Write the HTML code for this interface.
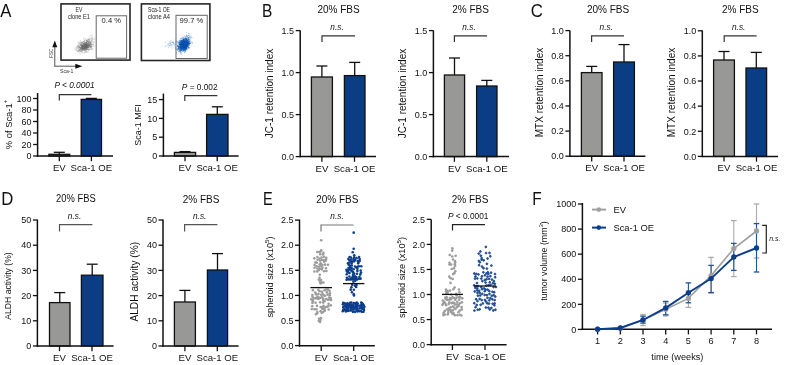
<!DOCTYPE html>
<html><head><meta charset="utf-8"><style>
html,body{margin:0;padding:0;background:#fff;}
svg{display:block;font-family:"Liberation Sans", sans-serif;}
</style></head><body>
<svg width="794" height="365" viewBox="0 0 794 365" fill="#111">
<defs><filter id="gs" filterUnits="userSpaceOnUse" x="0" y="0" width="794" height="365" color-interpolation-filters="sRGB"><feColorMatrix type="saturate" values="0"/></filter></defs>
<rect width="794" height="365" fill="#fff"/>
<g>
<circle cx="83.88" cy="47.94" r="0.45" fill="#6a6a6a" fill-opacity="0.4"/>
<circle cx="83.99" cy="45.82" r="0.45" fill="#6a6a6a" fill-opacity="0.4"/>
<circle cx="81.45" cy="46.74" r="0.45" fill="#6a6a6a" fill-opacity="0.4"/>
<circle cx="88.80" cy="46.42" r="0.45" fill="#6a6a6a" fill-opacity="0.4"/>
<circle cx="88.53" cy="46.05" r="0.45" fill="#6a6a6a" fill-opacity="0.4"/>
<circle cx="86.22" cy="46.50" r="0.45" fill="#6a6a6a" fill-opacity="0.4"/>
<circle cx="78.80" cy="50.14" r="0.45" fill="#6a6a6a" fill-opacity="0.4"/>
<circle cx="86.62" cy="47.18" r="0.45" fill="#6a6a6a" fill-opacity="0.4"/>
<circle cx="78.71" cy="43.59" r="0.45" fill="#6a6a6a" fill-opacity="0.4"/>
<circle cx="81.60" cy="46.06" r="0.45" fill="#6a6a6a" fill-opacity="0.4"/>
<circle cx="85.90" cy="46.00" r="0.45" fill="#6a6a6a" fill-opacity="0.4"/>
<circle cx="86.68" cy="44.28" r="0.45" fill="#6a6a6a" fill-opacity="0.4"/>
<circle cx="85.91" cy="47.11" r="0.45" fill="#6a6a6a" fill-opacity="0.4"/>
<circle cx="82.42" cy="51.37" r="0.45" fill="#6a6a6a" fill-opacity="0.4"/>
<circle cx="86.80" cy="48.90" r="0.45" fill="#6a6a6a" fill-opacity="0.4"/>
<circle cx="82.57" cy="45.12" r="0.45" fill="#6a6a6a" fill-opacity="0.4"/>
<circle cx="83.56" cy="46.46" r="0.45" fill="#6a6a6a" fill-opacity="0.4"/>
<circle cx="87.08" cy="46.43" r="0.45" fill="#6a6a6a" fill-opacity="0.4"/>
<circle cx="83.19" cy="44.40" r="0.45" fill="#6a6a6a" fill-opacity="0.4"/>
<circle cx="82.93" cy="49.98" r="0.45" fill="#6a6a6a" fill-opacity="0.4"/>
<circle cx="81.89" cy="47.78" r="0.45" fill="#6a6a6a" fill-opacity="0.4"/>
<circle cx="86.34" cy="42.23" r="0.45" fill="#6a6a6a" fill-opacity="0.4"/>
<circle cx="84.97" cy="49.66" r="0.45" fill="#6a6a6a" fill-opacity="0.4"/>
<circle cx="77.55" cy="47.49" r="0.45" fill="#6a6a6a" fill-opacity="0.4"/>
<circle cx="84.42" cy="44.43" r="0.45" fill="#6a6a6a" fill-opacity="0.4"/>
<circle cx="86.59" cy="45.77" r="0.45" fill="#6a6a6a" fill-opacity="0.4"/>
<circle cx="79.53" cy="49.88" r="0.45" fill="#6a6a6a" fill-opacity="0.4"/>
<circle cx="87.21" cy="48.16" r="0.45" fill="#6a6a6a" fill-opacity="0.4"/>
<circle cx="89.99" cy="45.95" r="0.45" fill="#6a6a6a" fill-opacity="0.4"/>
<circle cx="85.23" cy="43.00" r="0.45" fill="#6a6a6a" fill-opacity="0.4"/>
<circle cx="87.02" cy="44.27" r="0.45" fill="#6a6a6a" fill-opacity="0.4"/>
<circle cx="83.17" cy="43.63" r="0.45" fill="#6a6a6a" fill-opacity="0.4"/>
<circle cx="81.32" cy="45.97" r="0.45" fill="#6a6a6a" fill-opacity="0.4"/>
<circle cx="89.44" cy="40.04" r="0.45" fill="#6a6a6a" fill-opacity="0.4"/>
<circle cx="79.55" cy="48.38" r="0.45" fill="#6a6a6a" fill-opacity="0.4"/>
<circle cx="90.00" cy="46.50" r="0.45" fill="#6a6a6a" fill-opacity="0.4"/>
<circle cx="77.96" cy="41.83" r="0.45" fill="#6a6a6a" fill-opacity="0.4"/>
<circle cx="86.09" cy="44.20" r="0.45" fill="#6a6a6a" fill-opacity="0.4"/>
<circle cx="80.77" cy="49.93" r="0.45" fill="#6a6a6a" fill-opacity="0.4"/>
<circle cx="88.77" cy="45.76" r="0.45" fill="#6a6a6a" fill-opacity="0.4"/>
<circle cx="85.68" cy="47.27" r="0.45" fill="#6a6a6a" fill-opacity="0.4"/>
<circle cx="90.54" cy="46.46" r="0.45" fill="#6a6a6a" fill-opacity="0.4"/>
<circle cx="86.67" cy="47.30" r="0.45" fill="#6a6a6a" fill-opacity="0.4"/>
<circle cx="79.15" cy="51.12" r="0.45" fill="#6a6a6a" fill-opacity="0.4"/>
<circle cx="88.24" cy="46.84" r="0.45" fill="#6a6a6a" fill-opacity="0.4"/>
<circle cx="77.69" cy="46.66" r="0.45" fill="#6a6a6a" fill-opacity="0.4"/>
<circle cx="87.83" cy="41.02" r="0.45" fill="#6a6a6a" fill-opacity="0.4"/>
<circle cx="84.14" cy="49.15" r="0.45" fill="#6a6a6a" fill-opacity="0.4"/>
<circle cx="80.08" cy="51.71" r="0.45" fill="#6a6a6a" fill-opacity="0.4"/>
<circle cx="86.79" cy="45.50" r="0.45" fill="#6a6a6a" fill-opacity="0.4"/>
<circle cx="85.97" cy="47.74" r="0.45" fill="#6a6a6a" fill-opacity="0.4"/>
<circle cx="85.23" cy="49.18" r="0.45" fill="#6a6a6a" fill-opacity="0.4"/>
<circle cx="82.42" cy="45.98" r="0.45" fill="#6a6a6a" fill-opacity="0.4"/>
<circle cx="88.55" cy="45.48" r="0.45" fill="#6a6a6a" fill-opacity="0.4"/>
<circle cx="81.63" cy="49.63" r="0.45" fill="#6a6a6a" fill-opacity="0.4"/>
<circle cx="90.08" cy="43.89" r="0.45" fill="#6a6a6a" fill-opacity="0.4"/>
<circle cx="79.83" cy="47.36" r="0.45" fill="#6a6a6a" fill-opacity="0.4"/>
<circle cx="84.26" cy="45.79" r="0.45" fill="#6a6a6a" fill-opacity="0.4"/>
<circle cx="89.86" cy="42.48" r="0.45" fill="#6a6a6a" fill-opacity="0.4"/>
<circle cx="89.34" cy="42.00" r="0.45" fill="#6a6a6a" fill-opacity="0.4"/>
<circle cx="81.97" cy="48.74" r="0.45" fill="#6a6a6a" fill-opacity="0.4"/>
<circle cx="88.86" cy="47.51" r="0.45" fill="#6a6a6a" fill-opacity="0.4"/>
<circle cx="86.04" cy="46.43" r="0.45" fill="#6a6a6a" fill-opacity="0.4"/>
<circle cx="85.35" cy="47.71" r="0.45" fill="#6a6a6a" fill-opacity="0.4"/>
<circle cx="84.17" cy="47.27" r="0.45" fill="#6a6a6a" fill-opacity="0.4"/>
<circle cx="86.86" cy="45.86" r="0.45" fill="#6a6a6a" fill-opacity="0.4"/>
<circle cx="87.55" cy="47.11" r="0.45" fill="#6a6a6a" fill-opacity="0.4"/>
<circle cx="92.04" cy="45.32" r="0.45" fill="#6a6a6a" fill-opacity="0.4"/>
<circle cx="83.26" cy="45.86" r="0.45" fill="#6a6a6a" fill-opacity="0.4"/>
<circle cx="84.75" cy="48.75" r="0.45" fill="#6a6a6a" fill-opacity="0.4"/>
<circle cx="83.59" cy="47.69" r="0.45" fill="#6a6a6a" fill-opacity="0.4"/>
<circle cx="91.41" cy="38.18" r="0.45" fill="#6a6a6a" fill-opacity="0.4"/>
<circle cx="80.75" cy="48.08" r="0.45" fill="#6a6a6a" fill-opacity="0.4"/>
<circle cx="86.23" cy="46.63" r="0.45" fill="#6a6a6a" fill-opacity="0.4"/>
<circle cx="83.25" cy="48.46" r="0.45" fill="#6a6a6a" fill-opacity="0.4"/>
<circle cx="85.82" cy="44.81" r="0.45" fill="#6a6a6a" fill-opacity="0.4"/>
<circle cx="93.55" cy="45.00" r="0.45" fill="#6a6a6a" fill-opacity="0.4"/>
<circle cx="82.80" cy="46.67" r="0.45" fill="#6a6a6a" fill-opacity="0.4"/>
<circle cx="83.99" cy="46.45" r="0.45" fill="#6a6a6a" fill-opacity="0.4"/>
<circle cx="74.98" cy="47.75" r="0.45" fill="#6a6a6a" fill-opacity="0.4"/>
<circle cx="88.43" cy="42.49" r="0.45" fill="#6a6a6a" fill-opacity="0.4"/>
<circle cx="84.56" cy="48.87" r="0.45" fill="#6a6a6a" fill-opacity="0.4"/>
<circle cx="87.88" cy="49.36" r="0.45" fill="#6a6a6a" fill-opacity="0.4"/>
<circle cx="78.67" cy="47.11" r="0.45" fill="#6a6a6a" fill-opacity="0.4"/>
<circle cx="83.57" cy="48.30" r="0.45" fill="#6a6a6a" fill-opacity="0.4"/>
<circle cx="88.73" cy="38.58" r="0.45" fill="#6a6a6a" fill-opacity="0.4"/>
<circle cx="88.72" cy="41.71" r="0.45" fill="#6a6a6a" fill-opacity="0.4"/>
<circle cx="87.26" cy="41.98" r="0.45" fill="#6a6a6a" fill-opacity="0.4"/>
<circle cx="85.43" cy="49.26" r="0.45" fill="#6a6a6a" fill-opacity="0.4"/>
<circle cx="84.26" cy="47.02" r="0.45" fill="#6a6a6a" fill-opacity="0.4"/>
<circle cx="87.67" cy="46.00" r="0.45" fill="#6a6a6a" fill-opacity="0.4"/>
<circle cx="84.48" cy="50.36" r="0.45" fill="#6a6a6a" fill-opacity="0.4"/>
<circle cx="88.57" cy="44.67" r="0.45" fill="#6a6a6a" fill-opacity="0.4"/>
<circle cx="94.68" cy="40.91" r="0.45" fill="#6a6a6a" fill-opacity="0.4"/>
<circle cx="88.09" cy="44.86" r="0.45" fill="#6a6a6a" fill-opacity="0.4"/>
<circle cx="85.28" cy="48.06" r="0.45" fill="#6a6a6a" fill-opacity="0.4"/>
<circle cx="85.60" cy="47.81" r="0.45" fill="#6a6a6a" fill-opacity="0.4"/>
<circle cx="79.30" cy="44.03" r="0.45" fill="#6a6a6a" fill-opacity="0.4"/>
<circle cx="87.01" cy="43.38" r="0.45" fill="#6a6a6a" fill-opacity="0.4"/>
<circle cx="81.10" cy="43.65" r="0.45" fill="#6a6a6a" fill-opacity="0.4"/>
<circle cx="89.36" cy="47.09" r="0.45" fill="#6a6a6a" fill-opacity="0.4"/>
<circle cx="90.10" cy="42.64" r="0.45" fill="#6a6a6a" fill-opacity="0.4"/>
<circle cx="84.80" cy="43.51" r="0.45" fill="#6a6a6a" fill-opacity="0.4"/>
<circle cx="87.56" cy="49.70" r="0.45" fill="#6a6a6a" fill-opacity="0.4"/>
<circle cx="81.60" cy="51.19" r="0.45" fill="#6a6a6a" fill-opacity="0.4"/>
<circle cx="88.36" cy="45.02" r="0.45" fill="#6a6a6a" fill-opacity="0.4"/>
<circle cx="77.70" cy="51.82" r="0.45" fill="#6a6a6a" fill-opacity="0.4"/>
<circle cx="84.45" cy="44.97" r="0.45" fill="#6a6a6a" fill-opacity="0.4"/>
<circle cx="86.24" cy="47.06" r="0.45" fill="#6a6a6a" fill-opacity="0.4"/>
<circle cx="90.19" cy="42.40" r="0.45" fill="#6a6a6a" fill-opacity="0.4"/>
<circle cx="88.89" cy="49.09" r="0.45" fill="#6a6a6a" fill-opacity="0.4"/>
<circle cx="90.03" cy="44.57" r="0.45" fill="#6a6a6a" fill-opacity="0.4"/>
<circle cx="82.12" cy="49.68" r="0.45" fill="#6a6a6a" fill-opacity="0.4"/>
<circle cx="85.21" cy="46.61" r="0.45" fill="#6a6a6a" fill-opacity="0.4"/>
<circle cx="89.93" cy="44.39" r="0.45" fill="#6a6a6a" fill-opacity="0.4"/>
<circle cx="76.53" cy="47.59" r="0.45" fill="#6a6a6a" fill-opacity="0.4"/>
<circle cx="78.13" cy="50.22" r="0.45" fill="#6a6a6a" fill-opacity="0.4"/>
<circle cx="85.94" cy="44.55" r="0.45" fill="#6a6a6a" fill-opacity="0.4"/>
<circle cx="84.77" cy="48.51" r="0.45" fill="#6a6a6a" fill-opacity="0.4"/>
<circle cx="85.08" cy="49.68" r="0.45" fill="#6a6a6a" fill-opacity="0.4"/>
<circle cx="84.58" cy="49.09" r="0.45" fill="#6a6a6a" fill-opacity="0.4"/>
<circle cx="90.17" cy="49.06" r="0.45" fill="#6a6a6a" fill-opacity="0.4"/>
<circle cx="82.38" cy="49.26" r="0.45" fill="#6a6a6a" fill-opacity="0.4"/>
<circle cx="78.05" cy="45.43" r="0.45" fill="#6a6a6a" fill-opacity="0.4"/>
<circle cx="77.73" cy="50.96" r="0.45" fill="#6a6a6a" fill-opacity="0.4"/>
<circle cx="80.37" cy="47.53" r="0.45" fill="#6a6a6a" fill-opacity="0.4"/>
<circle cx="84.11" cy="46.51" r="0.45" fill="#6a6a6a" fill-opacity="0.4"/>
<circle cx="82.67" cy="47.55" r="0.45" fill="#6a6a6a" fill-opacity="0.4"/>
<circle cx="91.25" cy="44.82" r="0.45" fill="#6a6a6a" fill-opacity="0.4"/>
<circle cx="86.71" cy="48.43" r="0.45" fill="#6a6a6a" fill-opacity="0.4"/>
<circle cx="84.09" cy="43.40" r="0.45" fill="#6a6a6a" fill-opacity="0.4"/>
<circle cx="82.80" cy="49.64" r="0.45" fill="#6a6a6a" fill-opacity="0.4"/>
<circle cx="78.87" cy="46.44" r="0.45" fill="#6a6a6a" fill-opacity="0.4"/>
<circle cx="88.43" cy="47.45" r="0.45" fill="#6a6a6a" fill-opacity="0.4"/>
<circle cx="84.83" cy="48.43" r="0.45" fill="#6a6a6a" fill-opacity="0.4"/>
<circle cx="85.40" cy="43.26" r="0.45" fill="#6a6a6a" fill-opacity="0.4"/>
<circle cx="79.17" cy="46.26" r="0.45" fill="#6a6a6a" fill-opacity="0.4"/>
<circle cx="88.12" cy="44.10" r="0.45" fill="#6a6a6a" fill-opacity="0.4"/>
<circle cx="81.55" cy="45.30" r="0.45" fill="#6a6a6a" fill-opacity="0.4"/>
<circle cx="79.29" cy="47.55" r="0.45" fill="#6a6a6a" fill-opacity="0.4"/>
<circle cx="80.55" cy="48.44" r="0.45" fill="#6a6a6a" fill-opacity="0.4"/>
<circle cx="76.30" cy="49.46" r="0.45" fill="#6a6a6a" fill-opacity="0.4"/>
<circle cx="82.49" cy="42.09" r="0.45" fill="#6a6a6a" fill-opacity="0.4"/>
<circle cx="87.41" cy="45.02" r="0.45" fill="#6a6a6a" fill-opacity="0.4"/>
<circle cx="76.77" cy="46.29" r="0.45" fill="#6a6a6a" fill-opacity="0.4"/>
<circle cx="85.85" cy="44.97" r="0.45" fill="#6a6a6a" fill-opacity="0.4"/>
<circle cx="87.61" cy="47.55" r="0.45" fill="#6a6a6a" fill-opacity="0.4"/>
<circle cx="87.20" cy="46.60" r="0.45" fill="#6a6a6a" fill-opacity="0.4"/>
<circle cx="89.60" cy="46.81" r="0.45" fill="#6a6a6a" fill-opacity="0.4"/>
<circle cx="86.42" cy="40.70" r="0.45" fill="#6a6a6a" fill-opacity="0.4"/>
<circle cx="88.03" cy="48.86" r="0.45" fill="#6a6a6a" fill-opacity="0.4"/>
<circle cx="83.73" cy="45.49" r="0.45" fill="#6a6a6a" fill-opacity="0.4"/>
<circle cx="91.79" cy="40.12" r="0.45" fill="#6a6a6a" fill-opacity="0.4"/>
<circle cx="86.49" cy="52.09" r="0.45" fill="#6a6a6a" fill-opacity="0.4"/>
<circle cx="81.46" cy="49.02" r="0.45" fill="#6a6a6a" fill-opacity="0.4"/>
<circle cx="91.59" cy="44.31" r="0.45" fill="#6a6a6a" fill-opacity="0.4"/>
<circle cx="86.82" cy="48.15" r="0.45" fill="#6a6a6a" fill-opacity="0.4"/>
<circle cx="81.54" cy="47.03" r="0.45" fill="#6a6a6a" fill-opacity="0.4"/>
<circle cx="85.85" cy="48.21" r="0.45" fill="#6a6a6a" fill-opacity="0.4"/>
<circle cx="84.68" cy="45.94" r="0.45" fill="#6a6a6a" fill-opacity="0.4"/>
<circle cx="81.14" cy="46.45" r="0.45" fill="#6a6a6a" fill-opacity="0.4"/>
<circle cx="88.01" cy="45.81" r="0.45" fill="#6a6a6a" fill-opacity="0.4"/>
<circle cx="81.73" cy="45.08" r="0.45" fill="#6a6a6a" fill-opacity="0.4"/>
<circle cx="94.40" cy="46.76" r="0.45" fill="#6a6a6a" fill-opacity="0.4"/>
<circle cx="87.09" cy="39.24" r="0.45" fill="#6a6a6a" fill-opacity="0.4"/>
<circle cx="87.04" cy="47.03" r="0.45" fill="#6a6a6a" fill-opacity="0.4"/>
<circle cx="90.86" cy="45.89" r="0.45" fill="#6a6a6a" fill-opacity="0.4"/>
<circle cx="84.56" cy="47.79" r="0.45" fill="#6a6a6a" fill-opacity="0.4"/>
<circle cx="77.80" cy="50.85" r="0.45" fill="#6a6a6a" fill-opacity="0.4"/>
<circle cx="85.97" cy="44.32" r="0.45" fill="#6a6a6a" fill-opacity="0.4"/>
<circle cx="89.57" cy="49.72" r="0.45" fill="#6a6a6a" fill-opacity="0.4"/>
<circle cx="79.75" cy="46.04" r="0.45" fill="#6a6a6a" fill-opacity="0.4"/>
<circle cx="85.85" cy="46.59" r="0.45" fill="#6a6a6a" fill-opacity="0.4"/>
<circle cx="83.37" cy="44.31" r="0.45" fill="#6a6a6a" fill-opacity="0.4"/>
<circle cx="92.43" cy="47.02" r="0.45" fill="#6a6a6a" fill-opacity="0.4"/>
<circle cx="80.50" cy="44.13" r="0.45" fill="#6a6a6a" fill-opacity="0.4"/>
<circle cx="90.93" cy="47.29" r="0.45" fill="#6a6a6a" fill-opacity="0.4"/>
<circle cx="91.36" cy="46.73" r="0.45" fill="#6a6a6a" fill-opacity="0.4"/>
<circle cx="81.66" cy="47.88" r="0.45" fill="#6a6a6a" fill-opacity="0.4"/>
<circle cx="77.02" cy="46.55" r="0.45" fill="#6a6a6a" fill-opacity="0.4"/>
<circle cx="84.59" cy="47.78" r="0.45" fill="#6a6a6a" fill-opacity="0.4"/>
<circle cx="82.18" cy="46.77" r="0.45" fill="#6a6a6a" fill-opacity="0.4"/>
<circle cx="86.45" cy="46.92" r="0.45" fill="#6a6a6a" fill-opacity="0.4"/>
<circle cx="87.10" cy="46.33" r="0.45" fill="#6a6a6a" fill-opacity="0.4"/>
<circle cx="83.63" cy="48.70" r="0.45" fill="#6a6a6a" fill-opacity="0.4"/>
<circle cx="84.98" cy="44.26" r="0.45" fill="#6a6a6a" fill-opacity="0.4"/>
<circle cx="82.55" cy="46.99" r="0.45" fill="#6a6a6a" fill-opacity="0.4"/>
<circle cx="84.41" cy="46.90" r="0.45" fill="#6a6a6a" fill-opacity="0.4"/>
<circle cx="84.80" cy="46.85" r="0.45" fill="#6a6a6a" fill-opacity="0.4"/>
<circle cx="84.32" cy="43.34" r="0.45" fill="#6a6a6a" fill-opacity="0.4"/>
<circle cx="86.32" cy="48.67" r="0.45" fill="#6a6a6a" fill-opacity="0.4"/>
<circle cx="86.36" cy="45.51" r="0.45" fill="#6a6a6a" fill-opacity="0.4"/>
<circle cx="86.41" cy="43.54" r="0.45" fill="#6a6a6a" fill-opacity="0.4"/>
<circle cx="77.97" cy="48.34" r="0.45" fill="#6a6a6a" fill-opacity="0.4"/>
<circle cx="81.45" cy="49.15" r="0.45" fill="#6a6a6a" fill-opacity="0.4"/>
<circle cx="80.90" cy="40.78" r="0.45" fill="#6a6a6a" fill-opacity="0.4"/>
<circle cx="81.06" cy="51.37" r="0.45" fill="#6a6a6a" fill-opacity="0.4"/>
<circle cx="83.43" cy="43.30" r="0.45" fill="#6a6a6a" fill-opacity="0.4"/>
<circle cx="82.05" cy="48.44" r="0.45" fill="#6a6a6a" fill-opacity="0.4"/>
<circle cx="86.59" cy="46.38" r="0.45" fill="#6a6a6a" fill-opacity="0.4"/>
<circle cx="90.14" cy="46.78" r="0.45" fill="#6a6a6a" fill-opacity="0.4"/>
<circle cx="84.72" cy="47.93" r="0.45" fill="#6a6a6a" fill-opacity="0.4"/>
<circle cx="90.76" cy="47.29" r="0.45" fill="#6a6a6a" fill-opacity="0.4"/>
<circle cx="88.49" cy="42.69" r="0.45" fill="#6a6a6a" fill-opacity="0.4"/>
<circle cx="84.27" cy="48.39" r="0.45" fill="#6a6a6a" fill-opacity="0.4"/>
<circle cx="83.73" cy="49.38" r="0.45" fill="#6a6a6a" fill-opacity="0.4"/>
<circle cx="86.95" cy="48.13" r="0.45" fill="#6a6a6a" fill-opacity="0.4"/>
<circle cx="84.04" cy="53.04" r="0.45" fill="#6a6a6a" fill-opacity="0.4"/>
<circle cx="89.26" cy="44.68" r="0.45" fill="#6a6a6a" fill-opacity="0.4"/>
<circle cx="85.13" cy="52.88" r="0.45" fill="#6a6a6a" fill-opacity="0.4"/>
<circle cx="83.56" cy="48.94" r="0.45" fill="#6a6a6a" fill-opacity="0.4"/>
<circle cx="88.33" cy="45.49" r="0.45" fill="#6a6a6a" fill-opacity="0.4"/>
<circle cx="80.60" cy="47.98" r="0.45" fill="#6a6a6a" fill-opacity="0.4"/>
<circle cx="86.09" cy="48.92" r="0.45" fill="#6a6a6a" fill-opacity="0.4"/>
<circle cx="87.62" cy="45.72" r="0.45" fill="#6a6a6a" fill-opacity="0.4"/>
<circle cx="87.87" cy="46.96" r="0.45" fill="#6a6a6a" fill-opacity="0.4"/>
<circle cx="85.54" cy="46.34" r="0.45" fill="#6a6a6a" fill-opacity="0.4"/>
<circle cx="83.92" cy="48.37" r="0.45" fill="#6a6a6a" fill-opacity="0.4"/>
<circle cx="81.00" cy="45.81" r="0.45" fill="#6a6a6a" fill-opacity="0.4"/>
<circle cx="84.82" cy="42.69" r="0.45" fill="#6a6a6a" fill-opacity="0.4"/>
<circle cx="83.23" cy="41.73" r="0.45" fill="#6a6a6a" fill-opacity="0.4"/>
<circle cx="82.34" cy="48.48" r="0.45" fill="#6a6a6a" fill-opacity="0.4"/>
<circle cx="86.84" cy="45.73" r="0.45" fill="#6a6a6a" fill-opacity="0.4"/>
<circle cx="83.96" cy="43.04" r="0.45" fill="#6a6a6a" fill-opacity="0.4"/>
<circle cx="91.38" cy="45.98" r="0.45" fill="#6a6a6a" fill-opacity="0.4"/>
<circle cx="88.74" cy="43.14" r="0.45" fill="#6a6a6a" fill-opacity="0.4"/>
<circle cx="84.13" cy="41.97" r="0.45" fill="#6a6a6a" fill-opacity="0.4"/>
<circle cx="87.61" cy="48.03" r="0.45" fill="#6a6a6a" fill-opacity="0.4"/>
<circle cx="77.97" cy="48.06" r="0.45" fill="#6a6a6a" fill-opacity="0.4"/>
<circle cx="87.07" cy="41.35" r="0.45" fill="#6a6a6a" fill-opacity="0.4"/>
<circle cx="78.23" cy="45.43" r="0.45" fill="#6a6a6a" fill-opacity="0.4"/>
<circle cx="82.53" cy="43.45" r="0.45" fill="#6a6a6a" fill-opacity="0.4"/>
<circle cx="84.91" cy="47.00" r="0.45" fill="#6a6a6a" fill-opacity="0.4"/>
<circle cx="87.08" cy="47.58" r="0.45" fill="#6a6a6a" fill-opacity="0.4"/>
<circle cx="90.21" cy="47.92" r="0.45" fill="#6a6a6a" fill-opacity="0.4"/>
<circle cx="80.08" cy="46.36" r="0.45" fill="#6a6a6a" fill-opacity="0.4"/>
<circle cx="80.98" cy="44.68" r="0.45" fill="#6a6a6a" fill-opacity="0.4"/>
<circle cx="84.51" cy="46.49" r="0.45" fill="#6a6a6a" fill-opacity="0.4"/>
<circle cx="86.57" cy="41.92" r="0.45" fill="#6a6a6a" fill-opacity="0.4"/>
<circle cx="80.34" cy="47.51" r="0.45" fill="#6a6a6a" fill-opacity="0.4"/>
<circle cx="84.08" cy="45.80" r="0.45" fill="#6a6a6a" fill-opacity="0.4"/>
<circle cx="84.57" cy="44.54" r="0.45" fill="#6a6a6a" fill-opacity="0.4"/>
<circle cx="87.32" cy="46.63" r="0.45" fill="#6a6a6a" fill-opacity="0.4"/>
<circle cx="84.48" cy="44.78" r="0.45" fill="#6a6a6a" fill-opacity="0.4"/>
<circle cx="84.17" cy="39.68" r="0.45" fill="#6a6a6a" fill-opacity="0.4"/>
<circle cx="81.27" cy="47.42" r="0.45" fill="#6a6a6a" fill-opacity="0.4"/>
<circle cx="79.39" cy="48.33" r="0.45" fill="#6a6a6a" fill-opacity="0.4"/>
<circle cx="85.33" cy="42.78" r="0.45" fill="#6a6a6a" fill-opacity="0.4"/>
<circle cx="83.90" cy="45.84" r="0.45" fill="#6a6a6a" fill-opacity="0.4"/>
<circle cx="86.46" cy="47.51" r="0.45" fill="#6a6a6a" fill-opacity="0.4"/>
<circle cx="84.67" cy="44.28" r="0.45" fill="#6a6a6a" fill-opacity="0.4"/>
<circle cx="84.28" cy="46.37" r="0.45" fill="#6a6a6a" fill-opacity="0.4"/>
<circle cx="87.44" cy="46.45" r="0.45" fill="#6a6a6a" fill-opacity="0.4"/>
<circle cx="82.20" cy="43.66" r="0.45" fill="#6a6a6a" fill-opacity="0.4"/>
<circle cx="83.46" cy="44.88" r="0.45" fill="#6a6a6a" fill-opacity="0.4"/>
<circle cx="80.80" cy="47.16" r="0.45" fill="#6a6a6a" fill-opacity="0.4"/>
<circle cx="83.03" cy="47.13" r="0.45" fill="#6a6a6a" fill-opacity="0.4"/>
<circle cx="86.68" cy="44.86" r="0.45" fill="#6a6a6a" fill-opacity="0.4"/>
<circle cx="93.17" cy="43.39" r="0.45" fill="#6a6a6a" fill-opacity="0.4"/>
<circle cx="88.77" cy="45.67" r="0.45" fill="#6a6a6a" fill-opacity="0.4"/>
<circle cx="88.82" cy="39.34" r="0.45" fill="#6a6a6a" fill-opacity="0.4"/>
<circle cx="82.09" cy="47.73" r="0.45" fill="#6a6a6a" fill-opacity="0.4"/>
<circle cx="86.97" cy="51.74" r="0.45" fill="#6a6a6a" fill-opacity="0.4"/>
<circle cx="85.96" cy="49.33" r="0.45" fill="#6a6a6a" fill-opacity="0.4"/>
<circle cx="87.56" cy="48.07" r="0.45" fill="#6a6a6a" fill-opacity="0.4"/>
<circle cx="86.64" cy="45.52" r="0.45" fill="#6a6a6a" fill-opacity="0.4"/>
<circle cx="86.63" cy="43.19" r="0.45" fill="#6a6a6a" fill-opacity="0.4"/>
<circle cx="89.05" cy="42.71" r="0.45" fill="#6a6a6a" fill-opacity="0.4"/>
<circle cx="85.70" cy="51.53" r="0.45" fill="#6a6a6a" fill-opacity="0.4"/>
<circle cx="84.00" cy="46.66" r="0.45" fill="#6a6a6a" fill-opacity="0.4"/>
<circle cx="88.99" cy="45.37" r="0.45" fill="#6a6a6a" fill-opacity="0.4"/>
<circle cx="81.89" cy="47.82" r="0.45" fill="#6a6a6a" fill-opacity="0.4"/>
<circle cx="86.90" cy="47.65" r="0.45" fill="#6a6a6a" fill-opacity="0.4"/>
<circle cx="82.02" cy="51.56" r="0.45" fill="#6a6a6a" fill-opacity="0.4"/>
<circle cx="90.80" cy="44.87" r="0.45" fill="#6a6a6a" fill-opacity="0.4"/>
<circle cx="85.77" cy="45.06" r="0.45" fill="#6a6a6a" fill-opacity="0.4"/>
<circle cx="89.89" cy="43.28" r="0.45" fill="#6a6a6a" fill-opacity="0.4"/>
<circle cx="87.23" cy="44.55" r="0.45" fill="#6a6a6a" fill-opacity="0.4"/>
<circle cx="82.30" cy="48.87" r="0.45" fill="#6a6a6a" fill-opacity="0.4"/>
<circle cx="89.60" cy="45.11" r="0.45" fill="#6a6a6a" fill-opacity="0.4"/>
<circle cx="82.36" cy="49.09" r="0.45" fill="#6a6a6a" fill-opacity="0.4"/>
<circle cx="84.62" cy="47.23" r="0.45" fill="#6a6a6a" fill-opacity="0.4"/>
<circle cx="90.28" cy="47.82" r="0.45" fill="#6a6a6a" fill-opacity="0.4"/>
<circle cx="82.93" cy="52.67" r="0.45" fill="#6a6a6a" fill-opacity="0.4"/>
<circle cx="84.81" cy="48.38" r="0.45" fill="#6a6a6a" fill-opacity="0.4"/>
<circle cx="82.47" cy="46.90" r="0.45" fill="#6a6a6a" fill-opacity="0.4"/>
<circle cx="78.50" cy="52.57" r="0.45" fill="#6a6a6a" fill-opacity="0.4"/>
<circle cx="89.72" cy="42.04" r="0.45" fill="#6a6a6a" fill-opacity="0.4"/>
<circle cx="79.38" cy="43.72" r="0.45" fill="#6a6a6a" fill-opacity="0.4"/>
<circle cx="89.03" cy="44.13" r="0.45" fill="#6a6a6a" fill-opacity="0.4"/>
<circle cx="84.58" cy="45.67" r="0.45" fill="#6a6a6a" fill-opacity="0.4"/>
<circle cx="84.36" cy="43.76" r="0.45" fill="#6a6a6a" fill-opacity="0.4"/>
<circle cx="84.89" cy="42.74" r="0.45" fill="#6a6a6a" fill-opacity="0.4"/>
<circle cx="84.54" cy="47.25" r="0.45" fill="#6a6a6a" fill-opacity="0.4"/>
<circle cx="86.48" cy="45.37" r="0.45" fill="#6a6a6a" fill-opacity="0.4"/>
<circle cx="81.55" cy="47.66" r="0.45" fill="#6a6a6a" fill-opacity="0.4"/>
<circle cx="83.06" cy="50.82" r="0.45" fill="#6a6a6a" fill-opacity="0.4"/>
<circle cx="87.56" cy="45.38" r="0.45" fill="#6a6a6a" fill-opacity="0.4"/>
<circle cx="83.10" cy="45.07" r="0.45" fill="#6a6a6a" fill-opacity="0.4"/>
<circle cx="81.43" cy="46.39" r="0.45" fill="#6a6a6a" fill-opacity="0.4"/>
<circle cx="85.86" cy="47.43" r="0.45" fill="#6a6a6a" fill-opacity="0.4"/>
<circle cx="86.85" cy="51.17" r="0.45" fill="#6a6a6a" fill-opacity="0.4"/>
<circle cx="82.26" cy="47.10" r="0.45" fill="#6a6a6a" fill-opacity="0.4"/>
<circle cx="94.86" cy="39.04" r="0.45" fill="#6a6a6a" fill-opacity="0.4"/>
<circle cx="82.92" cy="47.32" r="0.45" fill="#6a6a6a" fill-opacity="0.4"/>
<circle cx="85.36" cy="47.29" r="0.45" fill="#6a6a6a" fill-opacity="0.4"/>
<circle cx="83.94" cy="47.55" r="0.45" fill="#6a6a6a" fill-opacity="0.4"/>
<circle cx="84.99" cy="48.30" r="0.45" fill="#6a6a6a" fill-opacity="0.4"/>
<circle cx="77.99" cy="45.95" r="0.45" fill="#6a6a6a" fill-opacity="0.4"/>
<circle cx="84.79" cy="43.79" r="0.45" fill="#6a6a6a" fill-opacity="0.4"/>
<circle cx="81.04" cy="48.97" r="0.45" fill="#6a6a6a" fill-opacity="0.4"/>
<circle cx="82.46" cy="48.62" r="0.45" fill="#6a6a6a" fill-opacity="0.4"/>
<circle cx="87.48" cy="46.47" r="0.45" fill="#6a6a6a" fill-opacity="0.4"/>
<circle cx="86.63" cy="45.66" r="0.45" fill="#6a6a6a" fill-opacity="0.4"/>
<circle cx="79.73" cy="47.66" r="0.45" fill="#6a6a6a" fill-opacity="0.4"/>
<circle cx="86.44" cy="44.63" r="0.45" fill="#6a6a6a" fill-opacity="0.4"/>
<circle cx="84.44" cy="48.39" r="0.45" fill="#6a6a6a" fill-opacity="0.4"/>
<circle cx="81.64" cy="48.85" r="0.45" fill="#6a6a6a" fill-opacity="0.4"/>
<circle cx="91.51" cy="43.24" r="0.45" fill="#6a6a6a" fill-opacity="0.4"/>
<circle cx="85.33" cy="45.88" r="0.45" fill="#6a6a6a" fill-opacity="0.4"/>
<circle cx="90.34" cy="45.74" r="0.45" fill="#6a6a6a" fill-opacity="0.4"/>
<circle cx="88.03" cy="43.81" r="0.45" fill="#6a6a6a" fill-opacity="0.4"/>
<circle cx="84.74" cy="46.39" r="0.45" fill="#6a6a6a" fill-opacity="0.4"/>
<circle cx="78.41" cy="51.72" r="0.45" fill="#6a6a6a" fill-opacity="0.4"/>
<circle cx="88.04" cy="41.13" r="0.45" fill="#6a6a6a" fill-opacity="0.4"/>
<circle cx="87.48" cy="45.36" r="0.45" fill="#6a6a6a" fill-opacity="0.4"/>
<circle cx="86.41" cy="46.90" r="0.45" fill="#6a6a6a" fill-opacity="0.4"/>
<circle cx="79.40" cy="47.28" r="0.45" fill="#6a6a6a" fill-opacity="0.4"/>
<circle cx="90.17" cy="43.54" r="0.45" fill="#6a6a6a" fill-opacity="0.4"/>
<circle cx="81.12" cy="43.93" r="0.45" fill="#6a6a6a" fill-opacity="0.4"/>
<circle cx="80.40" cy="48.40" r="0.45" fill="#6a6a6a" fill-opacity="0.4"/>
<circle cx="90.89" cy="45.89" r="0.45" fill="#6a6a6a" fill-opacity="0.4"/>
<circle cx="85.68" cy="51.82" r="0.45" fill="#6a6a6a" fill-opacity="0.4"/>
<circle cx="82.93" cy="45.19" r="0.45" fill="#6a6a6a" fill-opacity="0.4"/>
<circle cx="86.70" cy="47.29" r="0.45" fill="#6a6a6a" fill-opacity="0.4"/>
<circle cx="81.15" cy="44.40" r="0.45" fill="#6a6a6a" fill-opacity="0.4"/>
<circle cx="85.85" cy="46.75" r="0.45" fill="#6a6a6a" fill-opacity="0.4"/>
<circle cx="80.10" cy="47.12" r="0.45" fill="#6a6a6a" fill-opacity="0.4"/>
<circle cx="82.85" cy="48.08" r="0.45" fill="#6a6a6a" fill-opacity="0.4"/>
<circle cx="84.38" cy="46.29" r="0.45" fill="#6a6a6a" fill-opacity="0.4"/>
<circle cx="83.53" cy="49.40" r="0.45" fill="#6a6a6a" fill-opacity="0.4"/>
<circle cx="89.81" cy="44.16" r="0.45" fill="#6a6a6a" fill-opacity="0.4"/>
<circle cx="87.85" cy="43.68" r="0.45" fill="#6a6a6a" fill-opacity="0.4"/>
<circle cx="85.06" cy="48.23" r="0.45" fill="#6a6a6a" fill-opacity="0.4"/>
<circle cx="90.25" cy="44.00" r="0.45" fill="#6a6a6a" fill-opacity="0.4"/>
<circle cx="84.53" cy="46.97" r="0.45" fill="#6a6a6a" fill-opacity="0.4"/>
<circle cx="79.41" cy="47.86" r="0.45" fill="#6a6a6a" fill-opacity="0.4"/>
<circle cx="82.37" cy="47.98" r="0.45" fill="#6a6a6a" fill-opacity="0.4"/>
<circle cx="80.73" cy="42.47" r="0.45" fill="#6a6a6a" fill-opacity="0.4"/>
<circle cx="84.94" cy="47.02" r="0.45" fill="#6a6a6a" fill-opacity="0.4"/>
<circle cx="82.82" cy="49.17" r="0.45" fill="#6a6a6a" fill-opacity="0.4"/>
<circle cx="83.82" cy="45.13" r="0.45" fill="#6a6a6a" fill-opacity="0.4"/>
<circle cx="86.52" cy="41.98" r="0.45" fill="#6a6a6a" fill-opacity="0.4"/>
<circle cx="82.36" cy="46.99" r="0.45" fill="#6a6a6a" fill-opacity="0.4"/>
<circle cx="87.86" cy="45.19" r="0.45" fill="#6a6a6a" fill-opacity="0.4"/>
<circle cx="85.91" cy="44.45" r="0.45" fill="#6a6a6a" fill-opacity="0.4"/>
<circle cx="85.89" cy="50.32" r="0.45" fill="#6a6a6a" fill-opacity="0.4"/>
<circle cx="82.33" cy="53.03" r="0.45" fill="#6a6a6a" fill-opacity="0.4"/>
<circle cx="82.48" cy="47.05" r="0.45" fill="#6a6a6a" fill-opacity="0.4"/>
<circle cx="85.42" cy="48.83" r="0.45" fill="#6a6a6a" fill-opacity="0.4"/>
<circle cx="80.35" cy="42.26" r="0.45" fill="#6a6a6a" fill-opacity="0.4"/>
<circle cx="86.98" cy="47.84" r="0.45" fill="#6a6a6a" fill-opacity="0.4"/>
<circle cx="87.05" cy="52.46" r="0.45" fill="#6a6a6a" fill-opacity="0.4"/>
<circle cx="85.54" cy="46.85" r="0.45" fill="#6a6a6a" fill-opacity="0.4"/>
<circle cx="88.15" cy="46.45" r="0.45" fill="#6a6a6a" fill-opacity="0.4"/>
<circle cx="90.79" cy="41.70" r="0.45" fill="#6a6a6a" fill-opacity="0.4"/>
<circle cx="83.45" cy="38.04" r="0.45" fill="#6a6a6a" fill-opacity="0.4"/>
<circle cx="87.72" cy="44.69" r="0.45" fill="#6a6a6a" fill-opacity="0.4"/>
<circle cx="88.13" cy="50.98" r="0.45" fill="#6a6a6a" fill-opacity="0.4"/>
<circle cx="84.78" cy="45.76" r="0.45" fill="#6a6a6a" fill-opacity="0.4"/>
<circle cx="83.00" cy="44.75" r="0.45" fill="#6a6a6a" fill-opacity="0.4"/>
<circle cx="82.53" cy="48.61" r="0.45" fill="#6a6a6a" fill-opacity="0.4"/>
<circle cx="84.93" cy="46.53" r="0.45" fill="#6a6a6a" fill-opacity="0.4"/>
<circle cx="84.18" cy="48.88" r="0.45" fill="#6a6a6a" fill-opacity="0.4"/>
<circle cx="86.58" cy="45.57" r="0.45" fill="#6a6a6a" fill-opacity="0.4"/>
<circle cx="87.19" cy="45.39" r="0.45" fill="#6a6a6a" fill-opacity="0.4"/>
<circle cx="80.65" cy="51.17" r="0.45" fill="#6a6a6a" fill-opacity="0.4"/>
<circle cx="86.48" cy="43.54" r="0.45" fill="#6a6a6a" fill-opacity="0.4"/>
<circle cx="88.68" cy="46.25" r="0.45" fill="#6a6a6a" fill-opacity="0.4"/>
<circle cx="79.17" cy="51.95" r="0.45" fill="#6a6a6a" fill-opacity="0.4"/>
<circle cx="86.00" cy="48.34" r="0.45" fill="#6a6a6a" fill-opacity="0.4"/>
<circle cx="85.51" cy="45.83" r="0.45" fill="#6a6a6a" fill-opacity="0.4"/>
<circle cx="79.23" cy="50.32" r="0.45" fill="#6a6a6a" fill-opacity="0.4"/>
<circle cx="84.91" cy="45.65" r="0.45" fill="#6a6a6a" fill-opacity="0.4"/>
<circle cx="86.06" cy="46.27" r="0.45" fill="#6a6a6a" fill-opacity="0.4"/>
<circle cx="87.23" cy="44.82" r="0.45" fill="#6a6a6a" fill-opacity="0.4"/>
<circle cx="84.67" cy="41.02" r="0.45" fill="#6a6a6a" fill-opacity="0.4"/>
<circle cx="83.28" cy="48.51" r="0.45" fill="#6a6a6a" fill-opacity="0.4"/>
<circle cx="89.61" cy="44.22" r="0.45" fill="#6a6a6a" fill-opacity="0.4"/>
<circle cx="84.36" cy="50.52" r="0.45" fill="#6a6a6a" fill-opacity="0.4"/>
<circle cx="83.63" cy="48.56" r="0.45" fill="#6a6a6a" fill-opacity="0.4"/>
<circle cx="90.84" cy="44.91" r="0.45" fill="#6a6a6a" fill-opacity="0.4"/>
<circle cx="89.22" cy="43.44" r="0.45" fill="#6a6a6a" fill-opacity="0.4"/>
<circle cx="85.55" cy="46.01" r="0.45" fill="#6a6a6a" fill-opacity="0.4"/>
<circle cx="85.21" cy="49.15" r="0.45" fill="#6a6a6a" fill-opacity="0.4"/>
<circle cx="93.40" cy="42.46" r="0.45" fill="#6a6a6a" fill-opacity="0.4"/>
<circle cx="82.73" cy="48.20" r="0.45" fill="#6a6a6a" fill-opacity="0.4"/>
<circle cx="81.00" cy="48.65" r="0.45" fill="#6a6a6a" fill-opacity="0.4"/>
<circle cx="86.86" cy="45.16" r="0.45" fill="#6a6a6a" fill-opacity="0.4"/>
<circle cx="86.71" cy="41.98" r="0.45" fill="#6a6a6a" fill-opacity="0.4"/>
<circle cx="87.54" cy="41.77" r="0.45" fill="#6a6a6a" fill-opacity="0.4"/>
<circle cx="82.29" cy="45.65" r="0.45" fill="#6a6a6a" fill-opacity="0.4"/>
<circle cx="83.36" cy="48.95" r="0.45" fill="#6a6a6a" fill-opacity="0.4"/>
<circle cx="85.09" cy="45.32" r="0.45" fill="#6a6a6a" fill-opacity="0.4"/>
<circle cx="86.76" cy="49.89" r="0.45" fill="#6a6a6a" fill-opacity="0.4"/>
<circle cx="84.82" cy="47.32" r="0.45" fill="#6a6a6a" fill-opacity="0.4"/>
<circle cx="89.26" cy="45.91" r="0.45" fill="#6a6a6a" fill-opacity="0.4"/>
<circle cx="80.18" cy="53.91" r="0.45" fill="#6a6a6a" fill-opacity="0.4"/>
<circle cx="92.75" cy="39.29" r="0.45" fill="#6a6a6a" fill-opacity="0.4"/>
<circle cx="84.66" cy="47.49" r="0.45" fill="#6a6a6a" fill-opacity="0.4"/>
<circle cx="88.28" cy="47.18" r="0.45" fill="#6a6a6a" fill-opacity="0.4"/>
<circle cx="83.82" cy="43.99" r="0.45" fill="#6a6a6a" fill-opacity="0.4"/>
<circle cx="85.17" cy="48.92" r="0.45" fill="#6a6a6a" fill-opacity="0.4"/>
<circle cx="80.88" cy="44.83" r="0.45" fill="#6a6a6a" fill-opacity="0.4"/>
<circle cx="84.71" cy="41.52" r="0.45" fill="#6a6a6a" fill-opacity="0.4"/>
<circle cx="83.86" cy="45.54" r="0.45" fill="#6a6a6a" fill-opacity="0.4"/>
<circle cx="86.42" cy="44.20" r="0.45" fill="#6a6a6a" fill-opacity="0.4"/>
<circle cx="81.62" cy="46.24" r="0.45" fill="#6a6a6a" fill-opacity="0.4"/>
<circle cx="84.62" cy="44.77" r="0.45" fill="#6a6a6a" fill-opacity="0.4"/>
<circle cx="84.84" cy="48.29" r="0.45" fill="#6a6a6a" fill-opacity="0.4"/>
<circle cx="89.07" cy="49.59" r="0.45" fill="#6a6a6a" fill-opacity="0.4"/>
<circle cx="81.98" cy="46.08" r="0.45" fill="#6a6a6a" fill-opacity="0.4"/>
<circle cx="75.86" cy="53.55" r="0.45" fill="#6a6a6a" fill-opacity="0.4"/>
<circle cx="82.19" cy="47.00" r="0.45" fill="#6a6a6a" fill-opacity="0.4"/>
<circle cx="86.68" cy="42.47" r="0.45" fill="#6a6a6a" fill-opacity="0.4"/>
<circle cx="86.47" cy="45.89" r="0.45" fill="#6a6a6a" fill-opacity="0.4"/>
<circle cx="78.23" cy="48.86" r="0.45" fill="#6a6a6a" fill-opacity="0.4"/>
<circle cx="89.10" cy="40.55" r="0.45" fill="#6a6a6a" fill-opacity="0.4"/>
<circle cx="87.71" cy="46.17" r="0.45" fill="#6a6a6a" fill-opacity="0.4"/>
<circle cx="86.51" cy="47.07" r="0.45" fill="#6a6a6a" fill-opacity="0.4"/>
<circle cx="89.49" cy="44.60" r="0.45" fill="#6a6a6a" fill-opacity="0.4"/>
<circle cx="87.94" cy="44.54" r="0.45" fill="#6a6a6a" fill-opacity="0.4"/>
<circle cx="87.42" cy="43.65" r="0.45" fill="#6a6a6a" fill-opacity="0.4"/>
<circle cx="84.41" cy="50.88" r="0.45" fill="#6a6a6a" fill-opacity="0.4"/>
<circle cx="86.40" cy="45.58" r="0.45" fill="#6a6a6a" fill-opacity="0.4"/>
<circle cx="80.68" cy="45.48" r="0.45" fill="#6a6a6a" fill-opacity="0.4"/>
<circle cx="85.50" cy="48.59" r="0.45" fill="#6a6a6a" fill-opacity="0.4"/>
<circle cx="86.33" cy="47.32" r="0.45" fill="#6a6a6a" fill-opacity="0.4"/>
<circle cx="84.65" cy="49.86" r="0.45" fill="#6a6a6a" fill-opacity="0.4"/>
<circle cx="83.39" cy="45.38" r="0.45" fill="#6a6a6a" fill-opacity="0.4"/>
<circle cx="88.00" cy="45.72" r="0.45" fill="#6a6a6a" fill-opacity="0.4"/>
<circle cx="83.80" cy="45.21" r="0.45" fill="#6a6a6a" fill-opacity="0.4"/>
<circle cx="83.88" cy="48.22" r="0.45" fill="#6a6a6a" fill-opacity="0.4"/>
<circle cx="86.07" cy="43.01" r="0.45" fill="#6a6a6a" fill-opacity="0.4"/>
<circle cx="86.33" cy="46.45" r="0.45" fill="#6a6a6a" fill-opacity="0.4"/>
<circle cx="81.20" cy="49.30" r="0.45" fill="#6a6a6a" fill-opacity="0.4"/>
<circle cx="83.79" cy="45.82" r="0.45" fill="#6a6a6a" fill-opacity="0.4"/>
<circle cx="87.66" cy="48.99" r="0.45" fill="#6a6a6a" fill-opacity="0.4"/>
<circle cx="82.32" cy="48.16" r="0.45" fill="#6a6a6a" fill-opacity="0.4"/>
<circle cx="81.65" cy="53.08" r="0.45" fill="#6a6a6a" fill-opacity="0.4"/>
<circle cx="83.02" cy="49.89" r="0.45" fill="#6a6a6a" fill-opacity="0.4"/>
<circle cx="82.47" cy="49.06" r="0.45" fill="#6a6a6a" fill-opacity="0.4"/>
<circle cx="92.79" cy="37.88" r="0.45" fill="#6a6a6a" fill-opacity="0.4"/>
<circle cx="83.24" cy="48.08" r="0.45" fill="#6a6a6a" fill-opacity="0.4"/>
<circle cx="84.47" cy="44.80" r="0.45" fill="#6a6a6a" fill-opacity="0.4"/>
<circle cx="92.55" cy="44.57" r="0.45" fill="#6a6a6a" fill-opacity="0.4"/>
<circle cx="78.88" cy="50.11" r="0.45" fill="#6a6a6a" fill-opacity="0.4"/>
<circle cx="78.60" cy="50.94" r="0.45" fill="#6a6a6a" fill-opacity="0.4"/>
<circle cx="82.72" cy="47.31" r="0.45" fill="#6a6a6a" fill-opacity="0.4"/>
<circle cx="89.34" cy="45.51" r="0.45" fill="#6a6a6a" fill-opacity="0.4"/>
<circle cx="79.79" cy="43.43" r="0.45" fill="#6a6a6a" fill-opacity="0.4"/>
<circle cx="89.06" cy="47.16" r="0.45" fill="#6a6a6a" fill-opacity="0.4"/>
<circle cx="81.86" cy="49.34" r="0.45" fill="#6a6a6a" fill-opacity="0.4"/>
<circle cx="86.59" cy="47.57" r="0.45" fill="#6a6a6a" fill-opacity="0.4"/>
<circle cx="76.67" cy="47.77" r="0.45" fill="#6a6a6a" fill-opacity="0.4"/>
<circle cx="88.04" cy="47.40" r="0.45" fill="#6a6a6a" fill-opacity="0.4"/>
<circle cx="87.97" cy="39.35" r="0.45" fill="#6a6a6a" fill-opacity="0.4"/>
<circle cx="85.41" cy="47.49" r="0.45" fill="#6a6a6a" fill-opacity="0.4"/>
<circle cx="93.99" cy="41.58" r="0.45" fill="#6a6a6a" fill-opacity="0.4"/>
<circle cx="83.61" cy="46.80" r="0.45" fill="#6a6a6a" fill-opacity="0.4"/>
<circle cx="87.99" cy="44.44" r="0.45" fill="#6a6a6a" fill-opacity="0.4"/>
<circle cx="88.93" cy="43.32" r="0.45" fill="#6a6a6a" fill-opacity="0.4"/>
<circle cx="85.76" cy="44.81" r="0.45" fill="#6a6a6a" fill-opacity="0.4"/>
<circle cx="85.37" cy="44.50" r="0.45" fill="#6a6a6a" fill-opacity="0.4"/>
<circle cx="79.05" cy="50.67" r="0.45" fill="#6a6a6a" fill-opacity="0.4"/>
<circle cx="85.89" cy="44.70" r="0.45" fill="#6a6a6a" fill-opacity="0.4"/>
<circle cx="85.52" cy="48.71" r="0.45" fill="#6a6a6a" fill-opacity="0.4"/>
<circle cx="81.28" cy="47.04" r="0.45" fill="#6a6a6a" fill-opacity="0.4"/>
<circle cx="86.74" cy="47.22" r="0.45" fill="#6a6a6a" fill-opacity="0.4"/>
<circle cx="83.59" cy="41.39" r="0.45" fill="#6a6a6a" fill-opacity="0.4"/>
<circle cx="89.27" cy="46.06" r="0.45" fill="#6a6a6a" fill-opacity="0.4"/>
<circle cx="84.85" cy="45.68" r="0.45" fill="#6a6a6a" fill-opacity="0.4"/>
<circle cx="85.75" cy="45.07" r="0.45" fill="#6a6a6a" fill-opacity="0.4"/>
<circle cx="81.11" cy="45.50" r="0.45" fill="#6a6a6a" fill-opacity="0.4"/>
<circle cx="82.65" cy="45.42" r="0.45" fill="#6a6a6a" fill-opacity="0.4"/>
<circle cx="80.63" cy="49.10" r="0.45" fill="#6a6a6a" fill-opacity="0.4"/>
<circle cx="80.08" cy="49.31" r="0.45" fill="#6a6a6a" fill-opacity="0.4"/>
<circle cx="81.15" cy="48.25" r="0.45" fill="#6a6a6a" fill-opacity="0.4"/>
<circle cx="89.75" cy="45.62" r="0.45" fill="#6a6a6a" fill-opacity="0.4"/>
<circle cx="82.17" cy="47.21" r="0.45" fill="#6a6a6a" fill-opacity="0.4"/>
<circle cx="85.33" cy="41.87" r="0.45" fill="#6a6a6a" fill-opacity="0.4"/>
<circle cx="82.61" cy="47.39" r="0.45" fill="#6a6a6a" fill-opacity="0.4"/>
<circle cx="83.11" cy="47.04" r="0.45" fill="#6a6a6a" fill-opacity="0.4"/>
<circle cx="87.44" cy="47.65" r="0.45" fill="#6a6a6a" fill-opacity="0.4"/>
<circle cx="88.06" cy="47.03" r="0.45" fill="#6a6a6a" fill-opacity="0.4"/>
<circle cx="83.76" cy="46.63" r="0.45" fill="#6a6a6a" fill-opacity="0.4"/>
<circle cx="83.82" cy="45.86" r="0.45" fill="#6a6a6a" fill-opacity="0.4"/>
<circle cx="84.15" cy="42.21" r="0.45" fill="#6a6a6a" fill-opacity="0.4"/>
<circle cx="83.60" cy="46.65" r="0.45" fill="#6a6a6a" fill-opacity="0.4"/>
<circle cx="81.29" cy="47.26" r="0.45" fill="#6a6a6a" fill-opacity="0.4"/>
<circle cx="86.66" cy="45.50" r="0.45" fill="#6a6a6a" fill-opacity="0.4"/>
<circle cx="92.28" cy="37.85" r="0.45" fill="#6a6a6a" fill-opacity="0.4"/>
<circle cx="84.06" cy="41.98" r="0.45" fill="#6a6a6a" fill-opacity="0.4"/>
<circle cx="88.33" cy="52.19" r="0.45" fill="#6a6a6a" fill-opacity="0.4"/>
<circle cx="75.79" cy="49.09" r="0.45" fill="#6a6a6a" fill-opacity="0.4"/>
<circle cx="86.67" cy="45.14" r="0.45" fill="#6a6a6a" fill-opacity="0.4"/>
<circle cx="86.79" cy="40.21" r="0.45" fill="#6a6a6a" fill-opacity="0.4"/>
<circle cx="87.87" cy="46.54" r="0.45" fill="#6a6a6a" fill-opacity="0.4"/>
<circle cx="84.88" cy="44.89" r="0.45" fill="#6a6a6a" fill-opacity="0.4"/>
<circle cx="87.10" cy="44.57" r="0.45" fill="#6a6a6a" fill-opacity="0.4"/>
<circle cx="85.60" cy="44.90" r="0.45" fill="#6a6a6a" fill-opacity="0.4"/>
<circle cx="76.71" cy="48.44" r="0.45" fill="#6a6a6a" fill-opacity="0.4"/>
<circle cx="85.53" cy="48.12" r="0.45" fill="#6a6a6a" fill-opacity="0.4"/>
<circle cx="81.65" cy="47.14" r="0.45" fill="#6a6a6a" fill-opacity="0.4"/>
<circle cx="87.02" cy="46.18" r="0.45" fill="#6a6a6a" fill-opacity="0.4"/>
<circle cx="89.27" cy="50.26" r="0.45" fill="#6a6a6a" fill-opacity="0.4"/>
<circle cx="81.53" cy="42.40" r="0.45" fill="#6a6a6a" fill-opacity="0.4"/>
<circle cx="87.88" cy="49.46" r="0.45" fill="#6a6a6a" fill-opacity="0.4"/>
<circle cx="88.12" cy="47.59" r="0.45" fill="#6a6a6a" fill-opacity="0.4"/>
<circle cx="82.57" cy="45.18" r="0.45" fill="#6a6a6a" fill-opacity="0.4"/>
<circle cx="88.00" cy="43.25" r="0.45" fill="#6a6a6a" fill-opacity="0.4"/>
<circle cx="78.27" cy="45.59" r="0.45" fill="#6a6a6a" fill-opacity="0.4"/>
<circle cx="93.77" cy="48.91" r="0.45" fill="#6a6a6a" fill-opacity="0.4"/>
<circle cx="82.33" cy="45.21" r="0.45" fill="#6a6a6a" fill-opacity="0.4"/>
<circle cx="85.63" cy="44.29" r="0.45" fill="#6a6a6a" fill-opacity="0.4"/>
<circle cx="89.52" cy="44.96" r="0.45" fill="#6a6a6a" fill-opacity="0.4"/>
<circle cx="80.89" cy="50.74" r="0.45" fill="#6a6a6a" fill-opacity="0.4"/>
<circle cx="82.70" cy="47.51" r="0.45" fill="#6a6a6a" fill-opacity="0.4"/>
<circle cx="84.75" cy="45.62" r="0.45" fill="#6a6a6a" fill-opacity="0.4"/>
<circle cx="85.97" cy="44.34" r="0.45" fill="#6a6a6a" fill-opacity="0.4"/>
<circle cx="78.16" cy="42.56" r="0.45" fill="#6a6a6a" fill-opacity="0.4"/>
<circle cx="80.24" cy="45.68" r="0.45" fill="#6a6a6a" fill-opacity="0.4"/>
<circle cx="84.72" cy="46.56" r="0.45" fill="#6a6a6a" fill-opacity="0.4"/>
<circle cx="86.80" cy="46.18" r="0.45" fill="#6a6a6a" fill-opacity="0.4"/>
<circle cx="81.94" cy="45.36" r="0.45" fill="#6a6a6a" fill-opacity="0.4"/>
<circle cx="77.17" cy="47.97" r="0.45" fill="#6a6a6a" fill-opacity="0.4"/>
<circle cx="86.55" cy="47.28" r="0.45" fill="#6a6a6a" fill-opacity="0.4"/>
<circle cx="84.36" cy="46.07" r="0.45" fill="#6a6a6a" fill-opacity="0.4"/>
<circle cx="88.17" cy="45.55" r="0.45" fill="#6a6a6a" fill-opacity="0.4"/>
<circle cx="87.46" cy="47.18" r="0.45" fill="#6a6a6a" fill-opacity="0.4"/>
<circle cx="85.57" cy="49.50" r="0.45" fill="#6a6a6a" fill-opacity="0.4"/>
<circle cx="82.74" cy="46.03" r="0.45" fill="#6a6a6a" fill-opacity="0.4"/>
<circle cx="81.89" cy="45.15" r="0.45" fill="#6a6a6a" fill-opacity="0.4"/>
<circle cx="90.40" cy="49.38" r="0.45" fill="#6a6a6a" fill-opacity="0.4"/>
<circle cx="84.88" cy="47.82" r="0.45" fill="#6a6a6a" fill-opacity="0.4"/>
<circle cx="89.03" cy="47.33" r="0.45" fill="#6a6a6a" fill-opacity="0.4"/>
<circle cx="89.14" cy="42.07" r="0.45" fill="#6a6a6a" fill-opacity="0.4"/>
<circle cx="82.50" cy="48.15" r="0.45" fill="#6a6a6a" fill-opacity="0.4"/>
<circle cx="89.97" cy="45.31" r="0.45" fill="#6a6a6a" fill-opacity="0.4"/>
<circle cx="81.71" cy="46.31" r="0.45" fill="#6a6a6a" fill-opacity="0.4"/>
<circle cx="82.42" cy="44.85" r="0.45" fill="#6a6a6a" fill-opacity="0.4"/>
<circle cx="90.20" cy="43.40" r="0.45" fill="#6a6a6a" fill-opacity="0.4"/>
<circle cx="84.87" cy="51.85" r="0.45" fill="#6a6a6a" fill-opacity="0.4"/>
<circle cx="89.06" cy="46.13" r="0.45" fill="#6a6a6a" fill-opacity="0.4"/>
<circle cx="82.60" cy="48.02" r="0.45" fill="#6a6a6a" fill-opacity="0.4"/>
<circle cx="90.64" cy="46.44" r="0.45" fill="#6a6a6a" fill-opacity="0.4"/>
<circle cx="89.34" cy="45.46" r="0.45" fill="#6a6a6a" fill-opacity="0.4"/>
<circle cx="86.66" cy="45.40" r="0.45" fill="#6a6a6a" fill-opacity="0.4"/>
<circle cx="86.34" cy="49.29" r="0.45" fill="#6a6a6a" fill-opacity="0.4"/>
<circle cx="79.65" cy="47.59" r="0.45" fill="#6a6a6a" fill-opacity="0.4"/>
<circle cx="85.66" cy="44.73" r="0.45" fill="#6a6a6a" fill-opacity="0.4"/>
<circle cx="83.69" cy="48.68" r="0.45" fill="#6a6a6a" fill-opacity="0.4"/>
<circle cx="92.01" cy="46.10" r="0.45" fill="#6a6a6a" fill-opacity="0.4"/>
<circle cx="85.97" cy="42.17" r="0.45" fill="#6a6a6a" fill-opacity="0.4"/>
<circle cx="91.74" cy="44.77" r="0.45" fill="#6a6a6a" fill-opacity="0.4"/>
<circle cx="84.68" cy="43.60" r="0.45" fill="#6a6a6a" fill-opacity="0.4"/>
<circle cx="84.60" cy="43.68" r="0.45" fill="#6a6a6a" fill-opacity="0.4"/>
<circle cx="85.06" cy="47.51" r="0.45" fill="#6a6a6a" fill-opacity="0.4"/>
<circle cx="84.91" cy="47.08" r="0.45" fill="#6a6a6a" fill-opacity="0.4"/>
<circle cx="81.73" cy="50.82" r="0.45" fill="#6a6a6a" fill-opacity="0.4"/>
<circle cx="82.45" cy="42.42" r="0.45" fill="#6a6a6a" fill-opacity="0.4"/>
<circle cx="84.12" cy="44.65" r="0.45" fill="#6a6a6a" fill-opacity="0.4"/>
<circle cx="81.16" cy="46.46" r="0.45" fill="#6a6a6a" fill-opacity="0.4"/>
<circle cx="85.85" cy="43.14" r="0.45" fill="#6a6a6a" fill-opacity="0.4"/>
<circle cx="84.30" cy="50.14" r="0.45" fill="#6a6a6a" fill-opacity="0.4"/>
<circle cx="87.26" cy="45.37" r="0.45" fill="#6a6a6a" fill-opacity="0.4"/>
<circle cx="85.26" cy="45.98" r="0.45" fill="#6a6a6a" fill-opacity="0.4"/>
<circle cx="84.63" cy="48.30" r="0.45" fill="#6a6a6a" fill-opacity="0.4"/>
<circle cx="84.47" cy="40.41" r="0.45" fill="#6a6a6a" fill-opacity="0.4"/>
<circle cx="84.72" cy="44.17" r="0.45" fill="#6a6a6a" fill-opacity="0.4"/>
<circle cx="87.14" cy="44.24" r="0.45" fill="#6a6a6a" fill-opacity="0.4"/>
<circle cx="85.33" cy="51.77" r="0.45" fill="#6a6a6a" fill-opacity="0.4"/>
<circle cx="81.03" cy="44.54" r="0.45" fill="#6a6a6a" fill-opacity="0.4"/>
<circle cx="79.72" cy="41.68" r="0.45" fill="#6a6a6a" fill-opacity="0.4"/>
<circle cx="78.04" cy="49.10" r="0.45" fill="#6a6a6a" fill-opacity="0.4"/>
<circle cx="82.50" cy="42.28" r="0.45" fill="#6a6a6a" fill-opacity="0.4"/>
<circle cx="79.46" cy="49.36" r="0.45" fill="#6a6a6a" fill-opacity="0.4"/>
<circle cx="82.01" cy="46.20" r="0.45" fill="#6a6a6a" fill-opacity="0.4"/>
<circle cx="85.99" cy="49.52" r="0.45" fill="#6a6a6a" fill-opacity="0.4"/>
<circle cx="91.79" cy="47.18" r="0.45" fill="#6a6a6a" fill-opacity="0.4"/>
<circle cx="85.32" cy="46.73" r="0.45" fill="#6a6a6a" fill-opacity="0.4"/>
<circle cx="91.29" cy="48.31" r="0.45" fill="#6a6a6a" fill-opacity="0.4"/>
<circle cx="83.68" cy="47.85" r="0.45" fill="#6a6a6a" fill-opacity="0.4"/>
<circle cx="85.83" cy="46.26" r="0.45" fill="#6a6a6a" fill-opacity="0.4"/>
<circle cx="83.00" cy="43.52" r="0.45" fill="#6a6a6a" fill-opacity="0.4"/>
<circle cx="82.88" cy="43.00" r="0.45" fill="#6a6a6a" fill-opacity="0.4"/>
<circle cx="89.21" cy="46.60" r="0.45" fill="#6a6a6a" fill-opacity="0.4"/>
<circle cx="80.46" cy="51.07" r="0.45" fill="#6a6a6a" fill-opacity="0.4"/>
<circle cx="88.01" cy="40.73" r="0.45" fill="#6a6a6a" fill-opacity="0.4"/>
<circle cx="91.43" cy="46.71" r="0.45" fill="#6a6a6a" fill-opacity="0.4"/>
<circle cx="92.23" cy="41.34" r="0.45" fill="#6a6a6a" fill-opacity="0.4"/>
<circle cx="86.71" cy="46.97" r="0.45" fill="#6a6a6a" fill-opacity="0.4"/>
<circle cx="85.53" cy="46.64" r="0.45" fill="#6a6a6a" fill-opacity="0.4"/>
<circle cx="88.59" cy="41.62" r="0.45" fill="#6a6a6a" fill-opacity="0.4"/>
<circle cx="80.33" cy="44.05" r="0.45" fill="#6a6a6a" fill-opacity="0.4"/>
<circle cx="82.79" cy="45.40" r="0.45" fill="#6a6a6a" fill-opacity="0.4"/>
<circle cx="86.12" cy="46.73" r="0.45" fill="#6a6a6a" fill-opacity="0.4"/>
<circle cx="84.91" cy="44.66" r="0.45" fill="#6a6a6a" fill-opacity="0.4"/>
<circle cx="83.21" cy="49.23" r="0.45" fill="#6a6a6a" fill-opacity="0.4"/>
<circle cx="87.55" cy="45.93" r="0.45" fill="#6a6a6a" fill-opacity="0.4"/>
<circle cx="83.64" cy="50.63" r="0.45" fill="#6a6a6a" fill-opacity="0.4"/>
<circle cx="82.66" cy="48.60" r="0.45" fill="#6a6a6a" fill-opacity="0.4"/>
<circle cx="88.95" cy="44.64" r="0.45" fill="#6a6a6a" fill-opacity="0.4"/>
<circle cx="87.77" cy="42.80" r="0.45" fill="#6a6a6a" fill-opacity="0.4"/>
<circle cx="88.45" cy="45.95" r="0.45" fill="#6a6a6a" fill-opacity="0.4"/>
<circle cx="79.09" cy="49.59" r="0.45" fill="#6a6a6a" fill-opacity="0.4"/>
<circle cx="81.59" cy="50.49" r="0.45" fill="#6a6a6a" fill-opacity="0.4"/>
<circle cx="82.36" cy="46.63" r="0.45" fill="#6a6a6a" fill-opacity="0.4"/>
<circle cx="85.82" cy="45.29" r="0.45" fill="#6a6a6a" fill-opacity="0.4"/>
<circle cx="85.73" cy="44.76" r="0.45" fill="#6a6a6a" fill-opacity="0.4"/>
<circle cx="87.22" cy="45.78" r="0.45" fill="#6a6a6a" fill-opacity="0.4"/>
<circle cx="85.56" cy="39.24" r="0.45" fill="#6a6a6a" fill-opacity="0.4"/>
<circle cx="88.98" cy="45.38" r="0.45" fill="#6a6a6a" fill-opacity="0.4"/>
<circle cx="78.38" cy="48.33" r="0.45" fill="#6a6a6a" fill-opacity="0.4"/>
<circle cx="86.48" cy="48.67" r="0.45" fill="#6a6a6a" fill-opacity="0.4"/>
<circle cx="80.90" cy="51.34" r="0.45" fill="#6a6a6a" fill-opacity="0.4"/>
<circle cx="84.23" cy="52.61" r="0.45" fill="#6a6a6a" fill-opacity="0.4"/>
<circle cx="84.27" cy="48.26" r="0.45" fill="#6a6a6a" fill-opacity="0.4"/>
<circle cx="83.48" cy="43.92" r="0.45" fill="#6a6a6a" fill-opacity="0.4"/>
<circle cx="88.75" cy="47.66" r="0.45" fill="#6a6a6a" fill-opacity="0.4"/>
<circle cx="90.34" cy="47.11" r="0.45" fill="#6a6a6a" fill-opacity="0.4"/>
<circle cx="82.74" cy="42.74" r="0.45" fill="#6a6a6a" fill-opacity="0.4"/>
<circle cx="82.46" cy="45.31" r="0.45" fill="#6a6a6a" fill-opacity="0.4"/>
<circle cx="81.87" cy="48.64" r="0.45" fill="#6a6a6a" fill-opacity="0.4"/>
<circle cx="85.98" cy="45.41" r="0.45" fill="#6a6a6a" fill-opacity="0.4"/>
<circle cx="85.42" cy="45.87" r="0.45" fill="#6a6a6a" fill-opacity="0.4"/>
<circle cx="85.57" cy="48.10" r="0.45" fill="#6a6a6a" fill-opacity="0.4"/>
<circle cx="88.25" cy="43.76" r="0.45" fill="#6a6a6a" fill-opacity="0.4"/>
<circle cx="79.38" cy="51.43" r="0.45" fill="#6a6a6a" fill-opacity="0.4"/>
<circle cx="85.21" cy="49.09" r="0.45" fill="#6a6a6a" fill-opacity="0.4"/>
<circle cx="78.88" cy="47.12" r="0.45" fill="#6a6a6a" fill-opacity="0.4"/>
<circle cx="84.90" cy="42.73" r="0.45" fill="#6a6a6a" fill-opacity="0.4"/>
<circle cx="82.94" cy="48.72" r="0.45" fill="#6a6a6a" fill-opacity="0.4"/>
<circle cx="88.68" cy="49.41" r="0.45" fill="#6a6a6a" fill-opacity="0.4"/>
<circle cx="81.69" cy="43.67" r="0.45" fill="#6a6a6a" fill-opacity="0.4"/>
<circle cx="86.67" cy="48.29" r="0.45" fill="#6a6a6a" fill-opacity="0.4"/>
<circle cx="85.49" cy="42.93" r="0.45" fill="#6a6a6a" fill-opacity="0.4"/>
<circle cx="87.62" cy="47.67" r="0.45" fill="#6a6a6a" fill-opacity="0.4"/>
<circle cx="86.79" cy="44.65" r="0.45" fill="#6a6a6a" fill-opacity="0.4"/>
<circle cx="85.89" cy="48.11" r="0.45" fill="#6a6a6a" fill-opacity="0.4"/>
<circle cx="82.79" cy="42.26" r="0.45" fill="#6a6a6a" fill-opacity="0.4"/>
<circle cx="85.98" cy="47.31" r="0.45" fill="#6a6a6a" fill-opacity="0.4"/>
<circle cx="84.85" cy="48.64" r="0.45" fill="#6a6a6a" fill-opacity="0.4"/>
<circle cx="82.69" cy="46.75" r="0.45" fill="#6a6a6a" fill-opacity="0.4"/>
<circle cx="83.70" cy="48.13" r="0.45" fill="#6a6a6a" fill-opacity="0.4"/>
<circle cx="90.54" cy="44.26" r="0.45" fill="#6a6a6a" fill-opacity="0.4"/>
<circle cx="92.20" cy="48.33" r="0.45" fill="#6a6a6a" fill-opacity="0.4"/>
<circle cx="87.65" cy="47.14" r="0.45" fill="#6a6a6a" fill-opacity="0.4"/>
<circle cx="91.17" cy="44.27" r="0.45" fill="#6a6a6a" fill-opacity="0.4"/>
<circle cx="84.40" cy="43.82" r="0.45" fill="#6a6a6a" fill-opacity="0.4"/>
<circle cx="86.50" cy="49.35" r="0.45" fill="#6a6a6a" fill-opacity="0.4"/>
<circle cx="86.72" cy="46.97" r="0.45" fill="#6a6a6a" fill-opacity="0.4"/>
<circle cx="84.08" cy="47.02" r="0.45" fill="#6a6a6a" fill-opacity="0.4"/>
<circle cx="79.67" cy="50.40" r="0.45" fill="#6a6a6a" fill-opacity="0.4"/>
<circle cx="83.32" cy="43.99" r="0.45" fill="#6a6a6a" fill-opacity="0.4"/>
<circle cx="82.09" cy="45.02" r="0.45" fill="#6a6a6a" fill-opacity="0.4"/>
<circle cx="87.88" cy="48.27" r="0.45" fill="#6a6a6a" fill-opacity="0.4"/>
<circle cx="79.91" cy="50.03" r="0.45" fill="#6a6a6a" fill-opacity="0.4"/>
<circle cx="88.00" cy="44.10" r="0.45" fill="#6a6a6a" fill-opacity="0.4"/>
<circle cx="79.45" cy="45.92" r="0.45" fill="#6a6a6a" fill-opacity="0.4"/>
<circle cx="82.52" cy="47.87" r="0.45" fill="#6a6a6a" fill-opacity="0.4"/>
<circle cx="83.51" cy="41.61" r="0.45" fill="#6a6a6a" fill-opacity="0.4"/>
<circle cx="85.64" cy="42.30" r="0.45" fill="#6a6a6a" fill-opacity="0.4"/>
<circle cx="88.06" cy="42.49" r="0.45" fill="#6a6a6a" fill-opacity="0.4"/>
<circle cx="82.31" cy="44.89" r="0.45" fill="#6a6a6a" fill-opacity="0.4"/>
<circle cx="82.85" cy="50.20" r="0.45" fill="#6a6a6a" fill-opacity="0.4"/>
<circle cx="87.87" cy="47.12" r="0.45" fill="#6a6a6a" fill-opacity="0.4"/>
<circle cx="85.95" cy="42.18" r="0.45" fill="#6a6a6a" fill-opacity="0.4"/>
<circle cx="82.93" cy="45.50" r="0.45" fill="#6a6a6a" fill-opacity="0.4"/>
<circle cx="81.28" cy="48.61" r="0.45" fill="#6a6a6a" fill-opacity="0.4"/>
<circle cx="82.13" cy="45.31" r="0.45" fill="#6a6a6a" fill-opacity="0.4"/>
<circle cx="81.04" cy="42.18" r="0.45" fill="#6a6a6a" fill-opacity="0.4"/>
<circle cx="86.94" cy="49.20" r="0.45" fill="#6a6a6a" fill-opacity="0.4"/>
<circle cx="85.43" cy="43.76" r="0.45" fill="#6a6a6a" fill-opacity="0.4"/>
<circle cx="75.06" cy="49.39" r="0.45" fill="#6a6a6a" fill-opacity="0.4"/>
<circle cx="89.18" cy="46.00" r="0.45" fill="#6a6a6a" fill-opacity="0.4"/>
<circle cx="88.14" cy="49.26" r="0.45" fill="#6a6a6a" fill-opacity="0.4"/>
<circle cx="88.86" cy="44.22" r="0.45" fill="#6a6a6a" fill-opacity="0.4"/>
<circle cx="88.59" cy="47.37" r="0.45" fill="#6a6a6a" fill-opacity="0.4"/>
<circle cx="79.27" cy="46.83" r="0.45" fill="#6a6a6a" fill-opacity="0.4"/>
<circle cx="79.67" cy="47.47" r="0.45" fill="#6a6a6a" fill-opacity="0.4"/>
<circle cx="86.88" cy="43.15" r="0.45" fill="#6a6a6a" fill-opacity="0.4"/>
<circle cx="77.40" cy="51.63" r="0.45" fill="#6a6a6a" fill-opacity="0.4"/>
<circle cx="86.16" cy="49.76" r="0.45" fill="#6a6a6a" fill-opacity="0.4"/>
<circle cx="80.03" cy="50.33" r="0.45" fill="#6a6a6a" fill-opacity="0.4"/>
<circle cx="92.27" cy="49.52" r="0.45" fill="#6a6a6a" fill-opacity="0.4"/>
<circle cx="84.04" cy="47.28" r="0.45" fill="#6a6a6a" fill-opacity="0.4"/>
<circle cx="84.25" cy="49.07" r="0.45" fill="#6a6a6a" fill-opacity="0.4"/>
<circle cx="88.54" cy="45.64" r="0.45" fill="#6a6a6a" fill-opacity="0.4"/>
<circle cx="79.91" cy="49.56" r="0.45" fill="#6a6a6a" fill-opacity="0.4"/>
<circle cx="83.11" cy="48.43" r="0.45" fill="#6a6a6a" fill-opacity="0.4"/>
<circle cx="85.75" cy="50.26" r="0.45" fill="#6a6a6a" fill-opacity="0.4"/>
<circle cx="88.90" cy="44.18" r="0.45" fill="#6a6a6a" fill-opacity="0.4"/>
<circle cx="86.06" cy="50.53" r="0.45" fill="#6a6a6a" fill-opacity="0.4"/>
<circle cx="82.87" cy="48.00" r="0.45" fill="#6a6a6a" fill-opacity="0.4"/>
<circle cx="89.09" cy="48.45" r="0.45" fill="#6a6a6a" fill-opacity="0.4"/>
<circle cx="86.67" cy="42.57" r="0.45" fill="#6a6a6a" fill-opacity="0.4"/>
<circle cx="80.26" cy="48.22" r="0.45" fill="#6a6a6a" fill-opacity="0.4"/>
<circle cx="86.19" cy="52.48" r="0.45" fill="#6a6a6a" fill-opacity="0.4"/>
<circle cx="81.70" cy="50.09" r="0.45" fill="#6a6a6a" fill-opacity="0.4"/>
<circle cx="87.57" cy="41.44" r="0.45" fill="#6a6a6a" fill-opacity="0.4"/>
<circle cx="81.85" cy="47.59" r="0.45" fill="#6a6a6a" fill-opacity="0.4"/>
<circle cx="83.02" cy="46.48" r="0.45" fill="#6a6a6a" fill-opacity="0.4"/>
<circle cx="86.49" cy="43.91" r="0.45" fill="#6a6a6a" fill-opacity="0.4"/>
<circle cx="86.48" cy="44.35" r="0.45" fill="#6a6a6a" fill-opacity="0.4"/>
<circle cx="82.84" cy="48.27" r="0.45" fill="#6a6a6a" fill-opacity="0.4"/>
<circle cx="82.74" cy="47.67" r="0.45" fill="#6a6a6a" fill-opacity="0.4"/>
<circle cx="90.56" cy="44.96" r="0.45" fill="#6a6a6a" fill-opacity="0.4"/>
<circle cx="84.27" cy="48.40" r="0.45" fill="#6a6a6a" fill-opacity="0.4"/>
<circle cx="83.48" cy="49.48" r="0.45" fill="#6a6a6a" fill-opacity="0.4"/>
<circle cx="80.18" cy="49.18" r="0.45" fill="#6a6a6a" fill-opacity="0.4"/>
<circle cx="82.96" cy="44.86" r="0.45" fill="#6a6a6a" fill-opacity="0.4"/>
<circle cx="91.17" cy="42.58" r="0.45" fill="#6a6a6a" fill-opacity="0.4"/>
<circle cx="91.12" cy="46.40" r="0.45" fill="#6a6a6a" fill-opacity="0.4"/>
<circle cx="90.03" cy="42.56" r="0.45" fill="#6a6a6a" fill-opacity="0.4"/>
<circle cx="89.12" cy="48.95" r="0.45" fill="#6a6a6a" fill-opacity="0.4"/>
<circle cx="84.38" cy="46.18" r="0.45" fill="#6a6a6a" fill-opacity="0.4"/>
<circle cx="93.64" cy="44.53" r="0.45" fill="#6a6a6a" fill-opacity="0.4"/>
<circle cx="83.28" cy="45.21" r="0.45" fill="#6a6a6a" fill-opacity="0.4"/>
<circle cx="86.41" cy="46.81" r="0.45" fill="#6a6a6a" fill-opacity="0.4"/>
<circle cx="85.44" cy="50.59" r="0.45" fill="#6a6a6a" fill-opacity="0.4"/>
<circle cx="83.62" cy="47.91" r="0.45" fill="#6a6a6a" fill-opacity="0.4"/>
<circle cx="90.05" cy="42.48" r="0.45" fill="#6a6a6a" fill-opacity="0.4"/>
<circle cx="88.54" cy="50.05" r="0.45" fill="#6a6a6a" fill-opacity="0.4"/>
<circle cx="79.92" cy="44.90" r="0.45" fill="#6a6a6a" fill-opacity="0.4"/>
<circle cx="81.06" cy="42.71" r="0.45" fill="#6a6a6a" fill-opacity="0.4"/>
<circle cx="86.43" cy="41.28" r="0.45" fill="#6a6a6a" fill-opacity="0.4"/>
<circle cx="86.60" cy="49.60" r="0.45" fill="#6a6a6a" fill-opacity="0.4"/>
<circle cx="78.99" cy="47.13" r="0.45" fill="#6a6a6a" fill-opacity="0.4"/>
<circle cx="77.90" cy="50.18" r="0.45" fill="#6a6a6a" fill-opacity="0.4"/>
<circle cx="82.15" cy="46.42" r="0.45" fill="#6a6a6a" fill-opacity="0.4"/>
<circle cx="85.00" cy="47.73" r="0.45" fill="#6a6a6a" fill-opacity="0.4"/>
<circle cx="83.55" cy="46.77" r="0.45" fill="#6a6a6a" fill-opacity="0.4"/>
<circle cx="82.83" cy="47.21" r="0.45" fill="#6a6a6a" fill-opacity="0.4"/>
<circle cx="80.58" cy="47.67" r="0.45" fill="#6a6a6a" fill-opacity="0.4"/>
<circle cx="77.84" cy="46.99" r="0.45" fill="#6a6a6a" fill-opacity="0.4"/>
<circle cx="91.70" cy="44.79" r="0.45" fill="#6a6a6a" fill-opacity="0.4"/>
<circle cx="80.26" cy="48.24" r="0.45" fill="#6a6a6a" fill-opacity="0.4"/>
<circle cx="81.30" cy="43.14" r="0.45" fill="#6a6a6a" fill-opacity="0.4"/>
<circle cx="82.15" cy="48.96" r="0.45" fill="#6a6a6a" fill-opacity="0.4"/>
<circle cx="86.18" cy="45.79" r="0.45" fill="#6a6a6a" fill-opacity="0.4"/>
<circle cx="81.46" cy="44.55" r="0.45" fill="#6a6a6a" fill-opacity="0.4"/>
<circle cx="89.66" cy="45.74" r="0.45" fill="#6a6a6a" fill-opacity="0.4"/>
<circle cx="81.37" cy="41.96" r="0.45" fill="#6a6a6a" fill-opacity="0.4"/>
<circle cx="79.87" cy="53.95" r="0.45" fill="#6a6a6a" fill-opacity="0.4"/>
<circle cx="80.66" cy="47.29" r="0.45" fill="#6a6a6a" fill-opacity="0.4"/>
<circle cx="85.56" cy="45.80" r="0.45" fill="#6a6a6a" fill-opacity="0.4"/>
<circle cx="83.80" cy="43.19" r="0.45" fill="#6a6a6a" fill-opacity="0.4"/>
<circle cx="81.02" cy="51.66" r="0.45" fill="#6a6a6a" fill-opacity="0.4"/>
<circle cx="82.08" cy="49.25" r="0.45" fill="#6a6a6a" fill-opacity="0.4"/>
<circle cx="78.70" cy="47.31" r="0.45" fill="#6a6a6a" fill-opacity="0.4"/>
<circle cx="85.74" cy="48.77" r="0.45" fill="#6a6a6a" fill-opacity="0.4"/>
<circle cx="80.76" cy="48.97" r="0.45" fill="#6a6a6a" fill-opacity="0.4"/>
<circle cx="86.19" cy="44.17" r="0.45" fill="#6a6a6a" fill-opacity="0.4"/>
<circle cx="86.52" cy="43.68" r="0.45" fill="#6a6a6a" fill-opacity="0.4"/>
<circle cx="81.93" cy="47.10" r="0.45" fill="#6a6a6a" fill-opacity="0.4"/>
<circle cx="75.03" cy="48.69" r="0.45" fill="#6a6a6a" fill-opacity="0.4"/>
<circle cx="81.20" cy="43.65" r="0.45" fill="#6a6a6a" fill-opacity="0.4"/>
<circle cx="83.27" cy="48.73" r="0.45" fill="#6a6a6a" fill-opacity="0.4"/>
<circle cx="83.34" cy="49.98" r="0.45" fill="#6a6a6a" fill-opacity="0.4"/>
<circle cx="80.63" cy="44.18" r="0.45" fill="#6a6a6a" fill-opacity="0.4"/>
<circle cx="90.38" cy="45.94" r="0.45" fill="#6a6a6a" fill-opacity="0.4"/>
<circle cx="88.20" cy="43.42" r="0.45" fill="#6a6a6a" fill-opacity="0.4"/>
<circle cx="87.70" cy="46.30" r="0.45" fill="#6a6a6a" fill-opacity="0.4"/>
<circle cx="87.13" cy="45.85" r="0.45" fill="#6a6a6a" fill-opacity="0.4"/>
<circle cx="89.14" cy="43.62" r="0.45" fill="#6a6a6a" fill-opacity="0.4"/>
<circle cx="81.33" cy="43.57" r="0.45" fill="#6a6a6a" fill-opacity="0.4"/>
<circle cx="88.98" cy="43.44" r="0.45" fill="#6a6a6a" fill-opacity="0.4"/>
<circle cx="81.04" cy="45.01" r="0.45" fill="#6a6a6a" fill-opacity="0.4"/>
<circle cx="83.20" cy="43.61" r="0.45" fill="#6a6a6a" fill-opacity="0.4"/>
<circle cx="83.75" cy="45.09" r="0.45" fill="#6a6a6a" fill-opacity="0.4"/>
<circle cx="82.82" cy="44.49" r="0.45" fill="#6a6a6a" fill-opacity="0.4"/>
<circle cx="84.93" cy="45.20" r="0.45" fill="#6a6a6a" fill-opacity="0.4"/>
<circle cx="85.21" cy="46.92" r="0.45" fill="#6a6a6a" fill-opacity="0.4"/>
<circle cx="86.02" cy="40.54" r="0.45" fill="#6a6a6a" fill-opacity="0.4"/>
<circle cx="82.87" cy="44.89" r="0.45" fill="#6a6a6a" fill-opacity="0.4"/>
<circle cx="87.59" cy="41.68" r="0.45" fill="#6a6a6a" fill-opacity="0.4"/>
<circle cx="82.23" cy="46.33" r="0.45" fill="#6a6a6a" fill-opacity="0.4"/>
<circle cx="83.59" cy="49.22" r="0.45" fill="#6a6a6a" fill-opacity="0.4"/>
<circle cx="83.21" cy="49.26" r="0.45" fill="#6a6a6a" fill-opacity="0.4"/>
<circle cx="79.52" cy="43.20" r="0.45" fill="#6a6a6a" fill-opacity="0.4"/>
<circle cx="89.19" cy="46.35" r="0.45" fill="#6a6a6a" fill-opacity="0.4"/>
<circle cx="86.56" cy="46.25" r="0.45" fill="#6a6a6a" fill-opacity="0.4"/>
<circle cx="86.54" cy="42.87" r="0.45" fill="#6a6a6a" fill-opacity="0.4"/>
<circle cx="88.21" cy="44.16" r="0.45" fill="#6a6a6a" fill-opacity="0.4"/>
<circle cx="88.35" cy="45.69" r="0.45" fill="#6a6a6a" fill-opacity="0.4"/>
<circle cx="77.69" cy="45.01" r="0.45" fill="#6a6a6a" fill-opacity="0.4"/>
<circle cx="88.86" cy="44.99" r="0.45" fill="#6a6a6a" fill-opacity="0.4"/>
<circle cx="83.38" cy="47.39" r="0.45" fill="#6a6a6a" fill-opacity="0.4"/>
<circle cx="83.27" cy="45.42" r="0.45" fill="#6a6a6a" fill-opacity="0.4"/>
<circle cx="85.17" cy="46.67" r="0.45" fill="#6a6a6a" fill-opacity="0.4"/>
<circle cx="90.26" cy="45.08" r="0.45" fill="#6a6a6a" fill-opacity="0.4"/>
<circle cx="91.57" cy="49.18" r="0.45" fill="#6a6a6a" fill-opacity="0.4"/>
<circle cx="90.98" cy="47.46" r="0.45" fill="#6a6a6a" fill-opacity="0.4"/>
<circle cx="85.27" cy="46.62" r="0.45" fill="#6a6a6a" fill-opacity="0.4"/>
<circle cx="84.29" cy="44.69" r="0.45" fill="#6a6a6a" fill-opacity="0.4"/>
<circle cx="84.56" cy="44.84" r="0.45" fill="#6a6a6a" fill-opacity="0.4"/>
<circle cx="90.70" cy="46.20" r="0.45" fill="#6a6a6a" fill-opacity="0.4"/>
<circle cx="83.19" cy="41.98" r="0.45" fill="#6a6a6a" fill-opacity="0.4"/>
<circle cx="84.61" cy="45.40" r="0.45" fill="#6a6a6a" fill-opacity="0.4"/>
<circle cx="80.89" cy="44.55" r="0.45" fill="#6a6a6a" fill-opacity="0.4"/>
<circle cx="76.70" cy="49.97" r="0.45" fill="#6a6a6a" fill-opacity="0.4"/>
<circle cx="84.56" cy="52.99" r="0.45" fill="#6a6a6a" fill-opacity="0.4"/>
<circle cx="84.69" cy="46.05" r="0.45" fill="#6a6a6a" fill-opacity="0.4"/>
<circle cx="90.00" cy="45.37" r="0.45" fill="#6a6a6a" fill-opacity="0.4"/>
<circle cx="85.40" cy="45.30" r="0.45" fill="#6a6a6a" fill-opacity="0.4"/>
<circle cx="82.62" cy="50.76" r="0.45" fill="#6a6a6a" fill-opacity="0.4"/>
<circle cx="88.40" cy="49.80" r="0.45" fill="#6a6a6a" fill-opacity="0.4"/>
<circle cx="83.54" cy="46.81" r="0.45" fill="#6a6a6a" fill-opacity="0.4"/>
<circle cx="81.63" cy="49.68" r="0.45" fill="#6a6a6a" fill-opacity="0.4"/>
<circle cx="79.78" cy="49.14" r="0.45" fill="#6a6a6a" fill-opacity="0.4"/>
<circle cx="88.75" cy="48.93" r="0.45" fill="#6a6a6a" fill-opacity="0.4"/>
<circle cx="81.42" cy="50.04" r="0.45" fill="#6a6a6a" fill-opacity="0.4"/>
<circle cx="82.23" cy="45.16" r="0.45" fill="#6a6a6a" fill-opacity="0.4"/>
<circle cx="80.04" cy="50.57" r="0.45" fill="#6a6a6a" fill-opacity="0.4"/>
<circle cx="90.73" cy="43.34" r="0.45" fill="#6a6a6a" fill-opacity="0.4"/>
<circle cx="82.07" cy="46.26" r="0.45" fill="#6a6a6a" fill-opacity="0.4"/>
<circle cx="93.83" cy="46.57" r="0.45" fill="#6a6a6a" fill-opacity="0.4"/>
<circle cx="82.85" cy="42.37" r="0.45" fill="#6a6a6a" fill-opacity="0.4"/>
<circle cx="82.38" cy="50.04" r="0.45" fill="#6a6a6a" fill-opacity="0.4"/>
<circle cx="91.52" cy="43.96" r="0.45" fill="#6a6a6a" fill-opacity="0.4"/>
<circle cx="82.31" cy="45.76" r="0.45" fill="#6a6a6a" fill-opacity="0.4"/>
<circle cx="78.01" cy="50.48" r="0.45" fill="#6a6a6a" fill-opacity="0.4"/>
<circle cx="80.89" cy="50.12" r="0.45" fill="#6a6a6a" fill-opacity="0.4"/>
<circle cx="78.65" cy="44.80" r="0.45" fill="#6a6a6a" fill-opacity="0.4"/>
<circle cx="85.84" cy="44.20" r="0.45" fill="#6a6a6a" fill-opacity="0.4"/>
<circle cx="87.61" cy="45.68" r="0.45" fill="#6a6a6a" fill-opacity="0.4"/>
<circle cx="80.57" cy="49.08" r="0.45" fill="#6a6a6a" fill-opacity="0.4"/>
<circle cx="87.83" cy="40.77" r="0.45" fill="#6a6a6a" fill-opacity="0.4"/>
<circle cx="91.37" cy="45.93" r="0.45" fill="#6a6a6a" fill-opacity="0.4"/>
<circle cx="87.54" cy="40.98" r="0.45" fill="#6a6a6a" fill-opacity="0.4"/>
<circle cx="82.21" cy="46.20" r="0.45" fill="#6a6a6a" fill-opacity="0.4"/>
<circle cx="88.68" cy="41.69" r="0.45" fill="#6a6a6a" fill-opacity="0.4"/>
<circle cx="81.62" cy="42.10" r="0.45" fill="#6a6a6a" fill-opacity="0.4"/>
<circle cx="83.93" cy="47.50" r="0.45" fill="#6a6a6a" fill-opacity="0.4"/>
<circle cx="78.73" cy="46.50" r="0.45" fill="#6a6a6a" fill-opacity="0.4"/>
<circle cx="86.64" cy="49.93" r="0.45" fill="#6a6a6a" fill-opacity="0.4"/>
<circle cx="87.19" cy="45.00" r="0.45" fill="#6a6a6a" fill-opacity="0.4"/>
<circle cx="80.56" cy="45.14" r="0.45" fill="#6a6a6a" fill-opacity="0.4"/>
<circle cx="82.41" cy="47.40" r="0.45" fill="#6a6a6a" fill-opacity="0.4"/>
<circle cx="84.62" cy="50.66" r="0.45" fill="#6a6a6a" fill-opacity="0.4"/>
<circle cx="85.83" cy="43.42" r="0.45" fill="#6a6a6a" fill-opacity="0.4"/>
<circle cx="90.36" cy="47.34" r="0.45" fill="#6a6a6a" fill-opacity="0.4"/>
<circle cx="85.16" cy="44.48" r="0.45" fill="#6a6a6a" fill-opacity="0.4"/>
<circle cx="78.07" cy="45.58" r="0.45" fill="#6a6a6a" fill-opacity="0.4"/>
<circle cx="88.08" cy="43.51" r="0.45" fill="#6a6a6a" fill-opacity="0.4"/>
<circle cx="80.05" cy="48.14" r="0.45" fill="#6a6a6a" fill-opacity="0.4"/>
<circle cx="85.68" cy="47.70" r="0.45" fill="#6a6a6a" fill-opacity="0.4"/>
<circle cx="87.16" cy="49.34" r="0.45" fill="#6a6a6a" fill-opacity="0.4"/>
<circle cx="81.78" cy="49.67" r="0.45" fill="#6a6a6a" fill-opacity="0.4"/>
<circle cx="81.25" cy="49.09" r="0.45" fill="#6a6a6a" fill-opacity="0.4"/>
<circle cx="85.44" cy="46.85" r="0.45" fill="#6a6a6a" fill-opacity="0.4"/>
<circle cx="88.28" cy="45.44" r="0.45" fill="#6a6a6a" fill-opacity="0.4"/>
<circle cx="88.80" cy="47.56" r="0.45" fill="#6a6a6a" fill-opacity="0.4"/>
<circle cx="85.29" cy="44.84" r="0.45" fill="#6a6a6a" fill-opacity="0.4"/>
<circle cx="82.09" cy="45.78" r="0.45" fill="#6a6a6a" fill-opacity="0.4"/>
<circle cx="84.07" cy="46.53" r="0.45" fill="#6a6a6a" fill-opacity="0.4"/>
<circle cx="95.53" cy="45.20" r="0.45" fill="#6a6a6a" fill-opacity="0.4"/>
<circle cx="87.57" cy="43.50" r="0.45" fill="#6a6a6a" fill-opacity="0.4"/>
<circle cx="82.24" cy="46.26" r="0.45" fill="#6a6a6a" fill-opacity="0.4"/>
<circle cx="85.49" cy="43.60" r="0.45" fill="#6a6a6a" fill-opacity="0.4"/>
<circle cx="90.60" cy="43.45" r="0.45" fill="#6a6a6a" fill-opacity="0.4"/>
<circle cx="88.68" cy="39.47" r="0.45" fill="#6a6a6a" fill-opacity="0.4"/>
<circle cx="84.77" cy="47.11" r="0.45" fill="#6a6a6a" fill-opacity="0.4"/>
<circle cx="85.49" cy="47.74" r="0.45" fill="#6a6a6a" fill-opacity="0.4"/>
<circle cx="85.81" cy="46.55" r="0.45" fill="#6a6a6a" fill-opacity="0.4"/>
<circle cx="77.99" cy="46.38" r="0.45" fill="#6a6a6a" fill-opacity="0.4"/>
<circle cx="76.37" cy="50.20" r="0.45" fill="#6a6a6a" fill-opacity="0.4"/>
<circle cx="85.91" cy="45.62" r="0.45" fill="#6a6a6a" fill-opacity="0.4"/>
<circle cx="81.84" cy="45.71" r="0.45" fill="#6a6a6a" fill-opacity="0.4"/>
<circle cx="91.44" cy="49.03" r="0.45" fill="#6a6a6a" fill-opacity="0.4"/>
<circle cx="84.59" cy="49.71" r="0.45" fill="#6a6a6a" fill-opacity="0.4"/>
<circle cx="79.08" cy="43.01" r="0.45" fill="#6a6a6a" fill-opacity="0.4"/>
<circle cx="83.06" cy="44.64" r="0.45" fill="#6a6a6a" fill-opacity="0.4"/>
<circle cx="82.79" cy="47.40" r="0.45" fill="#6a6a6a" fill-opacity="0.4"/>
<circle cx="95.69" cy="41.87" r="0.45" fill="#6a6a6a" fill-opacity="0.4"/>
<circle cx="84.98" cy="47.05" r="0.45" fill="#6a6a6a" fill-opacity="0.4"/>
<circle cx="84.68" cy="48.79" r="0.45" fill="#6a6a6a" fill-opacity="0.4"/>
<circle cx="91.19" cy="41.58" r="0.45" fill="#6a6a6a" fill-opacity="0.4"/>
<circle cx="85.38" cy="45.58" r="0.45" fill="#6a6a6a" fill-opacity="0.4"/>
<circle cx="86.08" cy="42.19" r="0.45" fill="#6a6a6a" fill-opacity="0.4"/>
<circle cx="78.47" cy="42.20" r="0.45" fill="#6a6a6a" fill-opacity="0.4"/>
<circle cx="86.69" cy="46.39" r="0.45" fill="#6a6a6a" fill-opacity="0.4"/>
<circle cx="85.07" cy="40.34" r="0.45" fill="#6a6a6a" fill-opacity="0.4"/>
<circle cx="83.46" cy="44.84" r="0.45" fill="#6a6a6a" fill-opacity="0.4"/>
<circle cx="79.71" cy="45.42" r="0.45" fill="#6a6a6a" fill-opacity="0.4"/>
<circle cx="87.31" cy="47.12" r="0.45" fill="#6a6a6a" fill-opacity="0.4"/>
<circle cx="84.72" cy="47.72" r="0.45" fill="#6a6a6a" fill-opacity="0.4"/>
<circle cx="82.63" cy="47.15" r="0.45" fill="#6a6a6a" fill-opacity="0.4"/>
<circle cx="84.95" cy="47.76" r="0.45" fill="#6a6a6a" fill-opacity="0.4"/>
<circle cx="84.55" cy="46.10" r="0.45" fill="#6a6a6a" fill-opacity="0.4"/>
<circle cx="84.32" cy="44.90" r="0.45" fill="#6a6a6a" fill-opacity="0.4"/>
<circle cx="92.84" cy="45.59" r="0.45" fill="#6a6a6a" fill-opacity="0.4"/>
<circle cx="86.34" cy="51.79" r="0.45" fill="#6a6a6a" fill-opacity="0.4"/>
<circle cx="89.85" cy="41.14" r="0.45" fill="#6a6a6a" fill-opacity="0.4"/>
<circle cx="87.30" cy="47.86" r="0.45" fill="#6a6a6a" fill-opacity="0.4"/>
<circle cx="91.59" cy="47.95" r="0.45" fill="#6a6a6a" fill-opacity="0.4"/>
<circle cx="87.57" cy="42.69" r="0.45" fill="#6a6a6a" fill-opacity="0.4"/>
<circle cx="81.67" cy="47.90" r="0.45" fill="#6a6a6a" fill-opacity="0.4"/>
<circle cx="86.62" cy="43.34" r="0.45" fill="#6a6a6a" fill-opacity="0.4"/>
<circle cx="83.42" cy="45.75" r="0.45" fill="#6a6a6a" fill-opacity="0.4"/>
<circle cx="85.02" cy="47.19" r="0.45" fill="#6a6a6a" fill-opacity="0.4"/>
<circle cx="83.77" cy="43.54" r="0.45" fill="#6a6a6a" fill-opacity="0.4"/>
<circle cx="89.27" cy="49.26" r="0.45" fill="#6a6a6a" fill-opacity="0.4"/>
<circle cx="84.42" cy="49.09" r="0.45" fill="#6a6a6a" fill-opacity="0.4"/>
<circle cx="86.40" cy="47.65" r="0.45" fill="#6a6a6a" fill-opacity="0.4"/>
<circle cx="86.53" cy="44.01" r="0.45" fill="#6a6a6a" fill-opacity="0.4"/>
<circle cx="86.87" cy="48.41" r="0.45" fill="#6a6a6a" fill-opacity="0.4"/>
<circle cx="81.57" cy="52.22" r="0.45" fill="#6a6a6a" fill-opacity="0.4"/>
<circle cx="92.32" cy="49.04" r="0.45" fill="#6a6a6a" fill-opacity="0.4"/>
<circle cx="91.96" cy="46.40" r="0.45" fill="#6a6a6a" fill-opacity="0.4"/>
<circle cx="83.58" cy="45.20" r="0.45" fill="#6a6a6a" fill-opacity="0.4"/>
<circle cx="81.87" cy="47.46" r="0.45" fill="#6a6a6a" fill-opacity="0.4"/>
<circle cx="84.68" cy="48.13" r="0.45" fill="#6a6a6a" fill-opacity="0.4"/>
<circle cx="77.53" cy="54.16" r="0.45" fill="#6a6a6a" fill-opacity="0.4"/>
<circle cx="92.99" cy="44.18" r="0.45" fill="#6a6a6a" fill-opacity="0.4"/>
<circle cx="87.23" cy="46.96" r="0.45" fill="#6a6a6a" fill-opacity="0.4"/>
<circle cx="85.78" cy="45.61" r="0.45" fill="#6a6a6a" fill-opacity="0.4"/>
<circle cx="84.36" cy="44.43" r="0.45" fill="#6a6a6a" fill-opacity="0.4"/>
<circle cx="85.44" cy="46.17" r="0.45" fill="#6a6a6a" fill-opacity="0.4"/>
<circle cx="85.95" cy="43.93" r="0.45" fill="#6a6a6a" fill-opacity="0.4"/>
<circle cx="84.94" cy="46.48" r="0.45" fill="#6a6a6a" fill-opacity="0.4"/>
<circle cx="86.98" cy="43.14" r="0.45" fill="#6a6a6a" fill-opacity="0.4"/>
<circle cx="86.31" cy="48.49" r="0.45" fill="#6a6a6a" fill-opacity="0.4"/>
<circle cx="86.95" cy="44.90" r="0.45" fill="#6a6a6a" fill-opacity="0.4"/>
<circle cx="83.03" cy="46.27" r="0.45" fill="#6a6a6a" fill-opacity="0.4"/>
<circle cx="87.43" cy="49.64" r="0.45" fill="#6a6a6a" fill-opacity="0.4"/>
<circle cx="84.23" cy="44.92" r="0.45" fill="#6a6a6a" fill-opacity="0.4"/>
<circle cx="86.15" cy="46.56" r="0.45" fill="#6a6a6a" fill-opacity="0.4"/>
<circle cx="81.53" cy="45.39" r="0.45" fill="#6a6a6a" fill-opacity="0.4"/>
<circle cx="84.43" cy="48.19" r="0.45" fill="#6a6a6a" fill-opacity="0.4"/>
<circle cx="80.50" cy="44.95" r="0.45" fill="#6a6a6a" fill-opacity="0.4"/>
<circle cx="86.60" cy="42.83" r="0.45" fill="#6a6a6a" fill-opacity="0.4"/>
<circle cx="85.19" cy="47.19" r="0.45" fill="#6a6a6a" fill-opacity="0.4"/>
<circle cx="84.40" cy="43.93" r="0.45" fill="#6a6a6a" fill-opacity="0.4"/>
<circle cx="84.58" cy="45.62" r="0.45" fill="#6a6a6a" fill-opacity="0.4"/>
<circle cx="86.01" cy="43.96" r="0.45" fill="#6a6a6a" fill-opacity="0.4"/>
<circle cx="88.73" cy="41.13" r="0.45" fill="#6a6a6a" fill-opacity="0.4"/>
<circle cx="84.17" cy="46.59" r="0.45" fill="#6a6a6a" fill-opacity="0.4"/>
<circle cx="88.26" cy="43.95" r="0.45" fill="#6a6a6a" fill-opacity="0.4"/>
<circle cx="90.92" cy="39.51" r="0.4" fill="#7a7a7a" fill-opacity="0.3"/>
<circle cx="91.42" cy="46.16" r="0.4" fill="#7a7a7a" fill-opacity="0.3"/>
<circle cx="88.46" cy="43.04" r="0.4" fill="#7a7a7a" fill-opacity="0.3"/>
<circle cx="87.09" cy="44.92" r="0.4" fill="#7a7a7a" fill-opacity="0.3"/>
<circle cx="92.65" cy="40.88" r="0.4" fill="#7a7a7a" fill-opacity="0.3"/>
<circle cx="86.55" cy="43.36" r="0.4" fill="#7a7a7a" fill-opacity="0.3"/>
<circle cx="92.49" cy="44.01" r="0.4" fill="#7a7a7a" fill-opacity="0.3"/>
<circle cx="91.61" cy="35.63" r="0.4" fill="#7a7a7a" fill-opacity="0.3"/>
<circle cx="87.73" cy="46.09" r="0.4" fill="#7a7a7a" fill-opacity="0.3"/>
<circle cx="86.31" cy="45.56" r="0.4" fill="#7a7a7a" fill-opacity="0.3"/>
<circle cx="94.39" cy="42.61" r="0.4" fill="#7a7a7a" fill-opacity="0.3"/>
<circle cx="92.41" cy="39.85" r="0.4" fill="#7a7a7a" fill-opacity="0.3"/>
<circle cx="86.31" cy="41.93" r="0.4" fill="#7a7a7a" fill-opacity="0.3"/>
<circle cx="88.98" cy="41.48" r="0.4" fill="#7a7a7a" fill-opacity="0.3"/>
<circle cx="91.31" cy="40.66" r="0.4" fill="#7a7a7a" fill-opacity="0.3"/>
<circle cx="90.00" cy="42.63" r="0.4" fill="#7a7a7a" fill-opacity="0.3"/>
<circle cx="89.49" cy="46.92" r="0.4" fill="#7a7a7a" fill-opacity="0.3"/>
<circle cx="90.65" cy="41.48" r="0.4" fill="#7a7a7a" fill-opacity="0.3"/>
<circle cx="88.96" cy="39.79" r="0.4" fill="#7a7a7a" fill-opacity="0.3"/>
<circle cx="93.00" cy="41.13" r="0.4" fill="#7a7a7a" fill-opacity="0.3"/>
<circle cx="86.70" cy="40.49" r="0.4" fill="#7a7a7a" fill-opacity="0.3"/>
<circle cx="89.14" cy="40.27" r="0.4" fill="#7a7a7a" fill-opacity="0.3"/>
<circle cx="92.32" cy="37.43" r="0.4" fill="#7a7a7a" fill-opacity="0.3"/>
<circle cx="90.78" cy="41.63" r="0.4" fill="#7a7a7a" fill-opacity="0.3"/>
<circle cx="86.44" cy="42.35" r="0.4" fill="#7a7a7a" fill-opacity="0.3"/>
<circle cx="89.25" cy="43.03" r="0.4" fill="#7a7a7a" fill-opacity="0.3"/>
<circle cx="88.33" cy="42.66" r="0.4" fill="#7a7a7a" fill-opacity="0.3"/>
<circle cx="85.17" cy="39.31" r="0.4" fill="#7a7a7a" fill-opacity="0.3"/>
<circle cx="91.54" cy="44.09" r="0.4" fill="#7a7a7a" fill-opacity="0.3"/>
<circle cx="89.47" cy="39.75" r="0.4" fill="#7a7a7a" fill-opacity="0.3"/>
<circle cx="92.31" cy="34.70" r="0.4" fill="#7a7a7a" fill-opacity="0.3"/>
<circle cx="87.42" cy="43.96" r="0.4" fill="#7a7a7a" fill-opacity="0.3"/>
<circle cx="91.20" cy="38.07" r="0.4" fill="#7a7a7a" fill-opacity="0.3"/>
<circle cx="84.59" cy="46.90" r="0.4" fill="#7a7a7a" fill-opacity="0.3"/>
<circle cx="89.90" cy="38.77" r="0.4" fill="#7a7a7a" fill-opacity="0.3"/>
<circle cx="89.64" cy="44.12" r="0.4" fill="#7a7a7a" fill-opacity="0.3"/>
<circle cx="82.76" cy="46.32" r="0.4" fill="#7a7a7a" fill-opacity="0.3"/>
<circle cx="91.42" cy="34.94" r="0.4" fill="#7a7a7a" fill-opacity="0.3"/>
<circle cx="91.50" cy="35.81" r="0.4" fill="#7a7a7a" fill-opacity="0.3"/>
<circle cx="92.46" cy="41.99" r="0.4" fill="#7a7a7a" fill-opacity="0.3"/>
<circle cx="95.36" cy="38.35" r="0.4" fill="#7a7a7a" fill-opacity="0.3"/>
<circle cx="89.51" cy="44.58" r="0.4" fill="#7a7a7a" fill-opacity="0.3"/>
<circle cx="87.84" cy="39.81" r="0.4" fill="#7a7a7a" fill-opacity="0.3"/>
<circle cx="88.53" cy="41.51" r="0.4" fill="#7a7a7a" fill-opacity="0.3"/>
<circle cx="86.69" cy="43.57" r="0.4" fill="#7a7a7a" fill-opacity="0.3"/>
<circle cx="90.91" cy="41.38" r="0.4" fill="#7a7a7a" fill-opacity="0.3"/>
<circle cx="93.92" cy="39.52" r="0.4" fill="#7a7a7a" fill-opacity="0.3"/>
<circle cx="92.90" cy="39.11" r="0.4" fill="#7a7a7a" fill-opacity="0.3"/>
<circle cx="91.47" cy="35.36" r="0.4" fill="#7a7a7a" fill-opacity="0.3"/>
<circle cx="90.01" cy="40.87" r="0.4" fill="#7a7a7a" fill-opacity="0.3"/>
<circle cx="88.21" cy="40.00" r="0.4" fill="#7a7a7a" fill-opacity="0.3"/>
<circle cx="88.60" cy="39.59" r="0.4" fill="#7a7a7a" fill-opacity="0.3"/>
<circle cx="83.80" cy="41.06" r="0.4" fill="#7a7a7a" fill-opacity="0.3"/>
<circle cx="88.07" cy="40.29" r="0.4" fill="#7a7a7a" fill-opacity="0.3"/>
<circle cx="86.75" cy="41.74" r="0.4" fill="#7a7a7a" fill-opacity="0.3"/>
<circle cx="91.54" cy="40.29" r="0.4" fill="#7a7a7a" fill-opacity="0.3"/>
<circle cx="88.22" cy="45.79" r="0.4" fill="#7a7a7a" fill-opacity="0.3"/>
<circle cx="92.04" cy="43.62" r="0.4" fill="#7a7a7a" fill-opacity="0.3"/>
<circle cx="92.50" cy="39.85" r="0.4" fill="#7a7a7a" fill-opacity="0.3"/>
<circle cx="89.16" cy="44.85" r="0.4" fill="#7a7a7a" fill-opacity="0.3"/>
<circle cx="88.06" cy="41.48" r="0.4" fill="#7a7a7a" fill-opacity="0.3"/>
<circle cx="90.48" cy="42.37" r="0.4" fill="#7a7a7a" fill-opacity="0.3"/>
<circle cx="88.78" cy="44.56" r="0.4" fill="#7a7a7a" fill-opacity="0.3"/>
<circle cx="89.04" cy="43.74" r="0.4" fill="#7a7a7a" fill-opacity="0.3"/>
<circle cx="92.28" cy="42.80" r="0.4" fill="#7a7a7a" fill-opacity="0.3"/>
<circle cx="91.41" cy="37.65" r="0.4" fill="#7a7a7a" fill-opacity="0.3"/>
<circle cx="86.09" cy="40.47" r="0.4" fill="#7a7a7a" fill-opacity="0.3"/>
<circle cx="90.74" cy="45.63" r="0.4" fill="#7a7a7a" fill-opacity="0.3"/>
<circle cx="86.32" cy="43.13" r="0.4" fill="#7a7a7a" fill-opacity="0.3"/>
<circle cx="87.28" cy="39.86" r="0.4" fill="#7a7a7a" fill-opacity="0.3"/>
<circle cx="88.78" cy="43.70" r="0.4" fill="#7a7a7a" fill-opacity="0.3"/>
<circle cx="90.05" cy="44.84" r="0.4" fill="#7a7a7a" fill-opacity="0.3"/>
<circle cx="86.94" cy="44.71" r="0.4" fill="#7a7a7a" fill-opacity="0.3"/>
<circle cx="91.92" cy="41.15" r="0.4" fill="#7a7a7a" fill-opacity="0.3"/>
<circle cx="90.74" cy="39.56" r="0.4" fill="#7a7a7a" fill-opacity="0.3"/>
<circle cx="86.67" cy="40.96" r="0.4" fill="#7a7a7a" fill-opacity="0.3"/>
<circle cx="87.83" cy="50.38" r="0.4" fill="#7a7a7a" fill-opacity="0.3"/>
<circle cx="88.24" cy="46.64" r="0.4" fill="#7a7a7a" fill-opacity="0.3"/>
<circle cx="90.03" cy="42.30" r="0.4" fill="#7a7a7a" fill-opacity="0.3"/>
<circle cx="91.43" cy="38.76" r="0.4" fill="#7a7a7a" fill-opacity="0.3"/>
<circle cx="91.88" cy="42.06" r="0.4" fill="#7a7a7a" fill-opacity="0.3"/>
<circle cx="85.56" cy="44.18" r="0.4" fill="#7a7a7a" fill-opacity="0.3"/>
<circle cx="90.94" cy="42.50" r="0.4" fill="#7a7a7a" fill-opacity="0.3"/>
<circle cx="93.62" cy="39.33" r="0.4" fill="#7a7a7a" fill-opacity="0.3"/>
<circle cx="90.83" cy="43.39" r="0.4" fill="#7a7a7a" fill-opacity="0.3"/>
<circle cx="87.16" cy="45.57" r="0.4" fill="#7a7a7a" fill-opacity="0.3"/>
<circle cx="85.73" cy="38.55" r="0.4" fill="#7a7a7a" fill-opacity="0.3"/>
<circle cx="90.86" cy="37.99" r="0.4" fill="#7a7a7a" fill-opacity="0.3"/>
<circle cx="89.20" cy="36.73" r="0.4" fill="#7a7a7a" fill-opacity="0.3"/>
<circle cx="89.68" cy="38.13" r="0.4" fill="#7a7a7a" fill-opacity="0.3"/>
<circle cx="90.39" cy="36.79" r="0.4" fill="#7a7a7a" fill-opacity="0.3"/>
<circle cx="90.67" cy="40.45" r="0.4" fill="#7a7a7a" fill-opacity="0.3"/>
<circle cx="89.67" cy="41.26" r="0.4" fill="#7a7a7a" fill-opacity="0.3"/>
<circle cx="89.84" cy="37.54" r="0.4" fill="#7a7a7a" fill-opacity="0.3"/>
<circle cx="82.83" cy="43.14" r="0.4" fill="#7a7a7a" fill-opacity="0.3"/>
<circle cx="87.07" cy="40.73" r="0.4" fill="#7a7a7a" fill-opacity="0.3"/>
<circle cx="90.61" cy="35.41" r="0.4" fill="#7a7a7a" fill-opacity="0.3"/>
<circle cx="87.52" cy="40.16" r="0.4" fill="#7a7a7a" fill-opacity="0.3"/>
<circle cx="86.75" cy="43.10" r="0.4" fill="#7a7a7a" fill-opacity="0.3"/>
<circle cx="89.14" cy="39.17" r="0.4" fill="#7a7a7a" fill-opacity="0.3"/>
<circle cx="86.94" cy="44.46" r="0.4" fill="#7a7a7a" fill-opacity="0.3"/>
<circle cx="87.79" cy="43.62" r="0.4" fill="#7a7a7a" fill-opacity="0.3"/>
<circle cx="90.67" cy="35.66" r="0.4" fill="#7a7a7a" fill-opacity="0.3"/>
<circle cx="86.68" cy="42.16" r="0.4" fill="#7a7a7a" fill-opacity="0.3"/>
<circle cx="90.39" cy="43.59" r="0.4" fill="#7a7a7a" fill-opacity="0.3"/>
<circle cx="91.59" cy="44.06" r="0.4" fill="#7a7a7a" fill-opacity="0.3"/>
<circle cx="88.53" cy="41.11" r="0.4" fill="#7a7a7a" fill-opacity="0.3"/>
<circle cx="91.52" cy="39.78" r="0.4" fill="#7a7a7a" fill-opacity="0.3"/>
<circle cx="92.25" cy="36.19" r="0.4" fill="#7a7a7a" fill-opacity="0.3"/>
<circle cx="91.20" cy="40.60" r="0.4" fill="#7a7a7a" fill-opacity="0.3"/>
<circle cx="84.39" cy="45.56" r="0.4" fill="#7a7a7a" fill-opacity="0.3"/>
<circle cx="90.31" cy="41.37" r="0.4" fill="#7a7a7a" fill-opacity="0.3"/>
<circle cx="86.70" cy="40.78" r="0.4" fill="#7a7a7a" fill-opacity="0.3"/>
<circle cx="93.43" cy="38.16" r="0.4" fill="#7a7a7a" fill-opacity="0.3"/>
<circle cx="80.47" cy="41.07" r="0.4" fill="#7a7a7a" fill-opacity="0.3"/>
<circle cx="86.38" cy="41.83" r="0.4" fill="#7a7a7a" fill-opacity="0.3"/>
<circle cx="88.48" cy="39.05" r="0.4" fill="#7a7a7a" fill-opacity="0.3"/>
<circle cx="87.31" cy="45.08" r="0.4" fill="#7a7a7a" fill-opacity="0.3"/>
<circle cx="85.75" cy="48.12" r="0.4" fill="#7a7a7a" fill-opacity="0.3"/>
<circle cx="88.09" cy="38.61" r="0.4" fill="#7a7a7a" fill-opacity="0.3"/>
<circle cx="91.55" cy="42.69" r="0.4" fill="#7a7a7a" fill-opacity="0.3"/>
<circle cx="86.79" cy="44.33" r="0.4" fill="#7a7a7a" fill-opacity="0.3"/>
<circle cx="84.72" cy="39.89" r="0.4" fill="#7a7a7a" fill-opacity="0.3"/>
<circle cx="92.43" cy="40.07" r="0.4" fill="#7a7a7a" fill-opacity="0.3"/>
<circle cx="86.11" cy="43.79" r="0.4" fill="#7a7a7a" fill-opacity="0.3"/>
<circle cx="91.88" cy="40.88" r="0.4" fill="#7a7a7a" fill-opacity="0.3"/>
<circle cx="84.80" cy="41.57" r="0.4" fill="#7a7a7a" fill-opacity="0.3"/>
<circle cx="90.59" cy="43.51" r="0.4" fill="#7a7a7a" fill-opacity="0.3"/>
<circle cx="94.32" cy="39.65" r="0.4" fill="#7a7a7a" fill-opacity="0.3"/>
<circle cx="88.25" cy="41.68" r="0.4" fill="#7a7a7a" fill-opacity="0.3"/>
<circle cx="92.64" cy="38.01" r="0.4" fill="#7a7a7a" fill-opacity="0.3"/>
<circle cx="92.89" cy="32.64" r="0.4" fill="#7a7a7a" fill-opacity="0.3"/>
<circle cx="91.57" cy="39.04" r="0.4" fill="#7a7a7a" fill-opacity="0.3"/>
<circle cx="90.69" cy="43.25" r="0.4" fill="#7a7a7a" fill-opacity="0.3"/>
<circle cx="86.43" cy="41.96" r="0.4" fill="#7a7a7a" fill-opacity="0.3"/>
<circle cx="90.13" cy="43.08" r="0.4" fill="#7a7a7a" fill-opacity="0.3"/>
<circle cx="87.08" cy="39.14" r="0.4" fill="#7a7a7a" fill-opacity="0.3"/>
<circle cx="84.50" cy="50.12" r="0.4" fill="#7a7a7a" fill-opacity="0.3"/>
<circle cx="89.00" cy="40.96" r="0.4" fill="#7a7a7a" fill-opacity="0.3"/>
<circle cx="85.61" cy="45.13" r="0.4" fill="#7a7a7a" fill-opacity="0.3"/>
<circle cx="88.11" cy="46.04" r="0.4" fill="#7a7a7a" fill-opacity="0.3"/>
<circle cx="91.71" cy="41.05" r="0.4" fill="#7a7a7a" fill-opacity="0.3"/>
<circle cx="91.39" cy="37.80" r="0.4" fill="#7a7a7a" fill-opacity="0.3"/>
<circle cx="88.65" cy="40.00" r="0.4" fill="#7a7a7a" fill-opacity="0.3"/>
<circle cx="86.20" cy="42.31" r="0.4" fill="#7a7a7a" fill-opacity="0.3"/>
<circle cx="89.12" cy="45.81" r="0.4" fill="#7a7a7a" fill-opacity="0.3"/>
<circle cx="80.78" cy="41.54" r="0.4" fill="#7a7a7a" fill-opacity="0.3"/>
<circle cx="87.11" cy="40.69" r="0.4" fill="#7a7a7a" fill-opacity="0.3"/>
<circle cx="90.60" cy="42.43" r="0.4" fill="#7a7a7a" fill-opacity="0.3"/>
<circle cx="89.57" cy="40.09" r="0.4" fill="#7a7a7a" fill-opacity="0.3"/>
<circle cx="90.79" cy="42.26" r="0.4" fill="#7a7a7a" fill-opacity="0.3"/>
<circle cx="84.71" cy="41.83" r="0.4" fill="#7a7a7a" fill-opacity="0.3"/>
<circle cx="85.93" cy="38.85" r="0.4" fill="#7a7a7a" fill-opacity="0.3"/>
<circle cx="89.88" cy="41.59" r="0.4" fill="#7a7a7a" fill-opacity="0.3"/>
<circle cx="89.80" cy="38.86" r="0.4" fill="#7a7a7a" fill-opacity="0.3"/>
<circle cx="88.98" cy="38.94" r="0.4" fill="#7a7a7a" fill-opacity="0.3"/>
<circle cx="90.49" cy="43.30" r="0.4" fill="#7a7a7a" fill-opacity="0.3"/>
<circle cx="94.06" cy="44.17" r="0.4" fill="#7a7a7a" fill-opacity="0.3"/>
<circle cx="87.41" cy="40.64" r="0.4" fill="#7a7a7a" fill-opacity="0.3"/>
<circle cx="87.06" cy="42.96" r="0.4" fill="#7a7a7a" fill-opacity="0.3"/>
<circle cx="94.65" cy="42.39" r="0.4" fill="#7a7a7a" fill-opacity="0.3"/>
<circle cx="83.78" cy="39.12" r="0.4" fill="#7a7a7a" fill-opacity="0.3"/>
<circle cx="86.14" cy="43.79" r="0.4" fill="#7a7a7a" fill-opacity="0.3"/>
<circle cx="89.50" cy="42.38" r="0.4" fill="#7a7a7a" fill-opacity="0.3"/>
<circle cx="94.13" cy="38.00" r="0.4" fill="#7a7a7a" fill-opacity="0.3"/>
<circle cx="87.30" cy="47.79" r="0.4" fill="#7a7a7a" fill-opacity="0.3"/>
<circle cx="90.39" cy="39.01" r="0.4" fill="#7a7a7a" fill-opacity="0.3"/>
<circle cx="84.23" cy="38.24" r="0.4" fill="#7a7a7a" fill-opacity="0.3"/>
<circle cx="83.14" cy="43.17" r="0.4" fill="#7a7a7a" fill-opacity="0.3"/>
<circle cx="89.61" cy="44.39" r="0.4" fill="#7a7a7a" fill-opacity="0.3"/>
<circle cx="89.14" cy="39.54" r="0.4" fill="#7a7a7a" fill-opacity="0.3"/>
<circle cx="87.57" cy="47.53" r="0.4" fill="#7a7a7a" fill-opacity="0.3"/>
<circle cx="84.91" cy="43.07" r="0.4" fill="#7a7a7a" fill-opacity="0.3"/>
<circle cx="89.57" cy="43.30" r="0.4" fill="#7a7a7a" fill-opacity="0.3"/>
<circle cx="88.45" cy="43.21" r="0.4" fill="#7a7a7a" fill-opacity="0.3"/>
<circle cx="91.62" cy="40.58" r="0.4" fill="#7a7a7a" fill-opacity="0.3"/>
<circle cx="88.31" cy="41.23" r="0.4" fill="#7a7a7a" fill-opacity="0.3"/>
<circle cx="86.99" cy="41.47" r="0.4" fill="#7a7a7a" fill-opacity="0.3"/>
<circle cx="88.71" cy="42.30" r="0.4" fill="#7a7a7a" fill-opacity="0.3"/>
<circle cx="92.97" cy="44.54" r="0.4" fill="#7a7a7a" fill-opacity="0.3"/>
<circle cx="182.70" cy="46.66" r="0.5" fill="#0a55b0" fill-opacity="0.6"/>
<circle cx="184.70" cy="46.45" r="0.5" fill="#0a55b0" fill-opacity="0.6"/>
<circle cx="183.96" cy="45.32" r="0.5" fill="#0a55b0" fill-opacity="0.6"/>
<circle cx="182.63" cy="42.84" r="0.5" fill="#0a55b0" fill-opacity="0.6"/>
<circle cx="186.25" cy="47.43" r="0.5" fill="#0a55b0" fill-opacity="0.6"/>
<circle cx="185.69" cy="45.23" r="0.5" fill="#0a55b0" fill-opacity="0.6"/>
<circle cx="184.62" cy="43.12" r="0.5" fill="#0a55b0" fill-opacity="0.6"/>
<circle cx="179.09" cy="47.99" r="0.5" fill="#0a55b0" fill-opacity="0.6"/>
<circle cx="184.44" cy="42.89" r="0.5" fill="#0a55b0" fill-opacity="0.6"/>
<circle cx="181.30" cy="48.97" r="0.5" fill="#0a55b0" fill-opacity="0.6"/>
<circle cx="179.03" cy="51.04" r="0.5" fill="#0a55b0" fill-opacity="0.6"/>
<circle cx="185.63" cy="50.60" r="0.5" fill="#0a55b0" fill-opacity="0.6"/>
<circle cx="181.96" cy="45.16" r="0.5" fill="#0a55b0" fill-opacity="0.6"/>
<circle cx="182.53" cy="45.47" r="0.5" fill="#0a55b0" fill-opacity="0.6"/>
<circle cx="183.33" cy="42.71" r="0.5" fill="#0a55b0" fill-opacity="0.6"/>
<circle cx="186.80" cy="41.49" r="0.5" fill="#0a55b0" fill-opacity="0.6"/>
<circle cx="182.53" cy="46.58" r="0.5" fill="#0a55b0" fill-opacity="0.6"/>
<circle cx="182.45" cy="43.87" r="0.5" fill="#0a55b0" fill-opacity="0.6"/>
<circle cx="184.86" cy="43.27" r="0.5" fill="#0a55b0" fill-opacity="0.6"/>
<circle cx="180.53" cy="45.40" r="0.5" fill="#0a55b0" fill-opacity="0.6"/>
<circle cx="183.31" cy="49.51" r="0.5" fill="#0a55b0" fill-opacity="0.6"/>
<circle cx="180.94" cy="48.24" r="0.5" fill="#0a55b0" fill-opacity="0.6"/>
<circle cx="181.78" cy="44.30" r="0.5" fill="#0a55b0" fill-opacity="0.6"/>
<circle cx="183.02" cy="45.63" r="0.5" fill="#0a55b0" fill-opacity="0.6"/>
<circle cx="186.23" cy="48.69" r="0.5" fill="#0a55b0" fill-opacity="0.6"/>
<circle cx="182.18" cy="48.83" r="0.5" fill="#0a55b0" fill-opacity="0.6"/>
<circle cx="186.59" cy="45.98" r="0.5" fill="#0a55b0" fill-opacity="0.6"/>
<circle cx="181.85" cy="47.75" r="0.5" fill="#0a55b0" fill-opacity="0.6"/>
<circle cx="183.61" cy="45.67" r="0.5" fill="#0a55b0" fill-opacity="0.6"/>
<circle cx="183.17" cy="46.67" r="0.5" fill="#0a55b0" fill-opacity="0.6"/>
<circle cx="186.91" cy="46.76" r="0.5" fill="#0a55b0" fill-opacity="0.6"/>
<circle cx="183.35" cy="47.53" r="0.5" fill="#0a55b0" fill-opacity="0.6"/>
<circle cx="187.82" cy="40.75" r="0.5" fill="#0a55b0" fill-opacity="0.6"/>
<circle cx="187.88" cy="39.63" r="0.5" fill="#0a55b0" fill-opacity="0.6"/>
<circle cx="185.37" cy="45.77" r="0.5" fill="#0a55b0" fill-opacity="0.6"/>
<circle cx="187.90" cy="44.08" r="0.5" fill="#0a55b0" fill-opacity="0.6"/>
<circle cx="182.60" cy="42.81" r="0.5" fill="#0a55b0" fill-opacity="0.6"/>
<circle cx="180.52" cy="47.81" r="0.5" fill="#0a55b0" fill-opacity="0.6"/>
<circle cx="183.26" cy="42.82" r="0.5" fill="#0a55b0" fill-opacity="0.6"/>
<circle cx="185.34" cy="42.02" r="0.5" fill="#0a55b0" fill-opacity="0.6"/>
<circle cx="182.72" cy="43.71" r="0.5" fill="#0a55b0" fill-opacity="0.6"/>
<circle cx="188.37" cy="47.21" r="0.5" fill="#0a55b0" fill-opacity="0.6"/>
<circle cx="183.47" cy="40.39" r="0.5" fill="#0a55b0" fill-opacity="0.6"/>
<circle cx="184.65" cy="44.56" r="0.5" fill="#0a55b0" fill-opacity="0.6"/>
<circle cx="184.84" cy="45.86" r="0.5" fill="#0a55b0" fill-opacity="0.6"/>
<circle cx="183.03" cy="47.44" r="0.5" fill="#0a55b0" fill-opacity="0.6"/>
<circle cx="186.16" cy="44.45" r="0.5" fill="#0a55b0" fill-opacity="0.6"/>
<circle cx="182.80" cy="43.62" r="0.5" fill="#0a55b0" fill-opacity="0.6"/>
<circle cx="185.77" cy="40.96" r="0.5" fill="#0a55b0" fill-opacity="0.6"/>
<circle cx="183.47" cy="42.66" r="0.5" fill="#0a55b0" fill-opacity="0.6"/>
<circle cx="180.14" cy="47.48" r="0.5" fill="#0a55b0" fill-opacity="0.6"/>
<circle cx="183.83" cy="44.72" r="0.5" fill="#0a55b0" fill-opacity="0.6"/>
<circle cx="186.26" cy="39.71" r="0.5" fill="#0a55b0" fill-opacity="0.6"/>
<circle cx="183.72" cy="45.46" r="0.5" fill="#0a55b0" fill-opacity="0.6"/>
<circle cx="186.15" cy="40.87" r="0.5" fill="#0a55b0" fill-opacity="0.6"/>
<circle cx="185.83" cy="44.58" r="0.5" fill="#0a55b0" fill-opacity="0.6"/>
<circle cx="187.56" cy="46.57" r="0.5" fill="#0a55b0" fill-opacity="0.6"/>
<circle cx="185.38" cy="50.07" r="0.5" fill="#0a55b0" fill-opacity="0.6"/>
<circle cx="183.90" cy="43.43" r="0.5" fill="#0a55b0" fill-opacity="0.6"/>
<circle cx="182.98" cy="42.29" r="0.5" fill="#0a55b0" fill-opacity="0.6"/>
<circle cx="183.82" cy="39.43" r="0.5" fill="#0a55b0" fill-opacity="0.6"/>
<circle cx="183.67" cy="45.85" r="0.5" fill="#0a55b0" fill-opacity="0.6"/>
<circle cx="186.58" cy="42.78" r="0.5" fill="#0a55b0" fill-opacity="0.6"/>
<circle cx="187.65" cy="41.59" r="0.5" fill="#0a55b0" fill-opacity="0.6"/>
<circle cx="183.54" cy="39.52" r="0.5" fill="#0a55b0" fill-opacity="0.6"/>
<circle cx="181.84" cy="43.07" r="0.5" fill="#0a55b0" fill-opacity="0.6"/>
<circle cx="187.84" cy="44.76" r="0.5" fill="#0a55b0" fill-opacity="0.6"/>
<circle cx="180.99" cy="46.98" r="0.5" fill="#0a55b0" fill-opacity="0.6"/>
<circle cx="185.17" cy="43.56" r="0.5" fill="#0a55b0" fill-opacity="0.6"/>
<circle cx="183.96" cy="43.76" r="0.5" fill="#0a55b0" fill-opacity="0.6"/>
<circle cx="182.47" cy="40.27" r="0.5" fill="#0a55b0" fill-opacity="0.6"/>
<circle cx="183.66" cy="48.15" r="0.5" fill="#0a55b0" fill-opacity="0.6"/>
<circle cx="187.68" cy="42.63" r="0.5" fill="#0a55b0" fill-opacity="0.6"/>
<circle cx="181.93" cy="44.66" r="0.5" fill="#0a55b0" fill-opacity="0.6"/>
<circle cx="186.27" cy="44.79" r="0.5" fill="#0a55b0" fill-opacity="0.6"/>
<circle cx="182.36" cy="46.07" r="0.5" fill="#0a55b0" fill-opacity="0.6"/>
<circle cx="183.36" cy="46.17" r="0.5" fill="#0a55b0" fill-opacity="0.6"/>
<circle cx="182.83" cy="40.97" r="0.5" fill="#0a55b0" fill-opacity="0.6"/>
<circle cx="184.05" cy="46.60" r="0.5" fill="#0a55b0" fill-opacity="0.6"/>
<circle cx="180.98" cy="45.25" r="0.5" fill="#0a55b0" fill-opacity="0.6"/>
<circle cx="186.21" cy="42.85" r="0.5" fill="#0a55b0" fill-opacity="0.6"/>
<circle cx="182.19" cy="50.63" r="0.5" fill="#0a55b0" fill-opacity="0.6"/>
<circle cx="186.08" cy="46.67" r="0.5" fill="#0a55b0" fill-opacity="0.6"/>
<circle cx="181.41" cy="49.80" r="0.5" fill="#0a55b0" fill-opacity="0.6"/>
<circle cx="179.54" cy="44.61" r="0.5" fill="#0a55b0" fill-opacity="0.6"/>
<circle cx="185.85" cy="47.56" r="0.5" fill="#0a55b0" fill-opacity="0.6"/>
<circle cx="181.46" cy="43.60" r="0.5" fill="#0a55b0" fill-opacity="0.6"/>
<circle cx="184.42" cy="39.24" r="0.5" fill="#0a55b0" fill-opacity="0.6"/>
<circle cx="185.58" cy="45.57" r="0.5" fill="#0a55b0" fill-opacity="0.6"/>
<circle cx="182.73" cy="46.42" r="0.5" fill="#0a55b0" fill-opacity="0.6"/>
<circle cx="185.94" cy="44.78" r="0.5" fill="#0a55b0" fill-opacity="0.6"/>
<circle cx="185.27" cy="48.23" r="0.5" fill="#0a55b0" fill-opacity="0.6"/>
<circle cx="182.65" cy="45.44" r="0.5" fill="#0a55b0" fill-opacity="0.6"/>
<circle cx="182.53" cy="47.82" r="0.5" fill="#0a55b0" fill-opacity="0.6"/>
<circle cx="182.83" cy="46.22" r="0.5" fill="#0a55b0" fill-opacity="0.6"/>
<circle cx="184.26" cy="44.66" r="0.5" fill="#0a55b0" fill-opacity="0.6"/>
<circle cx="188.39" cy="42.92" r="0.5" fill="#0a55b0" fill-opacity="0.6"/>
<circle cx="187.61" cy="45.62" r="0.5" fill="#0a55b0" fill-opacity="0.6"/>
<circle cx="187.35" cy="43.05" r="0.5" fill="#0a55b0" fill-opacity="0.6"/>
<circle cx="186.33" cy="45.84" r="0.5" fill="#0a55b0" fill-opacity="0.6"/>
<circle cx="182.30" cy="45.84" r="0.5" fill="#0a55b0" fill-opacity="0.6"/>
<circle cx="183.56" cy="44.61" r="0.5" fill="#0a55b0" fill-opacity="0.6"/>
<circle cx="187.30" cy="41.58" r="0.5" fill="#0a55b0" fill-opacity="0.6"/>
<circle cx="179.51" cy="41.36" r="0.5" fill="#0a55b0" fill-opacity="0.6"/>
<circle cx="182.72" cy="43.26" r="0.5" fill="#0a55b0" fill-opacity="0.6"/>
<circle cx="183.94" cy="46.10" r="0.5" fill="#0a55b0" fill-opacity="0.6"/>
<circle cx="188.49" cy="43.95" r="0.5" fill="#0a55b0" fill-opacity="0.6"/>
<circle cx="185.11" cy="42.25" r="0.5" fill="#0a55b0" fill-opacity="0.6"/>
<circle cx="185.41" cy="47.74" r="0.5" fill="#0a55b0" fill-opacity="0.6"/>
<circle cx="187.39" cy="38.26" r="0.5" fill="#0a55b0" fill-opacity="0.6"/>
<circle cx="186.22" cy="48.08" r="0.5" fill="#0a55b0" fill-opacity="0.6"/>
<circle cx="186.05" cy="39.92" r="0.5" fill="#0a55b0" fill-opacity="0.6"/>
<circle cx="183.10" cy="46.42" r="0.5" fill="#0a55b0" fill-opacity="0.6"/>
<circle cx="184.98" cy="42.09" r="0.5" fill="#0a55b0" fill-opacity="0.6"/>
<circle cx="181.58" cy="47.92" r="0.5" fill="#0a55b0" fill-opacity="0.6"/>
<circle cx="180.43" cy="49.54" r="0.5" fill="#0a55b0" fill-opacity="0.6"/>
<circle cx="183.95" cy="45.38" r="0.5" fill="#0a55b0" fill-opacity="0.6"/>
<circle cx="180.43" cy="44.13" r="0.5" fill="#0a55b0" fill-opacity="0.6"/>
<circle cx="185.69" cy="40.11" r="0.5" fill="#0a55b0" fill-opacity="0.6"/>
<circle cx="189.28" cy="39.13" r="0.5" fill="#0a55b0" fill-opacity="0.6"/>
<circle cx="180.73" cy="45.74" r="0.5" fill="#0a55b0" fill-opacity="0.6"/>
<circle cx="185.15" cy="46.15" r="0.5" fill="#0a55b0" fill-opacity="0.6"/>
<circle cx="182.94" cy="44.36" r="0.5" fill="#0a55b0" fill-opacity="0.6"/>
<circle cx="183.29" cy="43.27" r="0.5" fill="#0a55b0" fill-opacity="0.6"/>
<circle cx="177.21" cy="49.31" r="0.5" fill="#0a55b0" fill-opacity="0.6"/>
<circle cx="184.55" cy="44.81" r="0.5" fill="#0a55b0" fill-opacity="0.6"/>
<circle cx="182.27" cy="45.79" r="0.5" fill="#0a55b0" fill-opacity="0.6"/>
<circle cx="183.87" cy="44.41" r="0.5" fill="#0a55b0" fill-opacity="0.6"/>
<circle cx="186.77" cy="39.10" r="0.5" fill="#0a55b0" fill-opacity="0.6"/>
<circle cx="184.55" cy="41.56" r="0.5" fill="#0a55b0" fill-opacity="0.6"/>
<circle cx="183.08" cy="48.85" r="0.5" fill="#0a55b0" fill-opacity="0.6"/>
<circle cx="181.09" cy="45.24" r="0.5" fill="#0a55b0" fill-opacity="0.6"/>
<circle cx="182.37" cy="47.62" r="0.5" fill="#0a55b0" fill-opacity="0.6"/>
<circle cx="181.36" cy="40.95" r="0.5" fill="#0a55b0" fill-opacity="0.6"/>
<circle cx="185.23" cy="43.23" r="0.5" fill="#0a55b0" fill-opacity="0.6"/>
<circle cx="183.07" cy="47.74" r="0.5" fill="#0a55b0" fill-opacity="0.6"/>
<circle cx="181.60" cy="44.35" r="0.5" fill="#0a55b0" fill-opacity="0.6"/>
<circle cx="184.28" cy="45.58" r="0.5" fill="#0a55b0" fill-opacity="0.6"/>
<circle cx="182.56" cy="47.78" r="0.5" fill="#0a55b0" fill-opacity="0.6"/>
<circle cx="189.71" cy="41.64" r="0.5" fill="#0a55b0" fill-opacity="0.6"/>
<circle cx="188.75" cy="37.43" r="0.5" fill="#0a55b0" fill-opacity="0.6"/>
<circle cx="187.55" cy="42.51" r="0.5" fill="#0a55b0" fill-opacity="0.6"/>
<circle cx="184.26" cy="43.58" r="0.5" fill="#0a55b0" fill-opacity="0.6"/>
<circle cx="182.25" cy="41.74" r="0.5" fill="#0a55b0" fill-opacity="0.6"/>
<circle cx="182.88" cy="48.37" r="0.5" fill="#0a55b0" fill-opacity="0.6"/>
<circle cx="186.86" cy="42.72" r="0.5" fill="#0a55b0" fill-opacity="0.6"/>
<circle cx="182.53" cy="43.18" r="0.5" fill="#0a55b0" fill-opacity="0.6"/>
<circle cx="180.79" cy="50.39" r="0.5" fill="#0a55b0" fill-opacity="0.6"/>
<circle cx="185.62" cy="44.36" r="0.5" fill="#0a55b0" fill-opacity="0.6"/>
<circle cx="182.63" cy="42.30" r="0.5" fill="#0a55b0" fill-opacity="0.6"/>
<circle cx="187.31" cy="45.57" r="0.5" fill="#0a55b0" fill-opacity="0.6"/>
<circle cx="181.43" cy="48.02" r="0.5" fill="#0a55b0" fill-opacity="0.6"/>
<circle cx="181.03" cy="47.23" r="0.5" fill="#0a55b0" fill-opacity="0.6"/>
<circle cx="181.41" cy="44.30" r="0.5" fill="#0a55b0" fill-opacity="0.6"/>
<circle cx="185.18" cy="45.33" r="0.5" fill="#0a55b0" fill-opacity="0.6"/>
<circle cx="186.52" cy="41.53" r="0.5" fill="#0a55b0" fill-opacity="0.6"/>
<circle cx="187.99" cy="46.85" r="0.5" fill="#0a55b0" fill-opacity="0.6"/>
<circle cx="183.87" cy="45.84" r="0.5" fill="#0a55b0" fill-opacity="0.6"/>
<circle cx="181.88" cy="44.85" r="0.5" fill="#0a55b0" fill-opacity="0.6"/>
<circle cx="180.48" cy="45.94" r="0.5" fill="#0a55b0" fill-opacity="0.6"/>
<circle cx="184.42" cy="48.00" r="0.5" fill="#0a55b0" fill-opacity="0.6"/>
<circle cx="186.36" cy="45.97" r="0.5" fill="#0a55b0" fill-opacity="0.6"/>
<circle cx="182.96" cy="44.31" r="0.5" fill="#0a55b0" fill-opacity="0.6"/>
<circle cx="183.02" cy="45.48" r="0.5" fill="#0a55b0" fill-opacity="0.6"/>
<circle cx="178.90" cy="48.26" r="0.5" fill="#0a55b0" fill-opacity="0.6"/>
<circle cx="179.84" cy="44.54" r="0.5" fill="#0a55b0" fill-opacity="0.6"/>
<circle cx="183.96" cy="43.22" r="0.5" fill="#0a55b0" fill-opacity="0.6"/>
<circle cx="188.21" cy="42.95" r="0.5" fill="#0a55b0" fill-opacity="0.6"/>
<circle cx="187.97" cy="46.40" r="0.5" fill="#0a55b0" fill-opacity="0.6"/>
<circle cx="182.61" cy="46.08" r="0.5" fill="#0a55b0" fill-opacity="0.6"/>
<circle cx="187.27" cy="42.63" r="0.5" fill="#0a55b0" fill-opacity="0.6"/>
<circle cx="184.13" cy="43.04" r="0.5" fill="#0a55b0" fill-opacity="0.6"/>
<circle cx="184.05" cy="43.61" r="0.5" fill="#0a55b0" fill-opacity="0.6"/>
<circle cx="184.11" cy="47.19" r="0.5" fill="#0a55b0" fill-opacity="0.6"/>
<circle cx="187.51" cy="43.79" r="0.5" fill="#0a55b0" fill-opacity="0.6"/>
<circle cx="184.42" cy="46.71" r="0.5" fill="#0a55b0" fill-opacity="0.6"/>
<circle cx="183.15" cy="42.03" r="0.5" fill="#0a55b0" fill-opacity="0.6"/>
<circle cx="186.78" cy="41.19" r="0.5" fill="#0a55b0" fill-opacity="0.6"/>
<circle cx="186.31" cy="41.26" r="0.5" fill="#0a55b0" fill-opacity="0.6"/>
<circle cx="188.64" cy="40.30" r="0.5" fill="#0a55b0" fill-opacity="0.6"/>
<circle cx="186.10" cy="47.87" r="0.5" fill="#0a55b0" fill-opacity="0.6"/>
<circle cx="181.41" cy="49.35" r="0.5" fill="#0a55b0" fill-opacity="0.6"/>
<circle cx="181.77" cy="40.60" r="0.5" fill="#0a55b0" fill-opacity="0.6"/>
<circle cx="185.77" cy="45.86" r="0.5" fill="#0a55b0" fill-opacity="0.6"/>
<circle cx="183.37" cy="38.06" r="0.5" fill="#0a55b0" fill-opacity="0.6"/>
<circle cx="183.76" cy="43.83" r="0.5" fill="#0a55b0" fill-opacity="0.6"/>
<circle cx="182.92" cy="44.15" r="0.5" fill="#0a55b0" fill-opacity="0.6"/>
<circle cx="179.26" cy="44.59" r="0.5" fill="#0a55b0" fill-opacity="0.6"/>
<circle cx="188.57" cy="47.20" r="0.5" fill="#0a55b0" fill-opacity="0.6"/>
<circle cx="182.96" cy="43.01" r="0.5" fill="#0a55b0" fill-opacity="0.6"/>
<circle cx="184.93" cy="47.09" r="0.5" fill="#0a55b0" fill-opacity="0.6"/>
<circle cx="185.77" cy="40.89" r="0.5" fill="#0a55b0" fill-opacity="0.6"/>
<circle cx="184.32" cy="44.84" r="0.5" fill="#0a55b0" fill-opacity="0.6"/>
<circle cx="187.63" cy="46.58" r="0.5" fill="#0a55b0" fill-opacity="0.6"/>
<circle cx="185.26" cy="47.39" r="0.5" fill="#0a55b0" fill-opacity="0.6"/>
<circle cx="182.88" cy="49.01" r="0.5" fill="#0a55b0" fill-opacity="0.6"/>
<circle cx="182.80" cy="46.01" r="0.5" fill="#0a55b0" fill-opacity="0.6"/>
<circle cx="186.28" cy="41.41" r="0.5" fill="#0a55b0" fill-opacity="0.6"/>
<circle cx="182.08" cy="40.52" r="0.5" fill="#0a55b0" fill-opacity="0.6"/>
<circle cx="184.33" cy="44.32" r="0.5" fill="#0a55b0" fill-opacity="0.6"/>
<circle cx="183.05" cy="46.20" r="0.5" fill="#0a55b0" fill-opacity="0.6"/>
<circle cx="178.41" cy="46.30" r="0.5" fill="#0a55b0" fill-opacity="0.6"/>
<circle cx="184.13" cy="43.82" r="0.5" fill="#0a55b0" fill-opacity="0.6"/>
<circle cx="185.96" cy="48.59" r="0.5" fill="#0a55b0" fill-opacity="0.6"/>
<circle cx="182.74" cy="42.48" r="0.5" fill="#0a55b0" fill-opacity="0.6"/>
<circle cx="182.33" cy="45.35" r="0.5" fill="#0a55b0" fill-opacity="0.6"/>
<circle cx="185.42" cy="41.82" r="0.5" fill="#0a55b0" fill-opacity="0.6"/>
<circle cx="186.49" cy="41.04" r="0.5" fill="#0a55b0" fill-opacity="0.6"/>
<circle cx="186.04" cy="45.04" r="0.5" fill="#0a55b0" fill-opacity="0.6"/>
<circle cx="185.10" cy="49.94" r="0.5" fill="#0a55b0" fill-opacity="0.6"/>
<circle cx="183.22" cy="44.38" r="0.5" fill="#0a55b0" fill-opacity="0.6"/>
<circle cx="185.13" cy="46.49" r="0.5" fill="#0a55b0" fill-opacity="0.6"/>
<circle cx="180.43" cy="46.45" r="0.5" fill="#0a55b0" fill-opacity="0.6"/>
<circle cx="181.98" cy="46.89" r="0.5" fill="#0a55b0" fill-opacity="0.6"/>
<circle cx="187.45" cy="43.59" r="0.5" fill="#0a55b0" fill-opacity="0.6"/>
<circle cx="183.62" cy="45.18" r="0.5" fill="#0a55b0" fill-opacity="0.6"/>
<circle cx="176.24" cy="49.11" r="0.5" fill="#0a55b0" fill-opacity="0.6"/>
<circle cx="185.35" cy="44.57" r="0.5" fill="#0a55b0" fill-opacity="0.6"/>
<circle cx="182.87" cy="42.99" r="0.5" fill="#0a55b0" fill-opacity="0.6"/>
<circle cx="183.44" cy="47.97" r="0.5" fill="#0a55b0" fill-opacity="0.6"/>
<circle cx="183.63" cy="48.26" r="0.5" fill="#0a55b0" fill-opacity="0.6"/>
<circle cx="177.23" cy="45.53" r="0.5" fill="#0a55b0" fill-opacity="0.6"/>
<circle cx="184.61" cy="44.34" r="0.5" fill="#0a55b0" fill-opacity="0.6"/>
<circle cx="179.60" cy="44.22" r="0.5" fill="#0a55b0" fill-opacity="0.6"/>
<circle cx="187.14" cy="40.13" r="0.5" fill="#0a55b0" fill-opacity="0.6"/>
<circle cx="181.33" cy="42.51" r="0.5" fill="#0a55b0" fill-opacity="0.6"/>
<circle cx="182.47" cy="46.77" r="0.5" fill="#0a55b0" fill-opacity="0.6"/>
<circle cx="185.44" cy="38.71" r="0.5" fill="#0a55b0" fill-opacity="0.6"/>
<circle cx="187.68" cy="41.81" r="0.5" fill="#0a55b0" fill-opacity="0.6"/>
<circle cx="182.37" cy="49.52" r="0.5" fill="#0a55b0" fill-opacity="0.6"/>
<circle cx="183.69" cy="41.38" r="0.5" fill="#0a55b0" fill-opacity="0.6"/>
<circle cx="182.24" cy="43.20" r="0.5" fill="#0a55b0" fill-opacity="0.6"/>
<circle cx="181.28" cy="44.56" r="0.5" fill="#0a55b0" fill-opacity="0.6"/>
<circle cx="186.17" cy="44.80" r="0.5" fill="#0a55b0" fill-opacity="0.6"/>
<circle cx="180.32" cy="53.16" r="0.5" fill="#0a55b0" fill-opacity="0.6"/>
<circle cx="181.33" cy="45.73" r="0.5" fill="#0a55b0" fill-opacity="0.6"/>
<circle cx="183.98" cy="46.60" r="0.5" fill="#0a55b0" fill-opacity="0.6"/>
<circle cx="183.05" cy="46.09" r="0.5" fill="#0a55b0" fill-opacity="0.6"/>
<circle cx="189.36" cy="43.10" r="0.5" fill="#0a55b0" fill-opacity="0.6"/>
<circle cx="181.09" cy="46.38" r="0.5" fill="#0a55b0" fill-opacity="0.6"/>
<circle cx="181.82" cy="44.29" r="0.5" fill="#0a55b0" fill-opacity="0.6"/>
<circle cx="184.39" cy="45.34" r="0.5" fill="#0a55b0" fill-opacity="0.6"/>
<circle cx="183.16" cy="47.09" r="0.5" fill="#0a55b0" fill-opacity="0.6"/>
<circle cx="183.40" cy="41.30" r="0.5" fill="#0a55b0" fill-opacity="0.6"/>
<circle cx="186.18" cy="42.90" r="0.5" fill="#0a55b0" fill-opacity="0.6"/>
<circle cx="187.04" cy="41.85" r="0.5" fill="#0a55b0" fill-opacity="0.6"/>
<circle cx="185.38" cy="44.96" r="0.5" fill="#0a55b0" fill-opacity="0.6"/>
<circle cx="176.91" cy="42.89" r="0.5" fill="#0a55b0" fill-opacity="0.6"/>
<circle cx="181.00" cy="49.27" r="0.5" fill="#0a55b0" fill-opacity="0.6"/>
<circle cx="179.01" cy="48.60" r="0.5" fill="#0a55b0" fill-opacity="0.6"/>
<circle cx="186.73" cy="45.00" r="0.5" fill="#0a55b0" fill-opacity="0.6"/>
<circle cx="185.65" cy="42.72" r="0.5" fill="#0a55b0" fill-opacity="0.6"/>
<circle cx="183.87" cy="45.21" r="0.5" fill="#0a55b0" fill-opacity="0.6"/>
<circle cx="184.99" cy="46.13" r="0.5" fill="#0a55b0" fill-opacity="0.6"/>
<circle cx="183.36" cy="42.91" r="0.5" fill="#0a55b0" fill-opacity="0.6"/>
<circle cx="182.44" cy="46.16" r="0.5" fill="#0a55b0" fill-opacity="0.6"/>
<circle cx="179.59" cy="42.66" r="0.5" fill="#0a55b0" fill-opacity="0.6"/>
<circle cx="182.83" cy="43.48" r="0.5" fill="#0a55b0" fill-opacity="0.6"/>
<circle cx="183.20" cy="37.75" r="0.5" fill="#0a55b0" fill-opacity="0.6"/>
<circle cx="183.02" cy="44.22" r="0.5" fill="#0a55b0" fill-opacity="0.6"/>
<circle cx="185.91" cy="38.69" r="0.5" fill="#0a55b0" fill-opacity="0.6"/>
<circle cx="183.11" cy="46.12" r="0.5" fill="#0a55b0" fill-opacity="0.6"/>
<circle cx="185.17" cy="47.37" r="0.5" fill="#0a55b0" fill-opacity="0.6"/>
<circle cx="186.64" cy="40.93" r="0.5" fill="#0a55b0" fill-opacity="0.6"/>
<circle cx="185.55" cy="43.18" r="0.5" fill="#0a55b0" fill-opacity="0.6"/>
<circle cx="181.82" cy="49.35" r="0.5" fill="#0a55b0" fill-opacity="0.6"/>
<circle cx="182.27" cy="42.86" r="0.5" fill="#0a55b0" fill-opacity="0.6"/>
<circle cx="182.84" cy="42.68" r="0.5" fill="#0a55b0" fill-opacity="0.6"/>
<circle cx="186.51" cy="44.77" r="0.5" fill="#0a55b0" fill-opacity="0.6"/>
<circle cx="187.53" cy="44.52" r="0.5" fill="#0a55b0" fill-opacity="0.6"/>
<circle cx="182.30" cy="47.90" r="0.5" fill="#0a55b0" fill-opacity="0.6"/>
<circle cx="182.20" cy="43.92" r="0.5" fill="#0a55b0" fill-opacity="0.6"/>
<circle cx="183.46" cy="44.84" r="0.5" fill="#0a55b0" fill-opacity="0.6"/>
<circle cx="187.00" cy="41.99" r="0.5" fill="#0a55b0" fill-opacity="0.6"/>
<circle cx="184.81" cy="44.23" r="0.5" fill="#0a55b0" fill-opacity="0.6"/>
<circle cx="180.63" cy="42.74" r="0.5" fill="#0a55b0" fill-opacity="0.6"/>
<circle cx="183.33" cy="45.86" r="0.5" fill="#0a55b0" fill-opacity="0.6"/>
<circle cx="184.73" cy="45.61" r="0.5" fill="#0a55b0" fill-opacity="0.6"/>
<circle cx="184.03" cy="43.37" r="0.5" fill="#0a55b0" fill-opacity="0.6"/>
<circle cx="185.01" cy="41.57" r="0.5" fill="#0a55b0" fill-opacity="0.6"/>
<circle cx="180.41" cy="44.84" r="0.5" fill="#0a55b0" fill-opacity="0.6"/>
<circle cx="180.18" cy="44.43" r="0.5" fill="#0a55b0" fill-opacity="0.6"/>
<circle cx="181.96" cy="43.75" r="0.5" fill="#0a55b0" fill-opacity="0.6"/>
<circle cx="183.78" cy="42.50" r="0.5" fill="#0a55b0" fill-opacity="0.6"/>
<circle cx="182.80" cy="40.40" r="0.5" fill="#0a55b0" fill-opacity="0.6"/>
<circle cx="184.28" cy="42.13" r="0.5" fill="#0a55b0" fill-opacity="0.6"/>
<circle cx="184.95" cy="36.72" r="0.5" fill="#0a55b0" fill-opacity="0.6"/>
<circle cx="181.81" cy="45.92" r="0.5" fill="#0a55b0" fill-opacity="0.6"/>
<circle cx="177.55" cy="45.69" r="0.5" fill="#0a55b0" fill-opacity="0.6"/>
<circle cx="184.15" cy="44.80" r="0.5" fill="#0a55b0" fill-opacity="0.6"/>
<circle cx="180.00" cy="46.47" r="0.5" fill="#0a55b0" fill-opacity="0.6"/>
<circle cx="184.29" cy="41.88" r="0.5" fill="#0a55b0" fill-opacity="0.6"/>
<circle cx="185.84" cy="43.84" r="0.5" fill="#0a55b0" fill-opacity="0.6"/>
<circle cx="183.95" cy="43.38" r="0.5" fill="#0a55b0" fill-opacity="0.6"/>
<circle cx="185.33" cy="44.40" r="0.5" fill="#0a55b0" fill-opacity="0.6"/>
<circle cx="186.86" cy="44.85" r="0.5" fill="#0a55b0" fill-opacity="0.6"/>
<circle cx="182.29" cy="44.52" r="0.5" fill="#0a55b0" fill-opacity="0.6"/>
<circle cx="186.29" cy="42.85" r="0.5" fill="#0a55b0" fill-opacity="0.6"/>
<circle cx="184.90" cy="45.67" r="0.5" fill="#0a55b0" fill-opacity="0.6"/>
<circle cx="183.43" cy="38.53" r="0.5" fill="#0a55b0" fill-opacity="0.6"/>
<circle cx="184.24" cy="45.06" r="0.5" fill="#0a55b0" fill-opacity="0.6"/>
<circle cx="184.25" cy="42.46" r="0.5" fill="#0a55b0" fill-opacity="0.6"/>
<circle cx="187.05" cy="43.22" r="0.5" fill="#0a55b0" fill-opacity="0.6"/>
<circle cx="182.27" cy="43.21" r="0.5" fill="#0a55b0" fill-opacity="0.6"/>
<circle cx="184.84" cy="41.38" r="0.5" fill="#0a55b0" fill-opacity="0.6"/>
<circle cx="181.29" cy="50.79" r="0.5" fill="#0a55b0" fill-opacity="0.6"/>
<circle cx="187.32" cy="46.32" r="0.5" fill="#0a55b0" fill-opacity="0.6"/>
<circle cx="187.46" cy="45.04" r="0.5" fill="#0a55b0" fill-opacity="0.6"/>
<circle cx="179.50" cy="49.21" r="0.5" fill="#0a55b0" fill-opacity="0.6"/>
<circle cx="187.14" cy="44.87" r="0.5" fill="#0a55b0" fill-opacity="0.6"/>
<circle cx="178.79" cy="49.57" r="0.5" fill="#0a55b0" fill-opacity="0.6"/>
<circle cx="187.47" cy="42.13" r="0.5" fill="#0a55b0" fill-opacity="0.6"/>
<circle cx="184.23" cy="46.57" r="0.5" fill="#0a55b0" fill-opacity="0.6"/>
<circle cx="183.68" cy="47.61" r="0.5" fill="#0a55b0" fill-opacity="0.6"/>
<circle cx="184.11" cy="46.38" r="0.5" fill="#0a55b0" fill-opacity="0.6"/>
<circle cx="184.12" cy="40.57" r="0.5" fill="#0a55b0" fill-opacity="0.6"/>
<circle cx="181.30" cy="53.92" r="0.5" fill="#0a55b0" fill-opacity="0.6"/>
<circle cx="184.63" cy="47.88" r="0.5" fill="#0a55b0" fill-opacity="0.6"/>
<circle cx="186.88" cy="48.24" r="0.5" fill="#0a55b0" fill-opacity="0.6"/>
<circle cx="185.35" cy="42.54" r="0.5" fill="#0a55b0" fill-opacity="0.6"/>
<circle cx="183.95" cy="39.44" r="0.5" fill="#0a55b0" fill-opacity="0.6"/>
<circle cx="183.41" cy="47.19" r="0.5" fill="#0a55b0" fill-opacity="0.6"/>
<circle cx="178.24" cy="46.95" r="0.5" fill="#0a55b0" fill-opacity="0.6"/>
<circle cx="186.06" cy="47.47" r="0.5" fill="#0a55b0" fill-opacity="0.6"/>
<circle cx="181.47" cy="43.63" r="0.5" fill="#0a55b0" fill-opacity="0.6"/>
<circle cx="178.99" cy="43.45" r="0.5" fill="#0a55b0" fill-opacity="0.6"/>
<circle cx="185.30" cy="49.70" r="0.5" fill="#0a55b0" fill-opacity="0.6"/>
<circle cx="180.90" cy="49.27" r="0.5" fill="#0a55b0" fill-opacity="0.6"/>
<circle cx="185.02" cy="42.91" r="0.5" fill="#0a55b0" fill-opacity="0.6"/>
<circle cx="189.65" cy="35.98" r="0.5" fill="#0a55b0" fill-opacity="0.6"/>
<circle cx="183.72" cy="45.24" r="0.5" fill="#0a55b0" fill-opacity="0.6"/>
<circle cx="189.48" cy="47.63" r="0.5" fill="#0a55b0" fill-opacity="0.6"/>
<circle cx="189.84" cy="43.05" r="0.5" fill="#0a55b0" fill-opacity="0.6"/>
<circle cx="186.47" cy="47.44" r="0.5" fill="#0a55b0" fill-opacity="0.6"/>
<circle cx="185.24" cy="45.13" r="0.5" fill="#0a55b0" fill-opacity="0.6"/>
<circle cx="183.42" cy="43.66" r="0.5" fill="#0a55b0" fill-opacity="0.6"/>
<circle cx="180.68" cy="50.88" r="0.5" fill="#0a55b0" fill-opacity="0.6"/>
<circle cx="182.73" cy="39.39" r="0.5" fill="#0a55b0" fill-opacity="0.6"/>
<circle cx="184.59" cy="44.29" r="0.5" fill="#0a55b0" fill-opacity="0.6"/>
<circle cx="184.36" cy="49.33" r="0.5" fill="#0a55b0" fill-opacity="0.6"/>
<circle cx="183.62" cy="43.98" r="0.5" fill="#0a55b0" fill-opacity="0.6"/>
<circle cx="181.94" cy="45.17" r="0.5" fill="#0a55b0" fill-opacity="0.6"/>
<circle cx="182.75" cy="45.52" r="0.5" fill="#0a55b0" fill-opacity="0.6"/>
<circle cx="192.10" cy="43.02" r="0.5" fill="#0a55b0" fill-opacity="0.6"/>
<circle cx="181.65" cy="50.52" r="0.5" fill="#0a55b0" fill-opacity="0.6"/>
<circle cx="186.17" cy="46.06" r="0.5" fill="#0a55b0" fill-opacity="0.6"/>
<circle cx="185.78" cy="46.20" r="0.5" fill="#0a55b0" fill-opacity="0.6"/>
<circle cx="185.67" cy="47.82" r="0.5" fill="#0a55b0" fill-opacity="0.6"/>
<circle cx="186.54" cy="47.38" r="0.5" fill="#0a55b0" fill-opacity="0.6"/>
<circle cx="182.58" cy="45.02" r="0.5" fill="#0a55b0" fill-opacity="0.6"/>
<circle cx="181.98" cy="47.79" r="0.5" fill="#0a55b0" fill-opacity="0.6"/>
<circle cx="186.08" cy="42.64" r="0.5" fill="#0a55b0" fill-opacity="0.6"/>
<circle cx="185.44" cy="51.17" r="0.5" fill="#0a55b0" fill-opacity="0.6"/>
<circle cx="187.15" cy="40.55" r="0.5" fill="#0a55b0" fill-opacity="0.6"/>
<circle cx="183.66" cy="46.39" r="0.5" fill="#0a55b0" fill-opacity="0.6"/>
<circle cx="183.81" cy="45.67" r="0.5" fill="#0a55b0" fill-opacity="0.6"/>
<circle cx="187.00" cy="44.48" r="0.5" fill="#0a55b0" fill-opacity="0.6"/>
<circle cx="181.01" cy="47.46" r="0.5" fill="#0a55b0" fill-opacity="0.6"/>
<circle cx="183.64" cy="44.99" r="0.5" fill="#0a55b0" fill-opacity="0.6"/>
<circle cx="182.41" cy="41.35" r="0.5" fill="#0a55b0" fill-opacity="0.6"/>
<circle cx="180.62" cy="44.70" r="0.5" fill="#0a55b0" fill-opacity="0.6"/>
<circle cx="181.09" cy="38.19" r="0.5" fill="#0a55b0" fill-opacity="0.6"/>
<circle cx="186.92" cy="40.50" r="0.5" fill="#0a55b0" fill-opacity="0.6"/>
<circle cx="181.99" cy="46.65" r="0.5" fill="#0a55b0" fill-opacity="0.6"/>
<circle cx="177.56" cy="50.26" r="0.5" fill="#0a55b0" fill-opacity="0.6"/>
<circle cx="181.88" cy="47.03" r="0.5" fill="#0a55b0" fill-opacity="0.6"/>
<circle cx="182.63" cy="45.83" r="0.5" fill="#0a55b0" fill-opacity="0.6"/>
<circle cx="184.18" cy="44.51" r="0.5" fill="#0a55b0" fill-opacity="0.6"/>
<circle cx="179.10" cy="42.19" r="0.5" fill="#0a55b0" fill-opacity="0.6"/>
<circle cx="183.79" cy="48.43" r="0.5" fill="#0a55b0" fill-opacity="0.6"/>
<circle cx="182.47" cy="46.50" r="0.5" fill="#0a55b0" fill-opacity="0.6"/>
<circle cx="184.33" cy="45.77" r="0.5" fill="#0a55b0" fill-opacity="0.6"/>
<circle cx="186.51" cy="39.72" r="0.5" fill="#0a55b0" fill-opacity="0.6"/>
<circle cx="184.62" cy="43.89" r="0.5" fill="#0a55b0" fill-opacity="0.6"/>
<circle cx="183.08" cy="42.56" r="0.5" fill="#0a55b0" fill-opacity="0.6"/>
<circle cx="181.83" cy="42.49" r="0.5" fill="#0a55b0" fill-opacity="0.6"/>
<circle cx="181.01" cy="52.30" r="0.5" fill="#0a55b0" fill-opacity="0.6"/>
<circle cx="188.37" cy="43.19" r="0.5" fill="#0a55b0" fill-opacity="0.6"/>
<circle cx="185.85" cy="41.34" r="0.5" fill="#0a55b0" fill-opacity="0.6"/>
<circle cx="176.58" cy="42.05" r="0.5" fill="#0a55b0" fill-opacity="0.6"/>
<circle cx="184.27" cy="48.36" r="0.5" fill="#0a55b0" fill-opacity="0.6"/>
<circle cx="183.79" cy="41.94" r="0.5" fill="#0a55b0" fill-opacity="0.6"/>
<circle cx="183.26" cy="42.12" r="0.5" fill="#0a55b0" fill-opacity="0.6"/>
<circle cx="180.23" cy="45.16" r="0.5" fill="#0a55b0" fill-opacity="0.6"/>
<circle cx="182.85" cy="42.75" r="0.5" fill="#0a55b0" fill-opacity="0.6"/>
<circle cx="181.57" cy="42.84" r="0.5" fill="#0a55b0" fill-opacity="0.6"/>
<circle cx="184.52" cy="48.16" r="0.5" fill="#0a55b0" fill-opacity="0.6"/>
<circle cx="183.35" cy="50.81" r="0.5" fill="#0a55b0" fill-opacity="0.6"/>
<circle cx="179.64" cy="46.71" r="0.5" fill="#0a55b0" fill-opacity="0.6"/>
<circle cx="180.86" cy="45.15" r="0.5" fill="#0a55b0" fill-opacity="0.6"/>
<circle cx="184.17" cy="46.02" r="0.5" fill="#0a55b0" fill-opacity="0.6"/>
<circle cx="186.87" cy="42.15" r="0.5" fill="#0a55b0" fill-opacity="0.6"/>
<circle cx="180.63" cy="45.15" r="0.5" fill="#0a55b0" fill-opacity="0.6"/>
<circle cx="184.67" cy="42.47" r="0.5" fill="#0a55b0" fill-opacity="0.6"/>
<circle cx="186.25" cy="48.38" r="0.5" fill="#0a55b0" fill-opacity="0.6"/>
<circle cx="180.16" cy="46.78" r="0.5" fill="#0a55b0" fill-opacity="0.6"/>
<circle cx="186.58" cy="38.56" r="0.5" fill="#0a55b0" fill-opacity="0.6"/>
<circle cx="184.44" cy="43.82" r="0.5" fill="#0a55b0" fill-opacity="0.6"/>
<circle cx="180.15" cy="49.35" r="0.5" fill="#0a55b0" fill-opacity="0.6"/>
<circle cx="184.47" cy="43.12" r="0.5" fill="#0a55b0" fill-opacity="0.6"/>
<circle cx="185.07" cy="45.96" r="0.5" fill="#0a55b0" fill-opacity="0.6"/>
<circle cx="185.92" cy="45.51" r="0.5" fill="#0a55b0" fill-opacity="0.6"/>
<circle cx="184.98" cy="41.08" r="0.5" fill="#0a55b0" fill-opacity="0.6"/>
<circle cx="182.79" cy="45.30" r="0.5" fill="#0a55b0" fill-opacity="0.6"/>
<circle cx="176.62" cy="52.69" r="0.5" fill="#0a55b0" fill-opacity="0.6"/>
<circle cx="182.90" cy="42.08" r="0.5" fill="#0a55b0" fill-opacity="0.6"/>
<circle cx="179.11" cy="46.81" r="0.5" fill="#0a55b0" fill-opacity="0.6"/>
<circle cx="183.99" cy="43.00" r="0.5" fill="#0a55b0" fill-opacity="0.6"/>
<circle cx="182.80" cy="42.56" r="0.5" fill="#0a55b0" fill-opacity="0.6"/>
<circle cx="181.93" cy="44.97" r="0.5" fill="#0a55b0" fill-opacity="0.6"/>
<circle cx="182.21" cy="46.98" r="0.5" fill="#0a55b0" fill-opacity="0.6"/>
<circle cx="183.52" cy="45.08" r="0.5" fill="#0a55b0" fill-opacity="0.6"/>
<circle cx="184.97" cy="47.68" r="0.5" fill="#0a55b0" fill-opacity="0.6"/>
<circle cx="185.48" cy="44.71" r="0.5" fill="#0a55b0" fill-opacity="0.6"/>
<circle cx="183.47" cy="42.57" r="0.5" fill="#0a55b0" fill-opacity="0.6"/>
<circle cx="183.00" cy="46.73" r="0.5" fill="#0a55b0" fill-opacity="0.6"/>
<circle cx="184.50" cy="43.36" r="0.5" fill="#0a55b0" fill-opacity="0.6"/>
<circle cx="180.40" cy="41.60" r="0.5" fill="#0a55b0" fill-opacity="0.6"/>
<circle cx="184.75" cy="47.10" r="0.5" fill="#0a55b0" fill-opacity="0.6"/>
<circle cx="184.88" cy="40.58" r="0.5" fill="#0a55b0" fill-opacity="0.6"/>
<circle cx="183.34" cy="45.38" r="0.5" fill="#0a55b0" fill-opacity="0.6"/>
<circle cx="181.48" cy="46.31" r="0.5" fill="#0a55b0" fill-opacity="0.6"/>
<circle cx="183.37" cy="42.52" r="0.5" fill="#0a55b0" fill-opacity="0.6"/>
<circle cx="180.63" cy="47.84" r="0.5" fill="#0a55b0" fill-opacity="0.6"/>
<circle cx="184.84" cy="41.91" r="0.5" fill="#0a55b0" fill-opacity="0.6"/>
<circle cx="181.23" cy="47.86" r="0.5" fill="#0a55b0" fill-opacity="0.6"/>
<circle cx="185.47" cy="43.27" r="0.5" fill="#0a55b0" fill-opacity="0.6"/>
<circle cx="188.09" cy="42.47" r="0.5" fill="#0a55b0" fill-opacity="0.6"/>
<circle cx="181.12" cy="48.44" r="0.5" fill="#0a55b0" fill-opacity="0.6"/>
<circle cx="183.40" cy="45.69" r="0.5" fill="#0a55b0" fill-opacity="0.6"/>
<circle cx="184.00" cy="41.87" r="0.5" fill="#0a55b0" fill-opacity="0.6"/>
<circle cx="180.78" cy="45.08" r="0.5" fill="#0a55b0" fill-opacity="0.6"/>
<circle cx="187.60" cy="40.70" r="0.5" fill="#0a55b0" fill-opacity="0.6"/>
<circle cx="187.47" cy="44.04" r="0.5" fill="#0a55b0" fill-opacity="0.6"/>
<circle cx="180.98" cy="46.26" r="0.5" fill="#0a55b0" fill-opacity="0.6"/>
<circle cx="185.39" cy="41.70" r="0.5" fill="#0a55b0" fill-opacity="0.6"/>
<circle cx="178.30" cy="47.36" r="0.5" fill="#0a55b0" fill-opacity="0.6"/>
<circle cx="180.98" cy="46.73" r="0.5" fill="#0a55b0" fill-opacity="0.6"/>
<circle cx="178.88" cy="45.84" r="0.5" fill="#0a55b0" fill-opacity="0.6"/>
<circle cx="181.77" cy="41.30" r="0.5" fill="#0a55b0" fill-opacity="0.6"/>
<circle cx="183.27" cy="45.27" r="0.5" fill="#0a55b0" fill-opacity="0.6"/>
<circle cx="182.44" cy="41.89" r="0.5" fill="#0a55b0" fill-opacity="0.6"/>
<circle cx="184.46" cy="39.71" r="0.5" fill="#0a55b0" fill-opacity="0.6"/>
<circle cx="185.31" cy="45.47" r="0.5" fill="#0a55b0" fill-opacity="0.6"/>
<circle cx="188.31" cy="45.56" r="0.5" fill="#0a55b0" fill-opacity="0.6"/>
<circle cx="184.83" cy="45.01" r="0.5" fill="#0a55b0" fill-opacity="0.6"/>
<circle cx="183.97" cy="41.01" r="0.5" fill="#0a55b0" fill-opacity="0.6"/>
<circle cx="187.74" cy="44.78" r="0.5" fill="#0a55b0" fill-opacity="0.6"/>
<circle cx="183.15" cy="41.76" r="0.5" fill="#0a55b0" fill-opacity="0.6"/>
<circle cx="187.80" cy="44.78" r="0.5" fill="#0a55b0" fill-opacity="0.6"/>
<circle cx="180.79" cy="47.41" r="0.5" fill="#0a55b0" fill-opacity="0.6"/>
<circle cx="188.87" cy="42.94" r="0.5" fill="#0a55b0" fill-opacity="0.6"/>
<circle cx="184.95" cy="43.14" r="0.5" fill="#0a55b0" fill-opacity="0.6"/>
<circle cx="182.25" cy="48.02" r="0.5" fill="#0a55b0" fill-opacity="0.6"/>
<circle cx="191.98" cy="42.31" r="0.5" fill="#0a55b0" fill-opacity="0.6"/>
<circle cx="183.57" cy="46.84" r="0.5" fill="#0a55b0" fill-opacity="0.6"/>
<circle cx="183.10" cy="46.82" r="0.5" fill="#0a55b0" fill-opacity="0.6"/>
<circle cx="186.07" cy="41.17" r="0.5" fill="#0a55b0" fill-opacity="0.6"/>
<circle cx="181.09" cy="45.31" r="0.5" fill="#0a55b0" fill-opacity="0.6"/>
<circle cx="186.08" cy="44.64" r="0.5" fill="#0a55b0" fill-opacity="0.6"/>
<circle cx="187.15" cy="39.85" r="0.5" fill="#0a55b0" fill-opacity="0.6"/>
<circle cx="185.19" cy="42.51" r="0.5" fill="#0a55b0" fill-opacity="0.6"/>
<circle cx="184.16" cy="45.38" r="0.5" fill="#0a55b0" fill-opacity="0.6"/>
<circle cx="181.36" cy="44.81" r="0.5" fill="#0a55b0" fill-opacity="0.6"/>
<circle cx="180.85" cy="46.30" r="0.5" fill="#0a55b0" fill-opacity="0.6"/>
<circle cx="181.67" cy="43.99" r="0.5" fill="#0a55b0" fill-opacity="0.6"/>
<circle cx="184.47" cy="42.66" r="0.5" fill="#0a55b0" fill-opacity="0.6"/>
<circle cx="186.91" cy="41.92" r="0.5" fill="#0a55b0" fill-opacity="0.6"/>
<circle cx="186.13" cy="44.64" r="0.5" fill="#0a55b0" fill-opacity="0.6"/>
<circle cx="181.19" cy="44.89" r="0.5" fill="#0a55b0" fill-opacity="0.6"/>
<circle cx="181.71" cy="44.34" r="0.5" fill="#0a55b0" fill-opacity="0.6"/>
<circle cx="183.19" cy="49.71" r="0.5" fill="#0a55b0" fill-opacity="0.6"/>
<circle cx="182.80" cy="49.16" r="0.5" fill="#0a55b0" fill-opacity="0.6"/>
<circle cx="185.07" cy="40.72" r="0.5" fill="#0a55b0" fill-opacity="0.6"/>
<circle cx="177.84" cy="48.37" r="0.5" fill="#0a55b0" fill-opacity="0.6"/>
<circle cx="178.69" cy="48.21" r="0.5" fill="#0a55b0" fill-opacity="0.6"/>
<circle cx="186.59" cy="44.78" r="0.5" fill="#0a55b0" fill-opacity="0.6"/>
<circle cx="183.35" cy="44.10" r="0.5" fill="#0a55b0" fill-opacity="0.6"/>
<circle cx="184.58" cy="43.57" r="0.5" fill="#0a55b0" fill-opacity="0.6"/>
<circle cx="182.50" cy="44.06" r="0.5" fill="#0a55b0" fill-opacity="0.6"/>
<circle cx="186.96" cy="41.95" r="0.5" fill="#0a55b0" fill-opacity="0.6"/>
<circle cx="184.89" cy="41.19" r="0.5" fill="#0a55b0" fill-opacity="0.6"/>
<circle cx="182.04" cy="41.52" r="0.5" fill="#0a55b0" fill-opacity="0.6"/>
<circle cx="183.38" cy="46.60" r="0.5" fill="#0a55b0" fill-opacity="0.6"/>
<circle cx="184.70" cy="43.02" r="0.5" fill="#0a55b0" fill-opacity="0.6"/>
<circle cx="185.50" cy="43.16" r="0.5" fill="#0a55b0" fill-opacity="0.6"/>
<circle cx="184.87" cy="45.02" r="0.5" fill="#0a55b0" fill-opacity="0.6"/>
<circle cx="185.32" cy="37.51" r="0.5" fill="#0a55b0" fill-opacity="0.6"/>
<circle cx="180.50" cy="47.77" r="0.5" fill="#0a55b0" fill-opacity="0.6"/>
<circle cx="183.62" cy="50.70" r="0.5" fill="#0a55b0" fill-opacity="0.6"/>
<circle cx="183.29" cy="43.32" r="0.5" fill="#0a55b0" fill-opacity="0.6"/>
<circle cx="187.80" cy="44.83" r="0.5" fill="#0a55b0" fill-opacity="0.6"/>
<circle cx="188.86" cy="44.37" r="0.5" fill="#0a55b0" fill-opacity="0.6"/>
<circle cx="183.37" cy="46.71" r="0.5" fill="#0a55b0" fill-opacity="0.6"/>
<circle cx="181.84" cy="44.07" r="0.5" fill="#0a55b0" fill-opacity="0.6"/>
<circle cx="182.45" cy="44.47" r="0.5" fill="#0a55b0" fill-opacity="0.6"/>
<circle cx="185.93" cy="42.66" r="0.5" fill="#0a55b0" fill-opacity="0.6"/>
<circle cx="184.74" cy="43.00" r="0.5" fill="#0a55b0" fill-opacity="0.6"/>
<circle cx="186.21" cy="36.48" r="0.5" fill="#0a55b0" fill-opacity="0.6"/>
<circle cx="183.36" cy="45.23" r="0.5" fill="#0a55b0" fill-opacity="0.6"/>
<circle cx="181.08" cy="48.22" r="0.5" fill="#0a55b0" fill-opacity="0.6"/>
<circle cx="184.46" cy="47.84" r="0.5" fill="#0a55b0" fill-opacity="0.6"/>
<circle cx="186.41" cy="45.51" r="0.5" fill="#0a55b0" fill-opacity="0.6"/>
<circle cx="183.51" cy="41.82" r="0.5" fill="#0a55b0" fill-opacity="0.6"/>
<circle cx="183.33" cy="43.56" r="0.5" fill="#0a55b0" fill-opacity="0.6"/>
<circle cx="184.55" cy="43.15" r="0.5" fill="#0a55b0" fill-opacity="0.6"/>
<circle cx="191.87" cy="37.76" r="0.5" fill="#0a55b0" fill-opacity="0.6"/>
<circle cx="186.96" cy="42.36" r="0.5" fill="#0a55b0" fill-opacity="0.6"/>
<circle cx="183.27" cy="47.28" r="0.5" fill="#0a55b0" fill-opacity="0.6"/>
<circle cx="183.91" cy="41.36" r="0.5" fill="#0a55b0" fill-opacity="0.6"/>
<circle cx="184.98" cy="43.73" r="0.5" fill="#0a55b0" fill-opacity="0.6"/>
<circle cx="178.53" cy="46.86" r="0.5" fill="#0a55b0" fill-opacity="0.6"/>
<circle cx="181.15" cy="43.50" r="0.5" fill="#0a55b0" fill-opacity="0.6"/>
<circle cx="185.16" cy="45.00" r="0.5" fill="#0a55b0" fill-opacity="0.6"/>
<circle cx="183.14" cy="50.64" r="0.5" fill="#0a55b0" fill-opacity="0.6"/>
<circle cx="184.99" cy="42.61" r="0.5" fill="#0a55b0" fill-opacity="0.6"/>
<circle cx="184.52" cy="44.08" r="0.5" fill="#0a55b0" fill-opacity="0.6"/>
<circle cx="178.15" cy="42.24" r="0.5" fill="#0a55b0" fill-opacity="0.6"/>
<circle cx="180.28" cy="51.28" r="0.5" fill="#0a55b0" fill-opacity="0.6"/>
<circle cx="183.42" cy="44.02" r="0.5" fill="#0a55b0" fill-opacity="0.6"/>
<circle cx="182.43" cy="47.69" r="0.5" fill="#0a55b0" fill-opacity="0.6"/>
<circle cx="183.97" cy="49.13" r="0.5" fill="#0a55b0" fill-opacity="0.6"/>
<circle cx="185.95" cy="48.33" r="0.5" fill="#0a55b0" fill-opacity="0.6"/>
<circle cx="183.59" cy="45.70" r="0.5" fill="#0a55b0" fill-opacity="0.6"/>
<circle cx="182.77" cy="44.51" r="0.5" fill="#0a55b0" fill-opacity="0.6"/>
<circle cx="179.39" cy="44.50" r="0.5" fill="#0a55b0" fill-opacity="0.6"/>
<circle cx="181.42" cy="43.66" r="0.5" fill="#0a55b0" fill-opacity="0.6"/>
<circle cx="187.07" cy="44.28" r="0.5" fill="#0a55b0" fill-opacity="0.6"/>
<circle cx="187.09" cy="45.86" r="0.5" fill="#0a55b0" fill-opacity="0.6"/>
<circle cx="186.30" cy="46.51" r="0.5" fill="#0a55b0" fill-opacity="0.6"/>
<circle cx="182.32" cy="47.25" r="0.5" fill="#0a55b0" fill-opacity="0.6"/>
<circle cx="183.06" cy="43.46" r="0.5" fill="#0a55b0" fill-opacity="0.6"/>
<circle cx="187.01" cy="49.37" r="0.5" fill="#0a55b0" fill-opacity="0.6"/>
<circle cx="181.35" cy="50.05" r="0.5" fill="#0a55b0" fill-opacity="0.6"/>
<circle cx="186.06" cy="41.64" r="0.5" fill="#0a55b0" fill-opacity="0.6"/>
<circle cx="184.61" cy="45.36" r="0.5" fill="#0a55b0" fill-opacity="0.6"/>
<circle cx="184.88" cy="43.33" r="0.5" fill="#0a55b0" fill-opacity="0.6"/>
<circle cx="180.56" cy="45.76" r="0.5" fill="#0a55b0" fill-opacity="0.6"/>
<circle cx="186.14" cy="45.97" r="0.5" fill="#0a55b0" fill-opacity="0.6"/>
<circle cx="185.62" cy="46.98" r="0.5" fill="#0a55b0" fill-opacity="0.6"/>
<circle cx="181.32" cy="45.32" r="0.5" fill="#0a55b0" fill-opacity="0.6"/>
<circle cx="184.79" cy="46.98" r="0.5" fill="#0a55b0" fill-opacity="0.6"/>
<circle cx="184.31" cy="45.85" r="0.5" fill="#0a55b0" fill-opacity="0.6"/>
<circle cx="184.25" cy="50.08" r="0.5" fill="#0a55b0" fill-opacity="0.6"/>
<circle cx="178.22" cy="46.36" r="0.5" fill="#0a55b0" fill-opacity="0.6"/>
<circle cx="190.34" cy="43.15" r="0.5" fill="#0a55b0" fill-opacity="0.6"/>
<circle cx="179.13" cy="46.49" r="0.5" fill="#0a55b0" fill-opacity="0.6"/>
<circle cx="180.17" cy="43.99" r="0.5" fill="#0a55b0" fill-opacity="0.6"/>
<circle cx="184.48" cy="48.98" r="0.5" fill="#0a55b0" fill-opacity="0.6"/>
<circle cx="185.10" cy="45.99" r="0.5" fill="#0a55b0" fill-opacity="0.6"/>
<circle cx="186.55" cy="44.28" r="0.5" fill="#0a55b0" fill-opacity="0.6"/>
<circle cx="181.67" cy="45.06" r="0.5" fill="#0a55b0" fill-opacity="0.6"/>
<circle cx="184.78" cy="43.58" r="0.5" fill="#0a55b0" fill-opacity="0.6"/>
<circle cx="182.16" cy="44.20" r="0.5" fill="#0a55b0" fill-opacity="0.6"/>
<circle cx="180.00" cy="43.13" r="0.5" fill="#0a55b0" fill-opacity="0.6"/>
<circle cx="183.66" cy="43.71" r="0.5" fill="#0a55b0" fill-opacity="0.6"/>
<circle cx="184.00" cy="48.31" r="0.5" fill="#0a55b0" fill-opacity="0.6"/>
<circle cx="184.68" cy="44.26" r="0.5" fill="#0a55b0" fill-opacity="0.6"/>
<circle cx="180.85" cy="42.71" r="0.5" fill="#0a55b0" fill-opacity="0.6"/>
<circle cx="184.88" cy="41.96" r="0.5" fill="#0a55b0" fill-opacity="0.6"/>
<circle cx="185.02" cy="41.38" r="0.5" fill="#0a55b0" fill-opacity="0.6"/>
<circle cx="184.25" cy="44.29" r="0.5" fill="#0a55b0" fill-opacity="0.6"/>
<circle cx="186.49" cy="42.72" r="0.5" fill="#0a55b0" fill-opacity="0.6"/>
<circle cx="182.93" cy="45.57" r="0.5" fill="#0a55b0" fill-opacity="0.6"/>
<circle cx="184.04" cy="49.05" r="0.5" fill="#0a55b0" fill-opacity="0.6"/>
<circle cx="183.23" cy="43.39" r="0.5" fill="#0a55b0" fill-opacity="0.6"/>
<circle cx="183.07" cy="46.13" r="0.5" fill="#0a55b0" fill-opacity="0.6"/>
<circle cx="184.51" cy="46.25" r="0.5" fill="#0a55b0" fill-opacity="0.6"/>
<circle cx="180.30" cy="52.35" r="0.5" fill="#0a55b0" fill-opacity="0.6"/>
<circle cx="188.68" cy="42.98" r="0.5" fill="#0a55b0" fill-opacity="0.6"/>
<circle cx="180.76" cy="46.02" r="0.5" fill="#0a55b0" fill-opacity="0.6"/>
<circle cx="184.98" cy="38.31" r="0.5" fill="#0a55b0" fill-opacity="0.6"/>
<circle cx="183.94" cy="40.65" r="0.5" fill="#0a55b0" fill-opacity="0.6"/>
<circle cx="185.09" cy="47.89" r="0.5" fill="#0a55b0" fill-opacity="0.6"/>
<circle cx="186.59" cy="39.73" r="0.5" fill="#0a55b0" fill-opacity="0.6"/>
<circle cx="187.49" cy="45.86" r="0.5" fill="#0a55b0" fill-opacity="0.6"/>
<circle cx="182.96" cy="46.24" r="0.5" fill="#0a55b0" fill-opacity="0.6"/>
<circle cx="187.84" cy="42.45" r="0.5" fill="#0a55b0" fill-opacity="0.6"/>
<circle cx="183.86" cy="43.12" r="0.5" fill="#0a55b0" fill-opacity="0.6"/>
<circle cx="186.90" cy="37.90" r="0.5" fill="#0a55b0" fill-opacity="0.6"/>
<circle cx="187.59" cy="40.84" r="0.5" fill="#0a55b0" fill-opacity="0.6"/>
<circle cx="186.31" cy="39.50" r="0.5" fill="#0a55b0" fill-opacity="0.6"/>
<circle cx="181.47" cy="43.79" r="0.5" fill="#0a55b0" fill-opacity="0.6"/>
<circle cx="186.05" cy="39.59" r="0.5" fill="#0a55b0" fill-opacity="0.6"/>
<circle cx="185.47" cy="42.40" r="0.5" fill="#0a55b0" fill-opacity="0.6"/>
<circle cx="187.13" cy="42.73" r="0.5" fill="#0a55b0" fill-opacity="0.6"/>
<circle cx="185.16" cy="43.74" r="0.5" fill="#0a55b0" fill-opacity="0.6"/>
<circle cx="188.56" cy="42.14" r="0.5" fill="#0a55b0" fill-opacity="0.6"/>
<circle cx="183.84" cy="49.90" r="0.5" fill="#0a55b0" fill-opacity="0.6"/>
<circle cx="184.10" cy="46.36" r="0.5" fill="#0a55b0" fill-opacity="0.6"/>
<circle cx="181.98" cy="45.75" r="0.5" fill="#0a55b0" fill-opacity="0.6"/>
<circle cx="178.01" cy="46.78" r="0.5" fill="#0a55b0" fill-opacity="0.6"/>
<circle cx="182.22" cy="41.14" r="0.5" fill="#0a55b0" fill-opacity="0.6"/>
<circle cx="180.22" cy="48.82" r="0.5" fill="#0a55b0" fill-opacity="0.6"/>
<circle cx="185.01" cy="40.21" r="0.5" fill="#0a55b0" fill-opacity="0.6"/>
<circle cx="188.61" cy="41.23" r="0.5" fill="#0a55b0" fill-opacity="0.6"/>
<circle cx="182.94" cy="45.57" r="0.5" fill="#0a55b0" fill-opacity="0.6"/>
<circle cx="180.95" cy="41.25" r="0.5" fill="#0a55b0" fill-opacity="0.6"/>
<circle cx="181.96" cy="48.37" r="0.5" fill="#0a55b0" fill-opacity="0.6"/>
<circle cx="186.37" cy="39.60" r="0.5" fill="#0a55b0" fill-opacity="0.6"/>
<circle cx="187.03" cy="43.68" r="0.5" fill="#0a55b0" fill-opacity="0.6"/>
<circle cx="185.20" cy="44.32" r="0.5" fill="#0a55b0" fill-opacity="0.6"/>
<circle cx="184.97" cy="41.59" r="0.5" fill="#0a55b0" fill-opacity="0.6"/>
<circle cx="181.54" cy="43.49" r="0.5" fill="#0a55b0" fill-opacity="0.6"/>
<circle cx="182.94" cy="46.56" r="0.5" fill="#0a55b0" fill-opacity="0.6"/>
<circle cx="180.74" cy="49.86" r="0.5" fill="#0a55b0" fill-opacity="0.6"/>
<circle cx="182.26" cy="43.56" r="0.5" fill="#0a55b0" fill-opacity="0.6"/>
<circle cx="185.73" cy="45.17" r="0.5" fill="#0a55b0" fill-opacity="0.6"/>
<circle cx="183.02" cy="42.03" r="0.5" fill="#0a55b0" fill-opacity="0.6"/>
<circle cx="181.30" cy="41.18" r="0.5" fill="#0a55b0" fill-opacity="0.6"/>
<circle cx="186.87" cy="46.53" r="0.5" fill="#0a55b0" fill-opacity="0.6"/>
<circle cx="188.75" cy="44.36" r="0.5" fill="#0a55b0" fill-opacity="0.6"/>
<circle cx="184.76" cy="46.34" r="0.5" fill="#0a55b0" fill-opacity="0.6"/>
<circle cx="186.37" cy="43.11" r="0.5" fill="#0a55b0" fill-opacity="0.6"/>
<circle cx="184.82" cy="50.04" r="0.5" fill="#0a55b0" fill-opacity="0.6"/>
<circle cx="179.50" cy="42.28" r="0.5" fill="#0a55b0" fill-opacity="0.6"/>
<circle cx="181.40" cy="47.41" r="0.5" fill="#0a55b0" fill-opacity="0.6"/>
<circle cx="186.99" cy="42.70" r="0.5" fill="#0a55b0" fill-opacity="0.6"/>
<circle cx="185.65" cy="43.91" r="0.5" fill="#0a55b0" fill-opacity="0.6"/>
<circle cx="184.68" cy="42.91" r="0.5" fill="#0a55b0" fill-opacity="0.6"/>
<circle cx="183.83" cy="44.61" r="0.5" fill="#0a55b0" fill-opacity="0.6"/>
<circle cx="186.84" cy="49.60" r="0.5" fill="#0a55b0" fill-opacity="0.6"/>
<circle cx="179.18" cy="47.54" r="0.5" fill="#0a55b0" fill-opacity="0.6"/>
<circle cx="183.89" cy="47.18" r="0.5" fill="#0a55b0" fill-opacity="0.6"/>
<circle cx="186.66" cy="45.79" r="0.5" fill="#0a55b0" fill-opacity="0.6"/>
<circle cx="186.00" cy="41.39" r="0.5" fill="#0a55b0" fill-opacity="0.6"/>
<circle cx="179.47" cy="50.48" r="0.5" fill="#0a55b0" fill-opacity="0.6"/>
<circle cx="187.04" cy="41.05" r="0.5" fill="#0a55b0" fill-opacity="0.6"/>
<circle cx="187.26" cy="45.30" r="0.5" fill="#0a55b0" fill-opacity="0.6"/>
<circle cx="177.52" cy="49.05" r="0.5" fill="#0a55b0" fill-opacity="0.6"/>
<circle cx="181.33" cy="48.53" r="0.5" fill="#0a55b0" fill-opacity="0.6"/>
<circle cx="182.13" cy="43.19" r="0.5" fill="#0a55b0" fill-opacity="0.6"/>
<circle cx="179.88" cy="45.32" r="0.5" fill="#0a55b0" fill-opacity="0.6"/>
<circle cx="186.55" cy="41.96" r="0.5" fill="#0a55b0" fill-opacity="0.6"/>
<circle cx="179.06" cy="51.87" r="0.5" fill="#0a55b0" fill-opacity="0.6"/>
<circle cx="188.70" cy="44.89" r="0.5" fill="#0a55b0" fill-opacity="0.6"/>
<circle cx="182.50" cy="41.82" r="0.5" fill="#0a55b0" fill-opacity="0.6"/>
<circle cx="179.64" cy="47.46" r="0.5" fill="#0a55b0" fill-opacity="0.6"/>
<circle cx="187.28" cy="40.69" r="0.5" fill="#0a55b0" fill-opacity="0.6"/>
<circle cx="183.90" cy="43.86" r="0.5" fill="#0a55b0" fill-opacity="0.6"/>
<circle cx="183.23" cy="46.15" r="0.5" fill="#0a55b0" fill-opacity="0.6"/>
<circle cx="189.34" cy="41.15" r="0.5" fill="#0a55b0" fill-opacity="0.6"/>
<circle cx="186.11" cy="46.79" r="0.5" fill="#0a55b0" fill-opacity="0.6"/>
<circle cx="183.16" cy="44.44" r="0.5" fill="#0a55b0" fill-opacity="0.6"/>
<circle cx="180.41" cy="48.60" r="0.5" fill="#0a55b0" fill-opacity="0.6"/>
<circle cx="182.52" cy="43.30" r="0.5" fill="#0a55b0" fill-opacity="0.6"/>
<circle cx="184.08" cy="42.26" r="0.5" fill="#0a55b0" fill-opacity="0.6"/>
<circle cx="181.19" cy="44.68" r="0.5" fill="#0a55b0" fill-opacity="0.6"/>
<circle cx="187.77" cy="42.81" r="0.5" fill="#0a55b0" fill-opacity="0.6"/>
<circle cx="185.27" cy="40.25" r="0.5" fill="#0a55b0" fill-opacity="0.6"/>
<circle cx="178.83" cy="51.08" r="0.5" fill="#0a55b0" fill-opacity="0.6"/>
<circle cx="182.86" cy="40.83" r="0.5" fill="#0a55b0" fill-opacity="0.6"/>
<circle cx="183.62" cy="46.31" r="0.5" fill="#0a55b0" fill-opacity="0.6"/>
<circle cx="179.40" cy="43.70" r="0.5" fill="#0a55b0" fill-opacity="0.6"/>
<circle cx="184.58" cy="41.92" r="0.5" fill="#0a55b0" fill-opacity="0.6"/>
<circle cx="185.98" cy="46.50" r="0.5" fill="#0a55b0" fill-opacity="0.6"/>
<circle cx="185.05" cy="43.08" r="0.5" fill="#0a55b0" fill-opacity="0.6"/>
<circle cx="183.78" cy="42.95" r="0.5" fill="#0a55b0" fill-opacity="0.6"/>
<circle cx="183.56" cy="45.56" r="0.5" fill="#0a55b0" fill-opacity="0.6"/>
<circle cx="183.12" cy="47.45" r="0.5" fill="#0a55b0" fill-opacity="0.6"/>
<circle cx="190.66" cy="40.96" r="0.5" fill="#0a55b0" fill-opacity="0.6"/>
<circle cx="184.79" cy="46.51" r="0.5" fill="#0a55b0" fill-opacity="0.6"/>
<circle cx="185.58" cy="43.42" r="0.5" fill="#0a55b0" fill-opacity="0.6"/>
<circle cx="182.65" cy="47.68" r="0.5" fill="#0a55b0" fill-opacity="0.6"/>
<circle cx="185.53" cy="45.43" r="0.5" fill="#0a55b0" fill-opacity="0.6"/>
<circle cx="181.81" cy="46.96" r="0.5" fill="#0a55b0" fill-opacity="0.6"/>
<circle cx="185.97" cy="43.44" r="0.5" fill="#0a55b0" fill-opacity="0.6"/>
<circle cx="185.58" cy="49.86" r="0.5" fill="#0a55b0" fill-opacity="0.6"/>
<circle cx="179.01" cy="47.80" r="0.5" fill="#0a55b0" fill-opacity="0.6"/>
<circle cx="180.85" cy="41.94" r="0.5" fill="#0a55b0" fill-opacity="0.6"/>
<circle cx="183.29" cy="46.26" r="0.5" fill="#0a55b0" fill-opacity="0.6"/>
<circle cx="184.04" cy="41.44" r="0.5" fill="#0a55b0" fill-opacity="0.6"/>
<circle cx="180.15" cy="44.32" r="0.5" fill="#0a55b0" fill-opacity="0.6"/>
<circle cx="183.94" cy="42.37" r="0.5" fill="#0a55b0" fill-opacity="0.6"/>
<circle cx="179.98" cy="50.56" r="0.5" fill="#0a55b0" fill-opacity="0.6"/>
<circle cx="181.71" cy="44.89" r="0.5" fill="#0a55b0" fill-opacity="0.6"/>
<circle cx="182.47" cy="43.50" r="0.5" fill="#0a55b0" fill-opacity="0.6"/>
<circle cx="184.00" cy="43.77" r="0.5" fill="#0a55b0" fill-opacity="0.6"/>
<circle cx="185.52" cy="40.91" r="0.5" fill="#0a55b0" fill-opacity="0.6"/>
<circle cx="180.02" cy="51.07" r="0.5" fill="#0a55b0" fill-opacity="0.6"/>
<circle cx="183.70" cy="46.72" r="0.5" fill="#0a55b0" fill-opacity="0.6"/>
<circle cx="186.98" cy="45.09" r="0.5" fill="#0a55b0" fill-opacity="0.6"/>
<circle cx="184.00" cy="40.41" r="0.5" fill="#0a55b0" fill-opacity="0.6"/>
<circle cx="179.72" cy="48.57" r="0.5" fill="#0a55b0" fill-opacity="0.6"/>
<circle cx="185.67" cy="45.55" r="0.5" fill="#0a55b0" fill-opacity="0.6"/>
<circle cx="179.56" cy="40.29" r="0.5" fill="#0a55b0" fill-opacity="0.6"/>
<circle cx="181.14" cy="42.32" r="0.5" fill="#0a55b0" fill-opacity="0.6"/>
<circle cx="184.32" cy="41.73" r="0.5" fill="#0a55b0" fill-opacity="0.6"/>
<circle cx="188.04" cy="41.60" r="0.5" fill="#0a55b0" fill-opacity="0.6"/>
<circle cx="182.43" cy="47.39" r="0.5" fill="#0a55b0" fill-opacity="0.6"/>
<circle cx="184.76" cy="41.91" r="0.5" fill="#0a55b0" fill-opacity="0.6"/>
<circle cx="186.05" cy="49.06" r="0.5" fill="#0a55b0" fill-opacity="0.6"/>
<circle cx="180.69" cy="44.97" r="0.5" fill="#0a55b0" fill-opacity="0.6"/>
<circle cx="181.08" cy="40.30" r="0.5" fill="#0a55b0" fill-opacity="0.6"/>
<circle cx="185.54" cy="45.94" r="0.5" fill="#0a55b0" fill-opacity="0.6"/>
<circle cx="186.45" cy="44.93" r="0.5" fill="#0a55b0" fill-opacity="0.6"/>
<circle cx="178.62" cy="46.23" r="0.5" fill="#0a55b0" fill-opacity="0.6"/>
<circle cx="182.15" cy="42.00" r="0.5" fill="#0a55b0" fill-opacity="0.6"/>
<circle cx="181.00" cy="47.59" r="0.5" fill="#0a55b0" fill-opacity="0.6"/>
<circle cx="183.12" cy="50.13" r="0.5" fill="#0a55b0" fill-opacity="0.6"/>
<circle cx="185.13" cy="39.07" r="0.5" fill="#0a55b0" fill-opacity="0.6"/>
<circle cx="186.24" cy="47.20" r="0.5" fill="#0a55b0" fill-opacity="0.6"/>
<circle cx="183.98" cy="41.31" r="0.5" fill="#0a55b0" fill-opacity="0.6"/>
<circle cx="188.54" cy="39.57" r="0.5" fill="#0a55b0" fill-opacity="0.6"/>
<circle cx="183.68" cy="39.54" r="0.5" fill="#0a55b0" fill-opacity="0.6"/>
<circle cx="180.61" cy="41.09" r="0.5" fill="#0a55b0" fill-opacity="0.6"/>
<circle cx="186.76" cy="46.85" r="0.5" fill="#0a55b0" fill-opacity="0.6"/>
<circle cx="182.84" cy="41.29" r="0.5" fill="#0a55b0" fill-opacity="0.6"/>
<circle cx="183.74" cy="45.67" r="0.5" fill="#0a55b0" fill-opacity="0.6"/>
<circle cx="179.89" cy="42.77" r="0.5" fill="#0a55b0" fill-opacity="0.6"/>
<circle cx="183.63" cy="46.58" r="0.5" fill="#0a55b0" fill-opacity="0.6"/>
<circle cx="184.10" cy="45.75" r="0.5" fill="#0a55b0" fill-opacity="0.6"/>
<circle cx="180.62" cy="38.95" r="0.5" fill="#0a55b0" fill-opacity="0.6"/>
<circle cx="184.72" cy="41.86" r="0.5" fill="#0a55b0" fill-opacity="0.6"/>
<circle cx="183.57" cy="43.69" r="0.5" fill="#0a55b0" fill-opacity="0.6"/>
<circle cx="185.17" cy="42.11" r="0.5" fill="#0a55b0" fill-opacity="0.6"/>
<circle cx="187.70" cy="43.46" r="0.5" fill="#0a55b0" fill-opacity="0.6"/>
<circle cx="185.29" cy="45.85" r="0.5" fill="#0a55b0" fill-opacity="0.6"/>
<circle cx="186.63" cy="44.81" r="0.5" fill="#0a55b0" fill-opacity="0.6"/>
<circle cx="179.29" cy="44.39" r="0.5" fill="#0a55b0" fill-opacity="0.6"/>
<circle cx="188.81" cy="44.30" r="0.5" fill="#0a55b0" fill-opacity="0.6"/>
<circle cx="185.38" cy="45.39" r="0.5" fill="#0a55b0" fill-opacity="0.6"/>
<circle cx="182.21" cy="43.31" r="0.5" fill="#0a55b0" fill-opacity="0.6"/>
<circle cx="182.19" cy="48.28" r="0.5" fill="#0a55b0" fill-opacity="0.6"/>
<circle cx="184.86" cy="49.10" r="0.5" fill="#0a55b0" fill-opacity="0.6"/>
<circle cx="185.22" cy="49.29" r="0.5" fill="#0a55b0" fill-opacity="0.6"/>
<circle cx="185.11" cy="41.01" r="0.5" fill="#0a55b0" fill-opacity="0.6"/>
<circle cx="188.50" cy="44.03" r="0.5" fill="#0a55b0" fill-opacity="0.6"/>
<circle cx="187.05" cy="44.17" r="0.5" fill="#0a55b0" fill-opacity="0.6"/>
<circle cx="183.03" cy="45.34" r="0.5" fill="#0a55b0" fill-opacity="0.6"/>
<circle cx="180.93" cy="42.32" r="0.5" fill="#0a55b0" fill-opacity="0.6"/>
<circle cx="181.55" cy="43.93" r="0.5" fill="#0a55b0" fill-opacity="0.6"/>
<circle cx="180.31" cy="45.48" r="0.5" fill="#0a55b0" fill-opacity="0.6"/>
<circle cx="184.71" cy="49.84" r="0.5" fill="#0a55b0" fill-opacity="0.6"/>
<circle cx="188.77" cy="42.89" r="0.5" fill="#0a55b0" fill-opacity="0.6"/>
<circle cx="186.24" cy="43.25" r="0.5" fill="#0a55b0" fill-opacity="0.6"/>
<circle cx="184.94" cy="44.17" r="0.5" fill="#0a55b0" fill-opacity="0.6"/>
<circle cx="182.47" cy="45.27" r="0.5" fill="#0a55b0" fill-opacity="0.6"/>
<circle cx="179.98" cy="47.06" r="0.5" fill="#0a55b0" fill-opacity="0.6"/>
<circle cx="183.13" cy="41.90" r="0.5" fill="#0a55b0" fill-opacity="0.6"/>
<circle cx="182.95" cy="46.41" r="0.5" fill="#0a55b0" fill-opacity="0.6"/>
<circle cx="182.10" cy="46.47" r="0.5" fill="#0a55b0" fill-opacity="0.6"/>
<circle cx="185.41" cy="48.35" r="0.5" fill="#0a55b0" fill-opacity="0.6"/>
<circle cx="181.01" cy="45.23" r="0.5" fill="#0a55b0" fill-opacity="0.6"/>
<circle cx="185.26" cy="48.25" r="0.5" fill="#0a55b0" fill-opacity="0.6"/>
<circle cx="184.60" cy="46.43" r="0.5" fill="#0a55b0" fill-opacity="0.6"/>
<circle cx="180.00" cy="44.27" r="0.5" fill="#0a55b0" fill-opacity="0.6"/>
<circle cx="188.32" cy="42.40" r="0.5" fill="#0a55b0" fill-opacity="0.6"/>
<circle cx="189.65" cy="40.76" r="0.5" fill="#0a55b0" fill-opacity="0.6"/>
<circle cx="183.16" cy="40.49" r="0.5" fill="#0a55b0" fill-opacity="0.6"/>
<circle cx="185.59" cy="44.78" r="0.5" fill="#0a55b0" fill-opacity="0.6"/>
<circle cx="189.27" cy="43.32" r="0.5" fill="#0a55b0" fill-opacity="0.6"/>
<circle cx="183.23" cy="40.97" r="0.5" fill="#0a55b0" fill-opacity="0.6"/>
<circle cx="183.68" cy="47.25" r="0.5" fill="#0a55b0" fill-opacity="0.6"/>
<circle cx="185.87" cy="47.32" r="0.5" fill="#0a55b0" fill-opacity="0.6"/>
<circle cx="186.20" cy="43.73" r="0.5" fill="#0a55b0" fill-opacity="0.6"/>
<circle cx="185.51" cy="44.55" r="0.5" fill="#0a55b0" fill-opacity="0.6"/>
<circle cx="180.35" cy="50.42" r="0.5" fill="#0a55b0" fill-opacity="0.6"/>
<circle cx="184.90" cy="41.41" r="0.5" fill="#0a55b0" fill-opacity="0.6"/>
<circle cx="184.93" cy="45.06" r="0.5" fill="#0a55b0" fill-opacity="0.6"/>
<circle cx="186.56" cy="47.69" r="0.5" fill="#0a55b0" fill-opacity="0.6"/>
<circle cx="175.79" cy="48.73" r="0.5" fill="#0a55b0" fill-opacity="0.6"/>
<circle cx="187.98" cy="40.69" r="0.5" fill="#0a55b0" fill-opacity="0.6"/>
<circle cx="178.94" cy="46.96" r="0.5" fill="#0a55b0" fill-opacity="0.6"/>
<circle cx="184.80" cy="45.27" r="0.5" fill="#0a55b0" fill-opacity="0.6"/>
<circle cx="180.94" cy="44.28" r="0.5" fill="#0a55b0" fill-opacity="0.6"/>
<circle cx="184.42" cy="46.47" r="0.5" fill="#0a55b0" fill-opacity="0.6"/>
<circle cx="189.76" cy="43.52" r="0.5" fill="#0a55b0" fill-opacity="0.6"/>
<circle cx="182.29" cy="38.66" r="0.5" fill="#0a55b0" fill-opacity="0.6"/>
<circle cx="186.77" cy="43.31" r="0.5" fill="#0a55b0" fill-opacity="0.6"/>
<circle cx="183.61" cy="41.99" r="0.5" fill="#0a55b0" fill-opacity="0.6"/>
<circle cx="185.86" cy="39.05" r="0.5" fill="#0a55b0" fill-opacity="0.6"/>
<circle cx="184.19" cy="44.84" r="0.5" fill="#0a55b0" fill-opacity="0.6"/>
<circle cx="184.70" cy="47.92" r="0.5" fill="#0a55b0" fill-opacity="0.6"/>
<circle cx="183.64" cy="44.94" r="0.5" fill="#0a55b0" fill-opacity="0.6"/>
<circle cx="186.19" cy="39.61" r="0.5" fill="#0a55b0" fill-opacity="0.6"/>
<circle cx="183.12" cy="45.04" r="0.5" fill="#0a55b0" fill-opacity="0.6"/>
<circle cx="186.46" cy="41.58" r="0.5" fill="#0a55b0" fill-opacity="0.6"/>
<circle cx="186.05" cy="44.96" r="0.5" fill="#0a55b0" fill-opacity="0.6"/>
<circle cx="179.92" cy="41.82" r="0.5" fill="#0a55b0" fill-opacity="0.6"/>
<circle cx="180.06" cy="46.22" r="0.5" fill="#0a55b0" fill-opacity="0.6"/>
<circle cx="184.45" cy="46.41" r="0.5" fill="#0a55b0" fill-opacity="0.6"/>
<circle cx="186.10" cy="42.38" r="0.5" fill="#0a55b0" fill-opacity="0.6"/>
<circle cx="186.77" cy="45.93" r="0.5" fill="#0a55b0" fill-opacity="0.6"/>
<circle cx="185.17" cy="45.51" r="0.5" fill="#0a55b0" fill-opacity="0.6"/>
<circle cx="180.45" cy="46.70" r="0.5" fill="#0a55b0" fill-opacity="0.6"/>
<circle cx="181.13" cy="42.22" r="0.5" fill="#0a55b0" fill-opacity="0.6"/>
<circle cx="182.96" cy="45.29" r="0.5" fill="#0a55b0" fill-opacity="0.6"/>
<circle cx="183.76" cy="43.74" r="0.5" fill="#0a55b0" fill-opacity="0.6"/>
<circle cx="181.22" cy="45.98" r="0.5" fill="#0a55b0" fill-opacity="0.6"/>
<circle cx="181.91" cy="41.37" r="0.5" fill="#0a55b0" fill-opacity="0.6"/>
<circle cx="184.15" cy="48.52" r="0.5" fill="#0a55b0" fill-opacity="0.6"/>
<circle cx="182.81" cy="42.03" r="0.5" fill="#0a55b0" fill-opacity="0.6"/>
<circle cx="187.62" cy="48.11" r="0.5" fill="#0a55b0" fill-opacity="0.6"/>
<circle cx="183.11" cy="44.27" r="0.5" fill="#0a55b0" fill-opacity="0.6"/>
<circle cx="184.47" cy="52.54" r="0.5" fill="#0a55b0" fill-opacity="0.6"/>
<circle cx="184.26" cy="47.22" r="0.5" fill="#0a55b0" fill-opacity="0.6"/>
<circle cx="185.09" cy="39.21" r="0.5" fill="#0a55b0" fill-opacity="0.6"/>
<circle cx="180.94" cy="42.16" r="0.5" fill="#0a55b0" fill-opacity="0.6"/>
<circle cx="185.06" cy="44.52" r="0.5" fill="#0a55b0" fill-opacity="0.6"/>
<circle cx="188.71" cy="42.31" r="0.5" fill="#0a55b0" fill-opacity="0.6"/>
<circle cx="184.73" cy="44.54" r="0.5" fill="#0a55b0" fill-opacity="0.6"/>
<circle cx="184.27" cy="50.86" r="0.5" fill="#0a55b0" fill-opacity="0.6"/>
<circle cx="184.67" cy="48.41" r="0.5" fill="#0a55b0" fill-opacity="0.6"/>
<circle cx="187.39" cy="41.80" r="0.5" fill="#0a55b0" fill-opacity="0.6"/>
<circle cx="185.74" cy="42.96" r="0.5" fill="#0a55b0" fill-opacity="0.6"/>
<circle cx="184.20" cy="44.94" r="0.5" fill="#0a55b0" fill-opacity="0.6"/>
<circle cx="183.96" cy="43.29" r="0.5" fill="#0a55b0" fill-opacity="0.6"/>
<circle cx="188.09" cy="42.52" r="0.5" fill="#0a55b0" fill-opacity="0.6"/>
<circle cx="185.79" cy="48.62" r="0.5" fill="#0a55b0" fill-opacity="0.6"/>
<circle cx="185.58" cy="46.89" r="0.5" fill="#0a55b0" fill-opacity="0.6"/>
<circle cx="187.64" cy="46.40" r="0.5" fill="#0a55b0" fill-opacity="0.6"/>
<circle cx="188.53" cy="39.17" r="0.5" fill="#0a55b0" fill-opacity="0.6"/>
<circle cx="189.17" cy="42.98" r="0.5" fill="#0a55b0" fill-opacity="0.6"/>
<circle cx="179.19" cy="44.35" r="0.5" fill="#0a55b0" fill-opacity="0.6"/>
<circle cx="180.15" cy="45.75" r="0.5" fill="#0a55b0" fill-opacity="0.6"/>
<circle cx="179.89" cy="43.12" r="0.5" fill="#0a55b0" fill-opacity="0.6"/>
<circle cx="184.70" cy="44.78" r="0.5" fill="#0a55b0" fill-opacity="0.6"/>
<circle cx="181.75" cy="44.65" r="0.5" fill="#0a55b0" fill-opacity="0.6"/>
<circle cx="183.63" cy="44.89" r="0.5" fill="#0a55b0" fill-opacity="0.6"/>
<circle cx="183.88" cy="44.00" r="0.5" fill="#0a55b0" fill-opacity="0.6"/>
<circle cx="186.27" cy="39.40" r="0.5" fill="#0a55b0" fill-opacity="0.6"/>
<circle cx="182.57" cy="45.40" r="0.5" fill="#0a55b0" fill-opacity="0.6"/>
<circle cx="182.82" cy="43.42" r="0.5" fill="#0a55b0" fill-opacity="0.6"/>
<circle cx="182.72" cy="45.56" r="0.5" fill="#0a55b0" fill-opacity="0.6"/>
<circle cx="187.26" cy="43.01" r="0.5" fill="#0a55b0" fill-opacity="0.6"/>
<circle cx="183.18" cy="45.82" r="0.5" fill="#0a55b0" fill-opacity="0.6"/>
<circle cx="183.25" cy="39.47" r="0.5" fill="#0a55b0" fill-opacity="0.6"/>
<circle cx="184.62" cy="43.32" r="0.5" fill="#0a55b0" fill-opacity="0.6"/>
<circle cx="182.36" cy="46.83" r="0.5" fill="#0a55b0" fill-opacity="0.6"/>
<circle cx="184.02" cy="43.00" r="0.5" fill="#0a55b0" fill-opacity="0.6"/>
<circle cx="178.03" cy="41.74" r="0.5" fill="#0a55b0" fill-opacity="0.6"/>
<circle cx="183.94" cy="44.26" r="0.5" fill="#0a55b0" fill-opacity="0.6"/>
<circle cx="185.08" cy="44.84" r="0.5" fill="#0a55b0" fill-opacity="0.6"/>
<circle cx="182.61" cy="41.52" r="0.5" fill="#0a55b0" fill-opacity="0.6"/>
<circle cx="180.95" cy="45.17" r="0.5" fill="#0a55b0" fill-opacity="0.6"/>
<circle cx="180.80" cy="47.69" r="0.5" fill="#0a55b0" fill-opacity="0.6"/>
<circle cx="180.32" cy="40.80" r="0.5" fill="#0a55b0" fill-opacity="0.6"/>
<circle cx="183.38" cy="39.86" r="0.5" fill="#0a55b0" fill-opacity="0.6"/>
<circle cx="188.29" cy="40.44" r="0.5" fill="#0a55b0" fill-opacity="0.6"/>
<circle cx="183.76" cy="43.97" r="0.5" fill="#0a55b0" fill-opacity="0.6"/>
<circle cx="181.69" cy="40.43" r="0.5" fill="#0a55b0" fill-opacity="0.6"/>
<circle cx="178.88" cy="48.61" r="0.5" fill="#0a55b0" fill-opacity="0.6"/>
<circle cx="186.66" cy="49.70" r="0.5" fill="#0a55b0" fill-opacity="0.6"/>
<circle cx="179.95" cy="47.42" r="0.5" fill="#0a55b0" fill-opacity="0.6"/>
<circle cx="183.86" cy="46.95" r="0.5" fill="#0a55b0" fill-opacity="0.6"/>
<circle cx="182.51" cy="47.04" r="0.5" fill="#0a55b0" fill-opacity="0.6"/>
<circle cx="186.32" cy="45.50" r="0.5" fill="#0a55b0" fill-opacity="0.6"/>
<circle cx="187.81" cy="42.86" r="0.5" fill="#0a55b0" fill-opacity="0.6"/>
<circle cx="188.07" cy="41.32" r="0.5" fill="#0a55b0" fill-opacity="0.6"/>
<circle cx="188.40" cy="35.55" r="0.5" fill="#0a55b0" fill-opacity="0.6"/>
<circle cx="183.94" cy="42.37" r="0.5" fill="#0a55b0" fill-opacity="0.6"/>
<circle cx="183.90" cy="47.45" r="0.5" fill="#0a55b0" fill-opacity="0.6"/>
<circle cx="185.84" cy="44.24" r="0.5" fill="#0a55b0" fill-opacity="0.6"/>
<circle cx="188.49" cy="39.04" r="0.5" fill="#0a55b0" fill-opacity="0.6"/>
<circle cx="181.70" cy="49.49" r="0.5" fill="#0a55b0" fill-opacity="0.6"/>
<circle cx="184.79" cy="38.58" r="0.5" fill="#0a55b0" fill-opacity="0.6"/>
<circle cx="184.82" cy="41.03" r="0.5" fill="#0a55b0" fill-opacity="0.6"/>
<circle cx="187.89" cy="46.48" r="0.5" fill="#0a55b0" fill-opacity="0.6"/>
<circle cx="182.42" cy="48.65" r="0.5" fill="#0a55b0" fill-opacity="0.6"/>
<circle cx="181.65" cy="47.87" r="0.5" fill="#0a55b0" fill-opacity="0.6"/>
<circle cx="185.46" cy="43.75" r="0.5" fill="#0a55b0" fill-opacity="0.6"/>
<circle cx="180.06" cy="45.06" r="0.5" fill="#0a55b0" fill-opacity="0.6"/>
<circle cx="177.72" cy="45.03" r="0.5" fill="#0a55b0" fill-opacity="0.6"/>
<circle cx="178.90" cy="49.57" r="0.5" fill="#0a55b0" fill-opacity="0.6"/>
<circle cx="181.29" cy="38.71" r="0.5" fill="#0a55b0" fill-opacity="0.6"/>
<circle cx="185.48" cy="45.11" r="0.5" fill="#0a55b0" fill-opacity="0.6"/>
<circle cx="182.53" cy="50.90" r="0.5" fill="#0a55b0" fill-opacity="0.6"/>
<circle cx="185.99" cy="44.11" r="0.5" fill="#0a55b0" fill-opacity="0.6"/>
<circle cx="182.16" cy="36.98" r="0.5" fill="#0a55b0" fill-opacity="0.6"/>
<circle cx="185.20" cy="46.84" r="0.5" fill="#0a55b0" fill-opacity="0.6"/>
<circle cx="182.30" cy="41.21" r="0.5" fill="#0a55b0" fill-opacity="0.6"/>
<circle cx="183.79" cy="40.01" r="0.5" fill="#0a55b0" fill-opacity="0.6"/>
<circle cx="183.92" cy="46.73" r="0.5" fill="#0a55b0" fill-opacity="0.6"/>
<circle cx="187.98" cy="44.02" r="0.5" fill="#0a55b0" fill-opacity="0.6"/>
<circle cx="184.43" cy="46.50" r="0.5" fill="#0a55b0" fill-opacity="0.6"/>
<circle cx="187.68" cy="42.50" r="0.5" fill="#0a55b0" fill-opacity="0.6"/>
<circle cx="180.58" cy="43.48" r="0.5" fill="#0a55b0" fill-opacity="0.6"/>
<circle cx="180.50" cy="43.24" r="0.5" fill="#0a55b0" fill-opacity="0.6"/>
<circle cx="183.57" cy="45.65" r="0.5" fill="#0a55b0" fill-opacity="0.6"/>
<circle cx="184.32" cy="44.66" r="0.5" fill="#0a55b0" fill-opacity="0.6"/>
<circle cx="182.94" cy="46.08" r="0.5" fill="#0a55b0" fill-opacity="0.6"/>
<circle cx="186.29" cy="45.93" r="0.5" fill="#0a55b0" fill-opacity="0.6"/>
<circle cx="187.94" cy="42.49" r="0.5" fill="#0a55b0" fill-opacity="0.6"/>
<circle cx="183.22" cy="49.51" r="0.5" fill="#0a55b0" fill-opacity="0.6"/>
<circle cx="184.44" cy="45.57" r="0.5" fill="#0a55b0" fill-opacity="0.6"/>
<circle cx="182.99" cy="47.57" r="0.5" fill="#0a55b0" fill-opacity="0.6"/>
<circle cx="182.81" cy="42.16" r="0.5" fill="#0a55b0" fill-opacity="0.6"/>
<circle cx="183.74" cy="43.43" r="0.5" fill="#0a55b0" fill-opacity="0.6"/>
<circle cx="186.15" cy="42.83" r="0.5" fill="#0a55b0" fill-opacity="0.6"/>
<circle cx="184.23" cy="43.89" r="0.5" fill="#0a55b0" fill-opacity="0.6"/>
<circle cx="184.82" cy="42.56" r="0.5" fill="#0a55b0" fill-opacity="0.6"/>
<circle cx="186.88" cy="39.70" r="0.5" fill="#0a55b0" fill-opacity="0.6"/>
<circle cx="182.86" cy="42.98" r="0.5" fill="#0a55b0" fill-opacity="0.6"/>
<circle cx="185.65" cy="44.15" r="0.5" fill="#0a55b0" fill-opacity="0.6"/>
<circle cx="185.21" cy="43.27" r="0.5" fill="#0a55b0" fill-opacity="0.6"/>
<circle cx="181.96" cy="42.13" r="0.5" fill="#0a55b0" fill-opacity="0.6"/>
<circle cx="183.00" cy="43.41" r="0.5" fill="#0a55b0" fill-opacity="0.6"/>
<circle cx="184.66" cy="45.34" r="0.5" fill="#0a55b0" fill-opacity="0.6"/>
<circle cx="186.54" cy="43.46" r="0.5" fill="#0a55b0" fill-opacity="0.6"/>
<circle cx="181.88" cy="42.32" r="0.5" fill="#0a55b0" fill-opacity="0.6"/>
<circle cx="184.07" cy="45.55" r="0.5" fill="#0a55b0" fill-opacity="0.6"/>
<circle cx="189.16" cy="43.41" r="0.5" fill="#0a55b0" fill-opacity="0.6"/>
<circle cx="188.65" cy="48.25" r="0.5" fill="#0a55b0" fill-opacity="0.6"/>
<circle cx="181.07" cy="48.86" r="0.5" fill="#0a55b0" fill-opacity="0.6"/>
<circle cx="186.97" cy="47.33" r="0.5" fill="#0a55b0" fill-opacity="0.6"/>
<circle cx="183.87" cy="47.25" r="0.5" fill="#0a55b0" fill-opacity="0.6"/>
<circle cx="182.60" cy="44.82" r="0.5" fill="#0a55b0" fill-opacity="0.6"/>
<circle cx="183.95" cy="49.52" r="0.5" fill="#0a55b0" fill-opacity="0.6"/>
<circle cx="183.32" cy="47.43" r="0.5" fill="#0a55b0" fill-opacity="0.6"/>
<circle cx="184.08" cy="42.58" r="0.5" fill="#0a55b0" fill-opacity="0.6"/>
<circle cx="184.56" cy="46.21" r="0.5" fill="#0a55b0" fill-opacity="0.6"/>
<circle cx="181.98" cy="46.97" r="0.5" fill="#0a55b0" fill-opacity="0.6"/>
<circle cx="181.98" cy="42.79" r="0.5" fill="#0a55b0" fill-opacity="0.6"/>
<circle cx="184.49" cy="43.76" r="0.5" fill="#0a55b0" fill-opacity="0.6"/>
<circle cx="181.25" cy="40.95" r="0.5" fill="#0a55b0" fill-opacity="0.6"/>
<circle cx="183.96" cy="45.25" r="0.5" fill="#0a55b0" fill-opacity="0.6"/>
<circle cx="182.66" cy="45.52" r="0.5" fill="#0a55b0" fill-opacity="0.6"/>
<circle cx="179.78" cy="47.01" r="0.5" fill="#0a55b0" fill-opacity="0.6"/>
<circle cx="185.02" cy="45.01" r="0.5" fill="#0a55b0" fill-opacity="0.6"/>
<circle cx="182.25" cy="45.35" r="0.5" fill="#0a55b0" fill-opacity="0.6"/>
<circle cx="184.25" cy="47.45" r="0.5" fill="#0a55b0" fill-opacity="0.6"/>
<circle cx="184.65" cy="45.06" r="0.5" fill="#0a55b0" fill-opacity="0.6"/>
<circle cx="181.95" cy="47.61" r="0.5" fill="#0a55b0" fill-opacity="0.6"/>
<circle cx="187.07" cy="42.21" r="0.5" fill="#0a55b0" fill-opacity="0.6"/>
<circle cx="185.62" cy="44.90" r="0.5" fill="#0a55b0" fill-opacity="0.6"/>
<circle cx="183.77" cy="41.08" r="0.5" fill="#0a55b0" fill-opacity="0.6"/>
<circle cx="188.64" cy="37.91" r="0.5" fill="#0a55b0" fill-opacity="0.6"/>
<circle cx="184.72" cy="43.30" r="0.5" fill="#0a55b0" fill-opacity="0.6"/>
<circle cx="186.99" cy="42.44" r="0.5" fill="#0a55b0" fill-opacity="0.6"/>
<circle cx="184.01" cy="46.25" r="0.5" fill="#0a55b0" fill-opacity="0.6"/>
<circle cx="185.13" cy="42.77" r="0.5" fill="#0a55b0" fill-opacity="0.6"/>
<circle cx="185.74" cy="45.09" r="0.5" fill="#0a55b0" fill-opacity="0.6"/>
<circle cx="186.57" cy="42.33" r="0.5" fill="#0a55b0" fill-opacity="0.6"/>
<circle cx="183.78" cy="43.56" r="0.5" fill="#0a55b0" fill-opacity="0.6"/>
<circle cx="181.64" cy="46.03" r="0.5" fill="#0a55b0" fill-opacity="0.6"/>
<circle cx="185.00" cy="48.16" r="0.5" fill="#0a55b0" fill-opacity="0.6"/>
<circle cx="183.02" cy="45.95" r="0.5" fill="#0a55b0" fill-opacity="0.6"/>
<circle cx="186.98" cy="43.29" r="0.5" fill="#0a55b0" fill-opacity="0.6"/>
<circle cx="184.07" cy="44.92" r="0.5" fill="#0a55b0" fill-opacity="0.6"/>
<circle cx="182.04" cy="42.47" r="0.5" fill="#0a55b0" fill-opacity="0.6"/>
<circle cx="186.91" cy="44.11" r="0.5" fill="#0a55b0" fill-opacity="0.6"/>
<circle cx="183.70" cy="41.24" r="0.5" fill="#0a55b0" fill-opacity="0.6"/>
<circle cx="184.22" cy="47.73" r="0.5" fill="#0a55b0" fill-opacity="0.6"/>
<circle cx="180.80" cy="43.14" r="0.5" fill="#0a55b0" fill-opacity="0.6"/>
<circle cx="186.89" cy="47.58" r="0.5" fill="#0a55b0" fill-opacity="0.6"/>
<circle cx="188.08" cy="41.73" r="0.5" fill="#0a55b0" fill-opacity="0.6"/>
<circle cx="185.51" cy="42.01" r="0.5" fill="#0a55b0" fill-opacity="0.6"/>
<circle cx="185.30" cy="43.14" r="0.5" fill="#0a55b0" fill-opacity="0.6"/>
<circle cx="184.43" cy="48.13" r="0.5" fill="#0a55b0" fill-opacity="0.6"/>
<circle cx="184.81" cy="43.64" r="0.5" fill="#0a55b0" fill-opacity="0.6"/>
<circle cx="184.05" cy="45.28" r="0.5" fill="#0a55b0" fill-opacity="0.6"/>
<circle cx="182.52" cy="45.61" r="0.5" fill="#0a55b0" fill-opacity="0.6"/>
<circle cx="185.51" cy="48.37" r="0.5" fill="#0a55b0" fill-opacity="0.6"/>
<circle cx="178.36" cy="43.11" r="0.5" fill="#0a55b0" fill-opacity="0.6"/>
<circle cx="180.58" cy="48.08" r="0.5" fill="#0a55b0" fill-opacity="0.6"/>
<circle cx="190.45" cy="43.02" r="0.5" fill="#0a55b0" fill-opacity="0.6"/>
<circle cx="184.23" cy="47.63" r="0.5" fill="#0a55b0" fill-opacity="0.6"/>
<circle cx="177.35" cy="46.22" r="0.5" fill="#0a55b0" fill-opacity="0.6"/>
<circle cx="175.54" cy="47.72" r="0.5" fill="#0a55b0" fill-opacity="0.6"/>
<circle cx="182.54" cy="43.71" r="0.5" fill="#0a55b0" fill-opacity="0.6"/>
<circle cx="184.81" cy="42.70" r="0.5" fill="#0a55b0" fill-opacity="0.6"/>
<circle cx="186.88" cy="43.63" r="0.5" fill="#0a55b0" fill-opacity="0.6"/>
<circle cx="184.92" cy="51.25" r="0.5" fill="#0a55b0" fill-opacity="0.6"/>
<circle cx="182.70" cy="47.53" r="0.5" fill="#0a55b0" fill-opacity="0.6"/>
<circle cx="181.68" cy="48.74" r="0.5" fill="#0a55b0" fill-opacity="0.6"/>
<circle cx="186.49" cy="44.15" r="0.5" fill="#0a55b0" fill-opacity="0.6"/>
<circle cx="186.56" cy="48.16" r="0.5" fill="#0a55b0" fill-opacity="0.6"/>
<circle cx="187.59" cy="43.41" r="0.5" fill="#0a55b0" fill-opacity="0.6"/>
<circle cx="183.75" cy="47.69" r="0.5" fill="#0a55b0" fill-opacity="0.6"/>
<circle cx="179.96" cy="44.22" r="0.5" fill="#0a55b0" fill-opacity="0.6"/>
<circle cx="185.20" cy="45.74" r="0.5" fill="#0a55b0" fill-opacity="0.6"/>
<circle cx="188.88" cy="47.82" r="0.5" fill="#0a55b0" fill-opacity="0.6"/>
<circle cx="184.77" cy="45.53" r="0.5" fill="#0a55b0" fill-opacity="0.6"/>
<circle cx="180.37" cy="45.23" r="0.5" fill="#0a55b0" fill-opacity="0.6"/>
<circle cx="184.60" cy="43.76" r="0.5" fill="#0a55b0" fill-opacity="0.6"/>
<circle cx="184.06" cy="46.22" r="0.5" fill="#0a55b0" fill-opacity="0.6"/>
<circle cx="181.36" cy="43.86" r="0.5" fill="#0a55b0" fill-opacity="0.6"/>
<circle cx="179.15" cy="49.27" r="0.5" fill="#0a55b0" fill-opacity="0.6"/>
<circle cx="181.08" cy="40.84" r="0.5" fill="#0a55b0" fill-opacity="0.6"/>
<circle cx="185.96" cy="43.35" r="0.5" fill="#0a55b0" fill-opacity="0.6"/>
<circle cx="186.48" cy="42.76" r="0.5" fill="#0a55b0" fill-opacity="0.6"/>
<circle cx="189.58" cy="44.73" r="0.5" fill="#0a55b0" fill-opacity="0.6"/>
<circle cx="184.30" cy="44.79" r="0.5" fill="#0a55b0" fill-opacity="0.6"/>
<circle cx="183.35" cy="46.99" r="0.5" fill="#0a55b0" fill-opacity="0.6"/>
<circle cx="189.24" cy="41.72" r="0.5" fill="#0a55b0" fill-opacity="0.6"/>
<circle cx="180.99" cy="47.17" r="0.5" fill="#0a55b0" fill-opacity="0.6"/>
<circle cx="186.75" cy="39.60" r="0.5" fill="#0a55b0" fill-opacity="0.6"/>
<circle cx="182.05" cy="42.47" r="0.5" fill="#0a55b0" fill-opacity="0.6"/>
<circle cx="185.40" cy="45.50" r="0.5" fill="#0a55b0" fill-opacity="0.6"/>
<circle cx="181.94" cy="42.15" r="0.5" fill="#0a55b0" fill-opacity="0.6"/>
<circle cx="185.72" cy="38.39" r="0.5" fill="#0a55b0" fill-opacity="0.6"/>
<circle cx="185.62" cy="43.62" r="0.5" fill="#0a55b0" fill-opacity="0.6"/>
<circle cx="189.02" cy="45.67" r="0.5" fill="#0a55b0" fill-opacity="0.6"/>
<circle cx="182.36" cy="44.35" r="0.5" fill="#0a55b0" fill-opacity="0.6"/>
<circle cx="183.16" cy="42.85" r="0.5" fill="#0a55b0" fill-opacity="0.6"/>
<circle cx="184.12" cy="47.16" r="0.5" fill="#0a55b0" fill-opacity="0.6"/>
<circle cx="179.88" cy="45.27" r="0.5" fill="#0a55b0" fill-opacity="0.6"/>
<circle cx="187.88" cy="45.34" r="0.5" fill="#0a55b0" fill-opacity="0.6"/>
<circle cx="181.73" cy="43.10" r="0.5" fill="#0a55b0" fill-opacity="0.6"/>
<circle cx="186.31" cy="34.55" r="0.4" fill="#3a7fd0" fill-opacity="0.45"/>
<circle cx="190.27" cy="37.60" r="0.4" fill="#3a7fd0" fill-opacity="0.45"/>
<circle cx="186.63" cy="34.88" r="0.4" fill="#3a7fd0" fill-opacity="0.45"/>
<circle cx="187.24" cy="36.95" r="0.4" fill="#3a7fd0" fill-opacity="0.45"/>
<circle cx="191.39" cy="36.04" r="0.4" fill="#3a7fd0" fill-opacity="0.45"/>
<circle cx="188.23" cy="40.53" r="0.4" fill="#3a7fd0" fill-opacity="0.45"/>
<circle cx="189.32" cy="37.23" r="0.4" fill="#3a7fd0" fill-opacity="0.45"/>
<circle cx="183.70" cy="42.45" r="0.4" fill="#3a7fd0" fill-opacity="0.45"/>
<circle cx="189.18" cy="36.66" r="0.4" fill="#3a7fd0" fill-opacity="0.45"/>
<circle cx="187.83" cy="35.74" r="0.4" fill="#3a7fd0" fill-opacity="0.45"/>
<circle cx="186.23" cy="34.87" r="0.4" fill="#3a7fd0" fill-opacity="0.45"/>
<circle cx="188.99" cy="39.00" r="0.4" fill="#3a7fd0" fill-opacity="0.45"/>
<circle cx="188.34" cy="39.79" r="0.4" fill="#3a7fd0" fill-opacity="0.45"/>
<circle cx="189.05" cy="38.03" r="0.4" fill="#3a7fd0" fill-opacity="0.45"/>
<circle cx="186.26" cy="39.86" r="0.4" fill="#3a7fd0" fill-opacity="0.45"/>
<circle cx="190.33" cy="38.94" r="0.4" fill="#3a7fd0" fill-opacity="0.45"/>
<circle cx="190.45" cy="36.25" r="0.4" fill="#3a7fd0" fill-opacity="0.45"/>
<circle cx="186.08" cy="41.49" r="0.4" fill="#3a7fd0" fill-opacity="0.45"/>
<circle cx="186.85" cy="38.87" r="0.4" fill="#3a7fd0" fill-opacity="0.45"/>
<circle cx="187.63" cy="38.15" r="0.4" fill="#3a7fd0" fill-opacity="0.45"/>
<circle cx="187.47" cy="36.84" r="0.4" fill="#3a7fd0" fill-opacity="0.45"/>
<circle cx="184.50" cy="43.46" r="0.4" fill="#3a7fd0" fill-opacity="0.45"/>
<circle cx="188.40" cy="33.27" r="0.4" fill="#3a7fd0" fill-opacity="0.45"/>
<circle cx="186.22" cy="35.74" r="0.4" fill="#3a7fd0" fill-opacity="0.45"/>
<circle cx="186.54" cy="32.24" r="0.4" fill="#3a7fd0" fill-opacity="0.45"/>
<circle cx="189.13" cy="41.66" r="0.4" fill="#3a7fd0" fill-opacity="0.45"/>
<circle cx="187.52" cy="39.91" r="0.4" fill="#3a7fd0" fill-opacity="0.45"/>
<circle cx="189.18" cy="34.71" r="0.4" fill="#3a7fd0" fill-opacity="0.45"/>
<circle cx="190.39" cy="33.35" r="0.4" fill="#3a7fd0" fill-opacity="0.45"/>
<circle cx="186.87" cy="37.42" r="0.4" fill="#3a7fd0" fill-opacity="0.45"/>
<circle cx="190.46" cy="37.67" r="0.4" fill="#3a7fd0" fill-opacity="0.45"/>
<circle cx="187.76" cy="36.13" r="0.4" fill="#3a7fd0" fill-opacity="0.45"/>
<circle cx="188.18" cy="38.06" r="0.4" fill="#3a7fd0" fill-opacity="0.45"/>
<circle cx="189.43" cy="40.99" r="0.4" fill="#3a7fd0" fill-opacity="0.45"/>
<circle cx="189.45" cy="37.68" r="0.4" fill="#3a7fd0" fill-opacity="0.45"/>
<circle cx="187.70" cy="41.92" r="0.4" fill="#3a7fd0" fill-opacity="0.45"/>
<circle cx="188.39" cy="37.86" r="0.4" fill="#3a7fd0" fill-opacity="0.45"/>
<circle cx="191.52" cy="40.88" r="0.4" fill="#3a7fd0" fill-opacity="0.45"/>
<circle cx="189.11" cy="37.46" r="0.4" fill="#3a7fd0" fill-opacity="0.45"/>
<circle cx="186.76" cy="40.87" r="0.4" fill="#3a7fd0" fill-opacity="0.45"/>
<circle cx="187.11" cy="40.52" r="0.4" fill="#3a7fd0" fill-opacity="0.45"/>
<circle cx="186.47" cy="38.63" r="0.4" fill="#3a7fd0" fill-opacity="0.45"/>
<circle cx="188.79" cy="38.15" r="0.4" fill="#3a7fd0" fill-opacity="0.45"/>
<circle cx="188.46" cy="38.80" r="0.4" fill="#3a7fd0" fill-opacity="0.45"/>
<circle cx="185.80" cy="35.89" r="0.4" fill="#3a7fd0" fill-opacity="0.45"/>
<circle cx="187.71" cy="42.40" r="0.4" fill="#3a7fd0" fill-opacity="0.45"/>
<circle cx="187.76" cy="35.84" r="0.4" fill="#3a7fd0" fill-opacity="0.45"/>
<circle cx="186.71" cy="38.40" r="0.4" fill="#3a7fd0" fill-opacity="0.45"/>
<circle cx="190.31" cy="36.07" r="0.4" fill="#3a7fd0" fill-opacity="0.45"/>
<circle cx="189.10" cy="38.17" r="0.4" fill="#3a7fd0" fill-opacity="0.45"/>
<circle cx="187.30" cy="35.91" r="0.4" fill="#3a7fd0" fill-opacity="0.45"/>
<circle cx="187.70" cy="36.34" r="0.4" fill="#3a7fd0" fill-opacity="0.45"/>
<circle cx="189.05" cy="33.52" r="0.4" fill="#3a7fd0" fill-opacity="0.45"/>
<circle cx="190.20" cy="39.26" r="0.4" fill="#3a7fd0" fill-opacity="0.45"/>
<circle cx="189.13" cy="41.30" r="0.4" fill="#3a7fd0" fill-opacity="0.45"/>
<circle cx="189.18" cy="33.62" r="0.4" fill="#3a7fd0" fill-opacity="0.45"/>
<circle cx="188.10" cy="39.05" r="0.4" fill="#3a7fd0" fill-opacity="0.45"/>
<circle cx="186.66" cy="35.63" r="0.4" fill="#3a7fd0" fill-opacity="0.45"/>
<circle cx="188.85" cy="39.01" r="0.4" fill="#3a7fd0" fill-opacity="0.45"/>
<circle cx="187.17" cy="37.63" r="0.4" fill="#3a7fd0" fill-opacity="0.45"/>
<circle cx="187.01" cy="36.89" r="0.4" fill="#3a7fd0" fill-opacity="0.45"/>
<circle cx="187.89" cy="40.60" r="0.4" fill="#3a7fd0" fill-opacity="0.45"/>
<circle cx="184.86" cy="37.97" r="0.4" fill="#3a7fd0" fill-opacity="0.45"/>
<circle cx="191.15" cy="37.97" r="0.4" fill="#3a7fd0" fill-opacity="0.45"/>
<circle cx="188.30" cy="39.92" r="0.4" fill="#3a7fd0" fill-opacity="0.45"/>
<circle cx="186.04" cy="35.60" r="0.4" fill="#3a7fd0" fill-opacity="0.45"/>
<circle cx="184.76" cy="35.33" r="0.4" fill="#3a7fd0" fill-opacity="0.45"/>
<circle cx="188.49" cy="39.91" r="0.4" fill="#3a7fd0" fill-opacity="0.45"/>
<circle cx="187.19" cy="36.58" r="0.4" fill="#3a7fd0" fill-opacity="0.45"/>
<circle cx="188.79" cy="39.27" r="0.4" fill="#3a7fd0" fill-opacity="0.45"/>
<circle cx="188.50" cy="33.33" r="0.4" fill="#3a7fd0" fill-opacity="0.45"/>
<circle cx="186.94" cy="32.22" r="0.4" fill="#3a7fd0" fill-opacity="0.45"/>
<circle cx="188.47" cy="35.85" r="0.4" fill="#3a7fd0" fill-opacity="0.45"/>
<circle cx="186.72" cy="41.91" r="0.4" fill="#3a7fd0" fill-opacity="0.45"/>
<circle cx="190.58" cy="38.51" r="0.4" fill="#3a7fd0" fill-opacity="0.45"/>
<circle cx="188.54" cy="38.28" r="0.4" fill="#3a7fd0" fill-opacity="0.45"/>
<circle cx="186.86" cy="38.16" r="0.4" fill="#3a7fd0" fill-opacity="0.45"/>
<circle cx="191.72" cy="34.98" r="0.4" fill="#3a7fd0" fill-opacity="0.45"/>
<circle cx="186.71" cy="38.71" r="0.4" fill="#3a7fd0" fill-opacity="0.45"/>
<circle cx="189.74" cy="39.55" r="0.4" fill="#3a7fd0" fill-opacity="0.45"/>
<circle cx="168.24" cy="44.12" r="0.4" fill="#3a7fd0" fill-opacity="0.5"/>
<circle cx="170.97" cy="41.66" r="0.4" fill="#3a7fd0" fill-opacity="0.5"/>
<circle cx="172.30" cy="42.86" r="0.4" fill="#3a7fd0" fill-opacity="0.5"/>
<circle cx="175.58" cy="44.07" r="0.4" fill="#3a7fd0" fill-opacity="0.5"/>
<circle cx="168.96" cy="44.41" r="0.4" fill="#3a7fd0" fill-opacity="0.5"/>
<circle cx="170.61" cy="42.83" r="0.4" fill="#3a7fd0" fill-opacity="0.5"/>
<circle cx="170.11" cy="46.06" r="0.4" fill="#3a7fd0" fill-opacity="0.5"/>
<circle cx="170.39" cy="40.86" r="0.4" fill="#3a7fd0" fill-opacity="0.5"/>
<circle cx="168.99" cy="45.75" r="0.4" fill="#3a7fd0" fill-opacity="0.5"/>
<circle cx="180.38" cy="40.59" r="0.4" fill="#3a7fd0" fill-opacity="0.5"/>
<circle cx="170.62" cy="43.40" r="0.4" fill="#3a7fd0" fill-opacity="0.5"/>
<circle cx="166.53" cy="45.37" r="0.4" fill="#3a7fd0" fill-opacity="0.5"/>
<circle cx="171.80" cy="44.35" r="0.4" fill="#3a7fd0" fill-opacity="0.5"/>
<circle cx="180.71" cy="42.00" r="0.4" fill="#3a7fd0" fill-opacity="0.5"/>
<circle cx="175.09" cy="44.88" r="0.4" fill="#3a7fd0" fill-opacity="0.5"/>
<circle cx="169.53" cy="43.07" r="0.4" fill="#3a7fd0" fill-opacity="0.5"/>
<circle cx="178.06" cy="44.22" r="0.4" fill="#3a7fd0" fill-opacity="0.5"/>
<circle cx="172.56" cy="41.69" r="0.4" fill="#3a7fd0" fill-opacity="0.5"/>
<circle cx="175.44" cy="44.26" r="0.4" fill="#3a7fd0" fill-opacity="0.5"/>
<circle cx="180.55" cy="45.25" r="0.4" fill="#3a7fd0" fill-opacity="0.5"/>
<circle cx="175.13" cy="43.83" r="0.4" fill="#3a7fd0" fill-opacity="0.5"/>
<circle cx="172.24" cy="42.74" r="0.4" fill="#3a7fd0" fill-opacity="0.5"/>
<circle cx="173.20" cy="44.07" r="0.4" fill="#3a7fd0" fill-opacity="0.5"/>
<circle cx="174.54" cy="45.44" r="0.4" fill="#3a7fd0" fill-opacity="0.5"/>
<circle cx="173.21" cy="42.61" r="0.4" fill="#3a7fd0" fill-opacity="0.5"/>
<circle cx="175.14" cy="46.21" r="0.4" fill="#3a7fd0" fill-opacity="0.5"/>
<circle cx="168.75" cy="45.07" r="0.4" fill="#3a7fd0" fill-opacity="0.5"/>
<circle cx="174.13" cy="44.48" r="0.4" fill="#3a7fd0" fill-opacity="0.5"/>
<circle cx="173.96" cy="43.34" r="0.4" fill="#3a7fd0" fill-opacity="0.5"/>
<circle cx="171.61" cy="46.99" r="0.4" fill="#3a7fd0" fill-opacity="0.5"/>
<circle cx="178.74" cy="40.19" r="0.4" fill="#3a7fd0" fill-opacity="0.5"/>
<circle cx="162.13" cy="46.09" r="0.4" fill="#3a7fd0" fill-opacity="0.5"/>
<circle cx="169.38" cy="43.24" r="0.4" fill="#3a7fd0" fill-opacity="0.5"/>
<circle cx="165.80" cy="45.39" r="0.4" fill="#3a7fd0" fill-opacity="0.5"/>
<circle cx="171.79" cy="42.83" r="0.4" fill="#3a7fd0" fill-opacity="0.5"/>
<circle cx="175.49" cy="47.79" r="0.4" fill="#3a7fd0" fill-opacity="0.5"/>
<circle cx="177.73" cy="45.12" r="0.4" fill="#3a7fd0" fill-opacity="0.5"/>
<circle cx="170.40" cy="45.26" r="0.4" fill="#3a7fd0" fill-opacity="0.5"/>
<circle cx="171.85" cy="45.97" r="0.4" fill="#3a7fd0" fill-opacity="0.5"/>
<circle cx="174.26" cy="43.40" r="0.4" fill="#3a7fd0" fill-opacity="0.5"/>
<circle cx="174.15" cy="42.15" r="0.4" fill="#3a7fd0" fill-opacity="0.5"/>
<circle cx="175.08" cy="46.13" r="0.4" fill="#3a7fd0" fill-opacity="0.5"/>
<circle cx="170.60" cy="45.04" r="0.4" fill="#3a7fd0" fill-opacity="0.5"/>
<circle cx="165.53" cy="46.51" r="0.4" fill="#3a7fd0" fill-opacity="0.5"/>
<circle cx="175.41" cy="41.40" r="0.4" fill="#3a7fd0" fill-opacity="0.5"/>
<circle cx="178.78" cy="43.00" r="0.4" fill="#3a7fd0" fill-opacity="0.5"/>
<circle cx="165.28" cy="42.27" r="0.4" fill="#3a7fd0" fill-opacity="0.5"/>
<circle cx="175.40" cy="42.79" r="0.4" fill="#3a7fd0" fill-opacity="0.5"/>
<circle cx="176.29" cy="40.28" r="0.4" fill="#3a7fd0" fill-opacity="0.5"/>
<circle cx="171.62" cy="45.67" r="0.4" fill="#3a7fd0" fill-opacity="0.5"/>
<circle cx="169.37" cy="45.46" r="0.4" fill="#3a7fd0" fill-opacity="0.5"/>
<circle cx="170.61" cy="44.65" r="0.4" fill="#3a7fd0" fill-opacity="0.5"/>
<circle cx="173.25" cy="47.75" r="0.4" fill="#3a7fd0" fill-opacity="0.5"/>
<circle cx="167.19" cy="45.97" r="0.4" fill="#3a7fd0" fill-opacity="0.5"/>
<circle cx="177.10" cy="40.95" r="0.4" fill="#3a7fd0" fill-opacity="0.5"/>
<circle cx="172.32" cy="48.03" r="0.4" fill="#3a7fd0" fill-opacity="0.5"/>
<circle cx="176.08" cy="37.69" r="0.4" fill="#3a7fd0" fill-opacity="0.5"/>
<circle cx="171.08" cy="40.77" r="0.4" fill="#3a7fd0" fill-opacity="0.5"/>
<circle cx="173.18" cy="42.28" r="0.4" fill="#3a7fd0" fill-opacity="0.5"/>
<circle cx="169.82" cy="42.58" r="0.4" fill="#3a7fd0" fill-opacity="0.5"/>
<circle cx="173.14" cy="42.76" r="0.4" fill="#3a7fd0" fill-opacity="0.5"/>
<circle cx="168.49" cy="43.91" r="0.4" fill="#3a7fd0" fill-opacity="0.5"/>
<circle cx="173.58" cy="41.98" r="0.4" fill="#3a7fd0" fill-opacity="0.5"/>
<circle cx="176.32" cy="40.08" r="0.4" fill="#3a7fd0" fill-opacity="0.5"/>
<circle cx="173.58" cy="42.84" r="0.4" fill="#3a7fd0" fill-opacity="0.5"/>
<circle cx="178.11" cy="41.69" r="0.4" fill="#3a7fd0" fill-opacity="0.5"/>
<circle cx="169.42" cy="41.70" r="0.4" fill="#3a7fd0" fill-opacity="0.5"/>
<circle cx="179.72" cy="43.79" r="0.4" fill="#3a7fd0" fill-opacity="0.5"/>
<circle cx="167.79" cy="43.81" r="0.4" fill="#3a7fd0" fill-opacity="0.5"/>
<circle cx="168.28" cy="47.18" r="0.4" fill="#3a7fd0" fill-opacity="0.5"/>
<circle cx="173.62" cy="39.78" r="0.4" fill="#3a7fd0" fill-opacity="0.5"/>
<circle cx="172.82" cy="45.37" r="0.4" fill="#3a7fd0" fill-opacity="0.5"/>
<circle cx="172.01" cy="44.68" r="0.4" fill="#3a7fd0" fill-opacity="0.5"/>
<circle cx="171.57" cy="44.25" r="0.4" fill="#3a7fd0" fill-opacity="0.5"/>
<circle cx="172.83" cy="42.36" r="0.4" fill="#3a7fd0" fill-opacity="0.5"/>
<circle cx="173.35" cy="43.90" r="0.4" fill="#3a7fd0" fill-opacity="0.5"/>
<circle cx="171.85" cy="42.56" r="0.4" fill="#3a7fd0" fill-opacity="0.5"/>
<circle cx="168.06" cy="44.85" r="0.4" fill="#3a7fd0" fill-opacity="0.5"/>
<circle cx="175.21" cy="38.84" r="0.4" fill="#3a7fd0" fill-opacity="0.5"/>
<circle cx="169.92" cy="46.62" r="0.4" fill="#3a7fd0" fill-opacity="0.5"/>
<circle cx="175.56" cy="41.94" r="0.4" fill="#3a7fd0" fill-opacity="0.5"/>
<circle cx="177.26" cy="41.18" r="0.4" fill="#3a7fd0" fill-opacity="0.5"/>
<circle cx="168.93" cy="47.86" r="0.4" fill="#3a7fd0" fill-opacity="0.5"/>
<circle cx="170.30" cy="43.65" r="0.4" fill="#3a7fd0" fill-opacity="0.5"/>
<circle cx="165.59" cy="42.89" r="0.4" fill="#3a7fd0" fill-opacity="0.5"/>
<circle cx="167.43" cy="44.23" r="0.4" fill="#3a7fd0" fill-opacity="0.5"/>
<circle cx="164.87" cy="46.84" r="0.4" fill="#3a7fd0" fill-opacity="0.5"/>
<circle cx="170.62" cy="42.88" r="0.4" fill="#3a7fd0" fill-opacity="0.5"/>
<circle cx="169.53" cy="45.55" r="0.4" fill="#3a7fd0" fill-opacity="0.5"/>
<circle cx="177.96" cy="42.15" r="0.4" fill="#3a7fd0" fill-opacity="0.5"/>
</g>
<rect x="61.00" y="3.90" width="69.00" height="56.20" fill="none" stroke="#262626" stroke-width="1.6"/>
<rect x="141.40" y="3.90" width="68.50" height="56.60" fill="none" stroke="#262626" stroke-width="1.6"/>
<rect x="96.20" y="15.80" width="30.40" height="42.40" fill="none" stroke="#666" stroke-width="1.0"/>
<rect x="176.00" y="15.30" width="31.20" height="43.20" fill="none" stroke="#666" stroke-width="1.0"/>
<line x1="54.80" y1="66.30" x2="54.80" y2="45.00" stroke="#555" stroke-width="1.0"/>
<line x1="54.30" y1="66.20" x2="77.00" y2="66.20" stroke="#555" stroke-width="1.0"/>
<path d="M54.8 40.5L52.3 47.3L57.3 47.3Z" stroke="#111" stroke-width="0" fill="#111"/>
<path d="M82.3 66.2L75.3 63.7L75.3 68.7Z" stroke="#111" stroke-width="0" fill="#111"/>
<line x1="59.30" y1="154.30" x2="59.30" y2="152.30" stroke="#111" stroke-width="1.3"/>
<line x1="53.80" y1="152.30" x2="64.80" y2="152.30" stroke="#111" stroke-width="1.3"/>
<rect x="48.90" y="154.30" width="20.80" height="1.70" fill="#989896" stroke="#111" stroke-width="1.3"/>
<line x1="91.35" y1="99.40" x2="91.35" y2="98.40" stroke="#111" stroke-width="1.3"/>
<line x1="85.85" y1="98.40" x2="96.85" y2="98.40" stroke="#111" stroke-width="1.3"/>
<rect x="81.20" y="99.40" width="20.30" height="56.60" fill="#0b3d84" stroke="#111" stroke-width="1.3"/>
<line x1="37.60" y1="93.00" x2="37.60" y2="156.75" stroke="#111" stroke-width="1.5"/>
<line x1="36.85" y1="156.00" x2="113.00" y2="156.00" stroke="#111" stroke-width="1.5"/>
<line x1="33.10" y1="156.00" x2="37.60" y2="156.00" stroke="#111" stroke-width="1.3"/>
<line x1="33.10" y1="144.50" x2="37.60" y2="144.50" stroke="#111" stroke-width="1.3"/>
<line x1="33.10" y1="133.00" x2="37.60" y2="133.00" stroke="#111" stroke-width="1.3"/>
<line x1="33.10" y1="121.50" x2="37.60" y2="121.50" stroke="#111" stroke-width="1.3"/>
<line x1="33.10" y1="110.00" x2="37.60" y2="110.00" stroke="#111" stroke-width="1.3"/>
<line x1="33.10" y1="98.50" x2="37.60" y2="98.50" stroke="#111" stroke-width="1.3"/>
<line x1="59.30" y1="156.00" x2="59.30" y2="161.20" stroke="#111" stroke-width="1.3"/>
<line x1="91.40" y1="156.00" x2="91.40" y2="161.20" stroke="#111" stroke-width="1.3"/>
<path d="M59.30 100.50V94.60H91.40" stroke="#333" stroke-width="1.2" fill="none"/>
<line x1="185.00" y1="152.40" x2="185.00" y2="151.60" stroke="#111" stroke-width="1.3"/>
<line x1="179.50" y1="151.60" x2="190.50" y2="151.60" stroke="#111" stroke-width="1.3"/>
<rect x="174.40" y="152.40" width="21.20" height="3.60" fill="#989896" stroke="#111" stroke-width="1.3"/>
<line x1="217.30" y1="114.40" x2="217.30" y2="106.80" stroke="#111" stroke-width="1.3"/>
<line x1="211.80" y1="106.80" x2="222.80" y2="106.80" stroke="#111" stroke-width="1.3"/>
<rect x="206.60" y="114.40" width="21.40" height="41.60" fill="#0b3d84" stroke="#111" stroke-width="1.3"/>
<line x1="163.40" y1="93.60" x2="163.40" y2="156.75" stroke="#111" stroke-width="1.5"/>
<line x1="162.65" y1="156.00" x2="238.60" y2="156.00" stroke="#111" stroke-width="1.5"/>
<line x1="158.90" y1="156.00" x2="163.40" y2="156.00" stroke="#111" stroke-width="1.3"/>
<line x1="158.90" y1="137.20" x2="163.40" y2="137.20" stroke="#111" stroke-width="1.3"/>
<line x1="158.90" y1="118.40" x2="163.40" y2="118.40" stroke="#111" stroke-width="1.3"/>
<line x1="158.90" y1="99.60" x2="163.40" y2="99.60" stroke="#111" stroke-width="1.3"/>
<line x1="185.00" y1="156.00" x2="185.00" y2="161.20" stroke="#111" stroke-width="1.3"/>
<line x1="217.20" y1="156.00" x2="217.20" y2="161.20" stroke="#111" stroke-width="1.3"/>
<path d="M184.80 101.00V95.60H217.40" stroke="#333" stroke-width="1.2" fill="none"/>
<line x1="321.90" y1="77.00" x2="321.90" y2="66.00" stroke="#111" stroke-width="1.3"/>
<line x1="316.40" y1="66.00" x2="327.40" y2="66.00" stroke="#111" stroke-width="1.3"/>
<rect x="311.40" y="77.00" width="21.00" height="79.60" fill="#989896" stroke="#111" stroke-width="1.3"/>
<line x1="354.70" y1="75.60" x2="354.70" y2="62.40" stroke="#111" stroke-width="1.3"/>
<line x1="349.20" y1="62.40" x2="360.20" y2="62.40" stroke="#111" stroke-width="1.3"/>
<rect x="344.40" y="75.60" width="20.60" height="81.00" fill="#0b3d84" stroke="#111" stroke-width="1.3"/>
<line x1="300.20" y1="30.40" x2="300.20" y2="157.35" stroke="#111" stroke-width="1.5"/>
<line x1="299.45" y1="156.60" x2="376.00" y2="156.60" stroke="#111" stroke-width="1.5"/>
<line x1="295.70" y1="156.60" x2="300.20" y2="156.60" stroke="#111" stroke-width="1.3"/>
<line x1="295.70" y1="114.60" x2="300.20" y2="114.60" stroke="#111" stroke-width="1.3"/>
<line x1="295.70" y1="72.60" x2="300.20" y2="72.60" stroke="#111" stroke-width="1.3"/>
<line x1="295.70" y1="30.60" x2="300.20" y2="30.60" stroke="#111" stroke-width="1.3"/>
<line x1="321.90" y1="156.60" x2="321.90" y2="161.80" stroke="#111" stroke-width="1.3"/>
<line x1="354.50" y1="156.60" x2="354.50" y2="161.80" stroke="#111" stroke-width="1.3"/>
<path d="M322.00 42.00V35.80H355.00" stroke="#333" stroke-width="1.2" fill="none"/>
<line x1="454.50" y1="75.00" x2="454.50" y2="58.00" stroke="#111" stroke-width="1.3"/>
<line x1="449.00" y1="58.00" x2="460.00" y2="58.00" stroke="#111" stroke-width="1.3"/>
<rect x="444.40" y="75.00" width="20.20" height="81.60" fill="#989896" stroke="#111" stroke-width="1.3"/>
<line x1="486.80" y1="86.00" x2="486.80" y2="80.40" stroke="#111" stroke-width="1.3"/>
<line x1="481.30" y1="80.40" x2="492.30" y2="80.40" stroke="#111" stroke-width="1.3"/>
<rect x="476.60" y="86.00" width="20.40" height="70.60" fill="#0b3d84" stroke="#111" stroke-width="1.3"/>
<line x1="433.40" y1="30.40" x2="433.40" y2="157.35" stroke="#111" stroke-width="1.5"/>
<line x1="432.65" y1="156.60" x2="509.00" y2="156.60" stroke="#111" stroke-width="1.5"/>
<line x1="428.90" y1="156.60" x2="433.40" y2="156.60" stroke="#111" stroke-width="1.3"/>
<line x1="428.90" y1="114.60" x2="433.40" y2="114.60" stroke="#111" stroke-width="1.3"/>
<line x1="428.90" y1="72.60" x2="433.40" y2="72.60" stroke="#111" stroke-width="1.3"/>
<line x1="428.90" y1="30.60" x2="433.40" y2="30.60" stroke="#111" stroke-width="1.3"/>
<line x1="454.40" y1="156.60" x2="454.40" y2="161.80" stroke="#111" stroke-width="1.3"/>
<line x1="486.80" y1="156.60" x2="486.80" y2="161.80" stroke="#111" stroke-width="1.3"/>
<path d="M454.40 42.00V35.80H487.00" stroke="#333" stroke-width="1.2" fill="none"/>
<line x1="591.70" y1="72.60" x2="591.70" y2="66.40" stroke="#111" stroke-width="1.3"/>
<line x1="586.20" y1="66.40" x2="597.20" y2="66.40" stroke="#111" stroke-width="1.3"/>
<rect x="581.40" y="72.60" width="20.60" height="83.60" fill="#989896" stroke="#111" stroke-width="1.3"/>
<line x1="624.00" y1="62.00" x2="624.00" y2="44.60" stroke="#111" stroke-width="1.3"/>
<line x1="618.50" y1="44.60" x2="629.50" y2="44.60" stroke="#111" stroke-width="1.3"/>
<rect x="613.60" y="62.00" width="20.80" height="94.20" fill="#0b3d84" stroke="#111" stroke-width="1.3"/>
<line x1="569.90" y1="30.40" x2="569.90" y2="156.95" stroke="#111" stroke-width="1.5"/>
<line x1="569.15" y1="156.20" x2="645.40" y2="156.20" stroke="#111" stroke-width="1.5"/>
<line x1="565.40" y1="156.20" x2="569.90" y2="156.20" stroke="#111" stroke-width="1.3"/>
<line x1="565.40" y1="131.08" x2="569.90" y2="131.08" stroke="#111" stroke-width="1.3"/>
<line x1="565.40" y1="105.96" x2="569.90" y2="105.96" stroke="#111" stroke-width="1.3"/>
<line x1="565.40" y1="80.84" x2="569.90" y2="80.84" stroke="#111" stroke-width="1.3"/>
<line x1="565.40" y1="55.72" x2="569.90" y2="55.72" stroke="#111" stroke-width="1.3"/>
<line x1="565.40" y1="30.60" x2="569.90" y2="30.60" stroke="#111" stroke-width="1.3"/>
<line x1="591.70" y1="156.20" x2="591.70" y2="161.40" stroke="#111" stroke-width="1.3"/>
<line x1="624.00" y1="156.20" x2="624.00" y2="161.40" stroke="#111" stroke-width="1.3"/>
<path d="M591.60 42.00V35.80H624.00" stroke="#333" stroke-width="1.2" fill="none"/>
<line x1="724.00" y1="60.00" x2="724.00" y2="51.50" stroke="#111" stroke-width="1.3"/>
<line x1="718.50" y1="51.50" x2="729.50" y2="51.50" stroke="#111" stroke-width="1.3"/>
<rect x="713.60" y="60.00" width="20.80" height="96.40" fill="#989896" stroke="#111" stroke-width="1.3"/>
<line x1="756.30" y1="68.00" x2="756.30" y2="52.40" stroke="#111" stroke-width="1.3"/>
<line x1="750.80" y1="52.40" x2="761.80" y2="52.40" stroke="#111" stroke-width="1.3"/>
<rect x="746.00" y="68.00" width="20.60" height="88.40" fill="#0b3d84" stroke="#111" stroke-width="1.3"/>
<line x1="702.30" y1="30.40" x2="702.30" y2="157.15" stroke="#111" stroke-width="1.5"/>
<line x1="701.55" y1="156.40" x2="778.00" y2="156.40" stroke="#111" stroke-width="1.5"/>
<line x1="697.80" y1="156.40" x2="702.30" y2="156.40" stroke="#111" stroke-width="1.3"/>
<line x1="697.80" y1="131.28" x2="702.30" y2="131.28" stroke="#111" stroke-width="1.3"/>
<line x1="697.80" y1="106.16" x2="702.30" y2="106.16" stroke="#111" stroke-width="1.3"/>
<line x1="697.80" y1="81.04" x2="702.30" y2="81.04" stroke="#111" stroke-width="1.3"/>
<line x1="697.80" y1="55.92" x2="702.30" y2="55.92" stroke="#111" stroke-width="1.3"/>
<line x1="697.80" y1="30.80" x2="702.30" y2="30.80" stroke="#111" stroke-width="1.3"/>
<line x1="724.00" y1="156.40" x2="724.00" y2="161.60" stroke="#111" stroke-width="1.3"/>
<line x1="756.50" y1="156.40" x2="756.50" y2="161.60" stroke="#111" stroke-width="1.3"/>
<path d="M724.20 42.00V35.80H756.60" stroke="#333" stroke-width="1.2" fill="none"/>
<line x1="59.75" y1="302.60" x2="59.75" y2="292.60" stroke="#111" stroke-width="1.3"/>
<line x1="54.25" y1="292.60" x2="65.25" y2="292.60" stroke="#111" stroke-width="1.3"/>
<rect x="49.50" y="302.60" width="20.50" height="43.40" fill="#989896" stroke="#111" stroke-width="1.3"/>
<line x1="92.20" y1="275.20" x2="92.20" y2="264.20" stroke="#111" stroke-width="1.3"/>
<line x1="86.70" y1="264.20" x2="97.70" y2="264.20" stroke="#111" stroke-width="1.3"/>
<rect x="81.40" y="275.20" width="21.60" height="70.80" fill="#0b3d84" stroke="#111" stroke-width="1.3"/>
<line x1="37.40" y1="219.60" x2="37.40" y2="346.75" stroke="#111" stroke-width="1.5"/>
<line x1="36.65" y1="346.00" x2="113.60" y2="346.00" stroke="#111" stroke-width="1.5"/>
<line x1="32.90" y1="346.00" x2="37.40" y2="346.00" stroke="#111" stroke-width="1.3"/>
<line x1="32.90" y1="320.80" x2="37.40" y2="320.80" stroke="#111" stroke-width="1.3"/>
<line x1="32.90" y1="295.60" x2="37.40" y2="295.60" stroke="#111" stroke-width="1.3"/>
<line x1="32.90" y1="270.40" x2="37.40" y2="270.40" stroke="#111" stroke-width="1.3"/>
<line x1="32.90" y1="245.20" x2="37.40" y2="245.20" stroke="#111" stroke-width="1.3"/>
<line x1="32.90" y1="220.00" x2="37.40" y2="220.00" stroke="#111" stroke-width="1.3"/>
<line x1="59.50" y1="346.00" x2="59.50" y2="351.20" stroke="#111" stroke-width="1.3"/>
<line x1="92.00" y1="346.00" x2="92.00" y2="351.20" stroke="#111" stroke-width="1.3"/>
<path d="M59.50 231.40V224.60H92.40" stroke="#555" stroke-width="1.2" fill="none"/>
<line x1="184.90" y1="302.00" x2="184.90" y2="290.40" stroke="#111" stroke-width="1.3"/>
<line x1="179.40" y1="290.40" x2="190.40" y2="290.40" stroke="#111" stroke-width="1.3"/>
<rect x="174.40" y="302.00" width="21.00" height="44.00" fill="#989896" stroke="#111" stroke-width="1.3"/>
<line x1="217.50" y1="270.00" x2="217.50" y2="253.60" stroke="#111" stroke-width="1.3"/>
<line x1="212.00" y1="253.60" x2="223.00" y2="253.60" stroke="#111" stroke-width="1.3"/>
<rect x="207.40" y="270.00" width="20.20" height="76.00" fill="#0b3d84" stroke="#111" stroke-width="1.3"/>
<line x1="163.00" y1="219.60" x2="163.00" y2="346.75" stroke="#111" stroke-width="1.5"/>
<line x1="162.25" y1="346.00" x2="238.60" y2="346.00" stroke="#111" stroke-width="1.5"/>
<line x1="158.50" y1="346.00" x2="163.00" y2="346.00" stroke="#111" stroke-width="1.3"/>
<line x1="158.50" y1="320.80" x2="163.00" y2="320.80" stroke="#111" stroke-width="1.3"/>
<line x1="158.50" y1="295.60" x2="163.00" y2="295.60" stroke="#111" stroke-width="1.3"/>
<line x1="158.50" y1="270.40" x2="163.00" y2="270.40" stroke="#111" stroke-width="1.3"/>
<line x1="158.50" y1="245.20" x2="163.00" y2="245.20" stroke="#111" stroke-width="1.3"/>
<line x1="158.50" y1="220.00" x2="163.00" y2="220.00" stroke="#111" stroke-width="1.3"/>
<line x1="184.90" y1="346.00" x2="184.90" y2="351.20" stroke="#111" stroke-width="1.3"/>
<line x1="217.30" y1="346.00" x2="217.30" y2="351.20" stroke="#111" stroke-width="1.3"/>
<path d="M184.60 231.40V224.60H217.40" stroke="#555" stroke-width="1.2" fill="none"/>
<line x1="299.50" y1="219.60" x2="299.50" y2="346.55" stroke="#111" stroke-width="1.5"/>
<line x1="298.75" y1="345.80" x2="374.80" y2="345.80" stroke="#111" stroke-width="1.5"/>
<line x1="295.00" y1="345.60" x2="299.50" y2="345.60" stroke="#111" stroke-width="1.3"/>
<line x1="295.00" y1="320.50" x2="299.50" y2="320.50" stroke="#111" stroke-width="1.3"/>
<line x1="295.00" y1="295.40" x2="299.50" y2="295.40" stroke="#111" stroke-width="1.3"/>
<line x1="295.00" y1="270.30" x2="299.50" y2="270.30" stroke="#111" stroke-width="1.3"/>
<line x1="295.00" y1="245.20" x2="299.50" y2="245.20" stroke="#111" stroke-width="1.3"/>
<line x1="295.00" y1="220.10" x2="299.50" y2="220.10" stroke="#111" stroke-width="1.3"/>
<line x1="321.20" y1="345.80" x2="321.20" y2="351.00" stroke="#111" stroke-width="1.3"/>
<line x1="353.70" y1="345.80" x2="353.70" y2="351.00" stroke="#111" stroke-width="1.3"/>
<path d="M321.00 231.60V225.00H353.60" stroke="#777" stroke-width="1.2" fill="none"/>
<circle cx="321.20" cy="240.18" r="1.3" fill="#9c9c9c"/>
<circle cx="321.20" cy="250.22" r="1.3" fill="#9c9c9c"/>
<circle cx="320.20" cy="254.24" r="1.3" fill="#9c9c9c"/>
<circle cx="323.98" cy="256.74" r="1.3" fill="#9c9c9c"/>
<circle cx="319.24" cy="252.00" r="1.3" fill="#9c9c9c"/>
<circle cx="323.51" cy="252.84" r="1.3" fill="#9c9c9c"/>
<circle cx="317.43" cy="257.04" r="1.3" fill="#9c9c9c"/>
<circle cx="320.66" cy="251.46" r="1.3" fill="#9c9c9c"/>
<circle cx="317.22" cy="252.01" r="1.3" fill="#9c9c9c"/>
<circle cx="322.97" cy="254.40" r="1.3" fill="#9c9c9c"/>
<circle cx="321.53" cy="257.56" r="1.3" fill="#9c9c9c"/>
<circle cx="319.54" cy="258.61" r="1.3" fill="#9c9c9c"/>
<circle cx="320.11" cy="268.76" r="1.3" fill="#9c9c9c"/>
<circle cx="317.30" cy="271.40" r="1.3" fill="#9c9c9c"/>
<circle cx="321.14" cy="265.65" r="1.3" fill="#9c9c9c"/>
<circle cx="317.43" cy="268.53" r="1.3" fill="#9c9c9c"/>
<circle cx="314.50" cy="267.73" r="1.3" fill="#9c9c9c"/>
<circle cx="321.99" cy="260.03" r="1.3" fill="#9c9c9c"/>
<circle cx="316.80" cy="262.78" r="1.3" fill="#9c9c9c"/>
<circle cx="326.24" cy="257.85" r="1.3" fill="#9c9c9c"/>
<circle cx="318.86" cy="270.11" r="1.3" fill="#9c9c9c"/>
<circle cx="324.16" cy="261.66" r="1.3" fill="#9c9c9c"/>
<circle cx="323.58" cy="260.14" r="1.3" fill="#9c9c9c"/>
<circle cx="322.43" cy="267.54" r="1.3" fill="#9c9c9c"/>
<circle cx="326.05" cy="259.40" r="1.3" fill="#9c9c9c"/>
<circle cx="322.45" cy="264.70" r="1.3" fill="#9c9c9c"/>
<circle cx="320.00" cy="260.60" r="1.3" fill="#9c9c9c"/>
<circle cx="321.88" cy="269.37" r="1.3" fill="#9c9c9c"/>
<circle cx="325.10" cy="264.66" r="1.3" fill="#9c9c9c"/>
<circle cx="319.71" cy="264.48" r="1.3" fill="#9c9c9c"/>
<circle cx="314.61" cy="264.92" r="1.3" fill="#9c9c9c"/>
<circle cx="324.05" cy="271.19" r="1.3" fill="#9c9c9c"/>
<circle cx="316.58" cy="266.27" r="1.3" fill="#9c9c9c"/>
<circle cx="327.95" cy="264.75" r="1.3" fill="#9c9c9c"/>
<circle cx="317.45" cy="259.71" r="1.3" fill="#9c9c9c"/>
<circle cx="314.28" cy="258.35" r="1.3" fill="#9c9c9c"/>
<circle cx="325.69" cy="260.79" r="1.3" fill="#9c9c9c"/>
<circle cx="326.38" cy="271.02" r="1.3" fill="#9c9c9c"/>
<circle cx="319.05" cy="266.79" r="1.3" fill="#9c9c9c"/>
<circle cx="320.61" cy="263.20" r="1.3" fill="#9c9c9c"/>
<circle cx="325.98" cy="268.22" r="1.3" fill="#9c9c9c"/>
<circle cx="315.37" cy="262.34" r="1.3" fill="#9c9c9c"/>
<circle cx="314.40" cy="271.57" r="1.3" fill="#9c9c9c"/>
<circle cx="319.80" cy="274.75" r="1.3" fill="#9c9c9c"/>
<circle cx="321.90" cy="282.53" r="1.3" fill="#9c9c9c"/>
<circle cx="318.79" cy="279.70" r="1.3" fill="#9c9c9c"/>
<circle cx="319.93" cy="281.83" r="1.3" fill="#9c9c9c"/>
<circle cx="321.05" cy="279.97" r="1.3" fill="#9c9c9c"/>
<circle cx="320.56" cy="283.57" r="1.3" fill="#9c9c9c"/>
<circle cx="323.44" cy="282.54" r="1.3" fill="#9c9c9c"/>
<circle cx="319.57" cy="277.71" r="1.3" fill="#9c9c9c"/>
<circle cx="326.91" cy="292.35" r="1.3" fill="#9c9c9c"/>
<circle cx="312.52" cy="296.75" r="1.3" fill="#9c9c9c"/>
<circle cx="325.14" cy="295.80" r="1.3" fill="#9c9c9c"/>
<circle cx="322.00" cy="291.80" r="1.3" fill="#9c9c9c"/>
<circle cx="329.76" cy="295.24" r="1.3" fill="#9c9c9c"/>
<circle cx="323.87" cy="295.23" r="1.3" fill="#9c9c9c"/>
<circle cx="322.57" cy="293.93" r="1.3" fill="#9c9c9c"/>
<circle cx="317.57" cy="296.46" r="1.3" fill="#9c9c9c"/>
<circle cx="327.96" cy="289.62" r="1.3" fill="#9c9c9c"/>
<circle cx="327.65" cy="294.60" r="1.3" fill="#9c9c9c"/>
<circle cx="319.69" cy="291.30" r="1.3" fill="#9c9c9c"/>
<circle cx="312.35" cy="295.01" r="1.3" fill="#9c9c9c"/>
<circle cx="312.88" cy="290.29" r="1.3" fill="#9c9c9c"/>
<circle cx="329.52" cy="290.74" r="1.3" fill="#9c9c9c"/>
<circle cx="315.29" cy="292.61" r="1.3" fill="#9c9c9c"/>
<circle cx="318.44" cy="294.06" r="1.3" fill="#9c9c9c"/>
<circle cx="321.20" cy="294.68" r="1.3" fill="#9c9c9c"/>
<circle cx="326.29" cy="289.47" r="1.3" fill="#9c9c9c"/>
<circle cx="316.03" cy="294.35" r="1.3" fill="#9c9c9c"/>
<circle cx="318.39" cy="289.89" r="1.3" fill="#9c9c9c"/>
<circle cx="324.57" cy="290.26" r="1.3" fill="#9c9c9c"/>
<circle cx="329.94" cy="293.26" r="1.3" fill="#9c9c9c"/>
<circle cx="325.80" cy="307.28" r="1.3" fill="#9c9c9c"/>
<circle cx="314.46" cy="309.31" r="1.3" fill="#9c9c9c"/>
<circle cx="315.34" cy="298.11" r="1.3" fill="#9c9c9c"/>
<circle cx="323.24" cy="300.17" r="1.3" fill="#9c9c9c"/>
<circle cx="318.51" cy="299.06" r="1.3" fill="#9c9c9c"/>
<circle cx="316.94" cy="305.85" r="1.3" fill="#9c9c9c"/>
<circle cx="323.32" cy="298.70" r="1.3" fill="#9c9c9c"/>
<circle cx="329.10" cy="297.53" r="1.3" fill="#9c9c9c"/>
<circle cx="322.24" cy="308.63" r="1.3" fill="#9c9c9c"/>
<circle cx="311.80" cy="309.05" r="1.3" fill="#9c9c9c"/>
<circle cx="328.67" cy="309.47" r="1.3" fill="#9c9c9c"/>
<circle cx="327.90" cy="299.78" r="1.3" fill="#9c9c9c"/>
<circle cx="323.55" cy="305.84" r="1.3" fill="#9c9c9c"/>
<circle cx="315.56" cy="302.72" r="1.3" fill="#9c9c9c"/>
<circle cx="316.44" cy="309.35" r="1.3" fill="#9c9c9c"/>
<circle cx="320.34" cy="297.92" r="1.3" fill="#9c9c9c"/>
<circle cx="327.06" cy="306.70" r="1.3" fill="#9c9c9c"/>
<circle cx="311.25" cy="299.24" r="1.3" fill="#9c9c9c"/>
<circle cx="312.87" cy="301.37" r="1.3" fill="#9c9c9c"/>
<circle cx="330.79" cy="305.33" r="1.3" fill="#9c9c9c"/>
<circle cx="317.00" cy="298.14" r="1.3" fill="#9c9c9c"/>
<circle cx="320.73" cy="307.03" r="1.3" fill="#9c9c9c"/>
<circle cx="324.30" cy="309.10" r="1.3" fill="#9c9c9c"/>
<circle cx="320.18" cy="302.37" r="1.3" fill="#9c9c9c"/>
<circle cx="312.28" cy="306.21" r="1.3" fill="#9c9c9c"/>
<circle cx="330.78" cy="298.08" r="1.3" fill="#9c9c9c"/>
<circle cx="323.60" cy="307.54" r="1.3" fill="#9c9c9c"/>
<circle cx="322.08" cy="297.18" r="1.3" fill="#9c9c9c"/>
<circle cx="324.50" cy="301.13" r="1.3" fill="#9c9c9c"/>
<circle cx="322.05" cy="306.95" r="1.3" fill="#9c9c9c"/>
<circle cx="318.97" cy="297.71" r="1.3" fill="#9c9c9c"/>
<circle cx="328.28" cy="306.17" r="1.3" fill="#9c9c9c"/>
<circle cx="323.16" cy="302.61" r="1.3" fill="#9c9c9c"/>
<circle cx="312.45" cy="302.99" r="1.3" fill="#9c9c9c"/>
<circle cx="328.60" cy="303.77" r="1.3" fill="#9c9c9c"/>
<circle cx="312.57" cy="299.68" r="1.3" fill="#9c9c9c"/>
<circle cx="331.09" cy="299.94" r="1.3" fill="#9c9c9c"/>
<circle cx="313.89" cy="298.35" r="1.3" fill="#9c9c9c"/>
<circle cx="329.51" cy="299.56" r="1.3" fill="#9c9c9c"/>
<circle cx="326.22" cy="299.06" r="1.3" fill="#9c9c9c"/>
<circle cx="317.34" cy="312.02" r="1.3" fill="#9c9c9c"/>
<circle cx="317.09" cy="313.31" r="1.3" fill="#9c9c9c"/>
<circle cx="323.21" cy="311.89" r="1.3" fill="#9c9c9c"/>
<circle cx="315.97" cy="314.21" r="1.3" fill="#9c9c9c"/>
<circle cx="324.90" cy="310.64" r="1.3" fill="#9c9c9c"/>
<circle cx="321.70" cy="312.72" r="1.3" fill="#9c9c9c"/>
<circle cx="320.64" cy="311.21" r="1.3" fill="#9c9c9c"/>
<circle cx="320.39" cy="320.03" r="1.3" fill="#9c9c9c"/>
<circle cx="318.82" cy="321.07" r="1.3" fill="#9c9c9c"/>
<circle cx="320.78" cy="318.14" r="1.3" fill="#9c9c9c"/>
<circle cx="319.01" cy="318.71" r="1.3" fill="#9c9c9c"/>
<circle cx="320.00" cy="322.07" r="1.3" fill="#9c9c9c"/>
<circle cx="353.70" cy="232.65" r="1.3" fill="#0b3d8c"/>
<circle cx="353.70" cy="248.71" r="1.3" fill="#0b3d8c"/>
<circle cx="352.70" cy="252.23" r="1.3" fill="#0b3d8c"/>
<circle cx="354.20" cy="255.24" r="1.3" fill="#0b3d8c"/>
<circle cx="359.07" cy="257.12" r="1.3" fill="#0b3d8c"/>
<circle cx="348.72" cy="264.80" r="1.3" fill="#0b3d8c"/>
<circle cx="356.53" cy="258.15" r="1.3" fill="#0b3d8c"/>
<circle cx="351.40" cy="259.56" r="1.3" fill="#0b3d8c"/>
<circle cx="354.98" cy="260.11" r="1.3" fill="#0b3d8c"/>
<circle cx="349.60" cy="260.32" r="1.3" fill="#0b3d8c"/>
<circle cx="352.42" cy="261.60" r="1.3" fill="#0b3d8c"/>
<circle cx="359.64" cy="259.11" r="1.3" fill="#0b3d8c"/>
<circle cx="354.23" cy="257.18" r="1.3" fill="#0b3d8c"/>
<circle cx="350.92" cy="261.48" r="1.3" fill="#0b3d8c"/>
<circle cx="358.40" cy="262.04" r="1.3" fill="#0b3d8c"/>
<circle cx="347.99" cy="263.26" r="1.3" fill="#0b3d8c"/>
<circle cx="349.34" cy="262.51" r="1.3" fill="#0b3d8c"/>
<circle cx="359.68" cy="260.93" r="1.3" fill="#0b3d8c"/>
<circle cx="349.63" cy="257.07" r="1.3" fill="#0b3d8c"/>
<circle cx="354.06" cy="261.34" r="1.3" fill="#0b3d8c"/>
<circle cx="357.68" cy="261.01" r="1.3" fill="#0b3d8c"/>
<circle cx="353.54" cy="259.10" r="1.3" fill="#0b3d8c"/>
<circle cx="351.60" cy="263.39" r="1.3" fill="#0b3d8c"/>
<circle cx="350.92" cy="257.53" r="1.3" fill="#0b3d8c"/>
<circle cx="348.41" cy="258.92" r="1.3" fill="#0b3d8c"/>
<circle cx="358.21" cy="263.35" r="1.3" fill="#0b3d8c"/>
<circle cx="354.04" cy="278.29" r="1.3" fill="#0b3d8c"/>
<circle cx="349.82" cy="267.41" r="1.3" fill="#0b3d8c"/>
<circle cx="359.48" cy="276.77" r="1.3" fill="#0b3d8c"/>
<circle cx="357.00" cy="273.68" r="1.3" fill="#0b3d8c"/>
<circle cx="351.61" cy="279.37" r="1.3" fill="#0b3d8c"/>
<circle cx="356.33" cy="277.34" r="1.3" fill="#0b3d8c"/>
<circle cx="360.61" cy="278.63" r="1.3" fill="#0b3d8c"/>
<circle cx="357.19" cy="279.47" r="1.3" fill="#0b3d8c"/>
<circle cx="349.99" cy="279.53" r="1.3" fill="#0b3d8c"/>
<circle cx="348.49" cy="268.00" r="1.3" fill="#0b3d8c"/>
<circle cx="346.76" cy="274.22" r="1.3" fill="#0b3d8c"/>
<circle cx="357.39" cy="270.88" r="1.3" fill="#0b3d8c"/>
<circle cx="351.23" cy="278.19" r="1.3" fill="#0b3d8c"/>
<circle cx="352.92" cy="279.39" r="1.3" fill="#0b3d8c"/>
<circle cx="357.35" cy="268.69" r="1.3" fill="#0b3d8c"/>
<circle cx="357.59" cy="266.71" r="1.3" fill="#0b3d8c"/>
<circle cx="349.53" cy="272.96" r="1.3" fill="#0b3d8c"/>
<circle cx="350.91" cy="270.22" r="1.3" fill="#0b3d8c"/>
<circle cx="352.07" cy="271.32" r="1.3" fill="#0b3d8c"/>
<circle cx="348.29" cy="272.34" r="1.3" fill="#0b3d8c"/>
<circle cx="350.04" cy="265.87" r="1.3" fill="#0b3d8c"/>
<circle cx="354.58" cy="279.58" r="1.3" fill="#0b3d8c"/>
<circle cx="346.96" cy="277.79" r="1.3" fill="#0b3d8c"/>
<circle cx="348.55" cy="279.35" r="1.3" fill="#0b3d8c"/>
<circle cx="355.75" cy="278.44" r="1.3" fill="#0b3d8c"/>
<circle cx="361.05" cy="272.44" r="1.3" fill="#0b3d8c"/>
<circle cx="361.22" cy="266.24" r="1.3" fill="#0b3d8c"/>
<circle cx="352.86" cy="276.45" r="1.3" fill="#0b3d8c"/>
<circle cx="355.09" cy="276.19" r="1.3" fill="#0b3d8c"/>
<circle cx="354.10" cy="273.68" r="1.3" fill="#0b3d8c"/>
<circle cx="346.64" cy="279.77" r="1.3" fill="#0b3d8c"/>
<circle cx="349.76" cy="269.30" r="1.3" fill="#0b3d8c"/>
<circle cx="349.40" cy="276.47" r="1.3" fill="#0b3d8c"/>
<circle cx="353.16" cy="272.26" r="1.3" fill="#0b3d8c"/>
<circle cx="346.88" cy="271.38" r="1.3" fill="#0b3d8c"/>
<circle cx="351.67" cy="268.15" r="1.3" fill="#0b3d8c"/>
<circle cx="351.76" cy="265.52" r="1.3" fill="#0b3d8c"/>
<circle cx="356.32" cy="267.60" r="1.3" fill="#0b3d8c"/>
<circle cx="360.32" cy="274.41" r="1.3" fill="#0b3d8c"/>
<circle cx="359.02" cy="278.67" r="1.3" fill="#0b3d8c"/>
<circle cx="360.69" cy="270.51" r="1.3" fill="#0b3d8c"/>
<circle cx="346.47" cy="269.75" r="1.3" fill="#0b3d8c"/>
<circle cx="353.67" cy="269.31" r="1.3" fill="#0b3d8c"/>
<circle cx="353.05" cy="274.63" r="1.3" fill="#0b3d8c"/>
<circle cx="358.81" cy="266.27" r="1.3" fill="#0b3d8c"/>
<circle cx="355.01" cy="266.47" r="1.3" fill="#0b3d8c"/>
<circle cx="352.43" cy="277.71" r="1.3" fill="#0b3d8c"/>
<circle cx="348.05" cy="270.40" r="1.3" fill="#0b3d8c"/>
<circle cx="351.98" cy="292.20" r="1.3" fill="#0b3d8c"/>
<circle cx="354.86" cy="285.62" r="1.3" fill="#0b3d8c"/>
<circle cx="353.85" cy="289.70" r="1.3" fill="#0b3d8c"/>
<circle cx="353.96" cy="295.44" r="1.3" fill="#0b3d8c"/>
<circle cx="355.34" cy="280.72" r="1.3" fill="#0b3d8c"/>
<circle cx="352.15" cy="284.84" r="1.3" fill="#0b3d8c"/>
<circle cx="353.45" cy="281.68" r="1.3" fill="#0b3d8c"/>
<circle cx="351.43" cy="287.33" r="1.3" fill="#0b3d8c"/>
<circle cx="350.69" cy="289.66" r="1.3" fill="#0b3d8c"/>
<circle cx="356.14" cy="286.95" r="1.3" fill="#0b3d8c"/>
<circle cx="353.77" cy="294.24" r="1.3" fill="#0b3d8c"/>
<circle cx="356.49" cy="284.93" r="1.3" fill="#0b3d8c"/>
<circle cx="353.09" cy="305.24" r="1.3" fill="#0b3d8c"/>
<circle cx="349.98" cy="302.79" r="1.3" fill="#0b3d8c"/>
<circle cx="357.19" cy="304.85" r="1.3" fill="#0b3d8c"/>
<circle cx="361.45" cy="304.70" r="1.3" fill="#0b3d8c"/>
<circle cx="356.37" cy="309.82" r="1.3" fill="#0b3d8c"/>
<circle cx="357.37" cy="308.12" r="1.3" fill="#0b3d8c"/>
<circle cx="356.67" cy="302.65" r="1.3" fill="#0b3d8c"/>
<circle cx="352.92" cy="311.86" r="1.3" fill="#0b3d8c"/>
<circle cx="360.65" cy="305.77" r="1.3" fill="#0b3d8c"/>
<circle cx="363.45" cy="311.80" r="1.3" fill="#0b3d8c"/>
<circle cx="362.16" cy="303.33" r="1.3" fill="#0b3d8c"/>
<circle cx="360.64" cy="311.01" r="1.3" fill="#0b3d8c"/>
<circle cx="347.09" cy="304.65" r="1.3" fill="#0b3d8c"/>
<circle cx="355.60" cy="304.87" r="1.3" fill="#0b3d8c"/>
<circle cx="348.28" cy="307.82" r="1.3" fill="#0b3d8c"/>
<circle cx="352.98" cy="306.57" r="1.3" fill="#0b3d8c"/>
<circle cx="363.97" cy="310.01" r="1.3" fill="#0b3d8c"/>
<circle cx="342.77" cy="311.27" r="1.3" fill="#0b3d8c"/>
<circle cx="361.12" cy="307.34" r="1.3" fill="#0b3d8c"/>
<circle cx="359.30" cy="305.69" r="1.3" fill="#0b3d8c"/>
<circle cx="343.31" cy="307.17" r="1.3" fill="#0b3d8c"/>
<circle cx="359.29" cy="311.20" r="1.3" fill="#0b3d8c"/>
<circle cx="351.60" cy="304.48" r="1.3" fill="#0b3d8c"/>
<circle cx="345.67" cy="303.72" r="1.3" fill="#0b3d8c"/>
<circle cx="351.10" cy="310.42" r="1.3" fill="#0b3d8c"/>
<circle cx="354.96" cy="311.87" r="1.3" fill="#0b3d8c"/>
<circle cx="351.11" cy="306.83" r="1.3" fill="#0b3d8c"/>
<circle cx="354.55" cy="307.35" r="1.3" fill="#0b3d8c"/>
<circle cx="344.39" cy="303.24" r="1.3" fill="#0b3d8c"/>
<circle cx="349.39" cy="304.10" r="1.3" fill="#0b3d8c"/>
<circle cx="347.82" cy="309.03" r="1.3" fill="#0b3d8c"/>
<circle cx="350.72" cy="308.35" r="1.3" fill="#0b3d8c"/>
<circle cx="344.40" cy="308.93" r="1.3" fill="#0b3d8c"/>
<circle cx="346.36" cy="307.60" r="1.3" fill="#0b3d8c"/>
<circle cx="347.93" cy="311.02" r="1.3" fill="#0b3d8c"/>
<circle cx="357.63" cy="310.16" r="1.3" fill="#0b3d8c"/>
<circle cx="362.03" cy="308.70" r="1.3" fill="#0b3d8c"/>
<circle cx="353.76" cy="303.13" r="1.3" fill="#0b3d8c"/>
<circle cx="363.57" cy="305.38" r="1.3" fill="#0b3d8c"/>
<circle cx="350.78" cy="305.57" r="1.3" fill="#0b3d8c"/>
<circle cx="362.36" cy="307.42" r="1.3" fill="#0b3d8c"/>
<circle cx="349.66" cy="310.53" r="1.3" fill="#0b3d8c"/>
<circle cx="359.59" cy="308.41" r="1.3" fill="#0b3d8c"/>
<circle cx="345.87" cy="311.38" r="1.3" fill="#0b3d8c"/>
<circle cx="351.33" cy="302.45" r="1.3" fill="#0b3d8c"/>
<circle cx="356.33" cy="307.45" r="1.3" fill="#0b3d8c"/>
<circle cx="355.64" cy="306.27" r="1.3" fill="#0b3d8c"/>
<circle cx="364.37" cy="306.83" r="1.3" fill="#0b3d8c"/>
<circle cx="361.20" cy="302.53" r="1.3" fill="#0b3d8c"/>
<circle cx="342.89" cy="304.36" r="1.3" fill="#0b3d8c"/>
<circle cx="344.72" cy="305.58" r="1.3" fill="#0b3d8c"/>
<circle cx="353.29" cy="309.66" r="1.3" fill="#0b3d8c"/>
<circle cx="347.33" cy="305.98" r="1.3" fill="#0b3d8c"/>
<circle cx="352.11" cy="307.86" r="1.3" fill="#0b3d8c"/>
<circle cx="346.98" cy="310.04" r="1.3" fill="#0b3d8c"/>
<circle cx="345.08" cy="310.10" r="1.3" fill="#0b3d8c"/>
<circle cx="348.80" cy="305.28" r="1.3" fill="#0b3d8c"/>
<circle cx="355.22" cy="303.36" r="1.3" fill="#0b3d8c"/>
<circle cx="347.42" cy="303.28" r="1.3" fill="#0b3d8c"/>
<circle cx="354.54" cy="308.79" r="1.3" fill="#0b3d8c"/>
<circle cx="349.51" cy="306.50" r="1.3" fill="#0b3d8c"/>
<circle cx="357.19" cy="306.09" r="1.3" fill="#0b3d8c"/>
<circle cx="357.71" cy="303.53" r="1.3" fill="#0b3d8c"/>
<circle cx="361.85" cy="311.85" r="1.3" fill="#0b3d8c"/>
<circle cx="345.60" cy="306.44" r="1.3" fill="#0b3d8c"/>
<circle cx="362.85" cy="304.33" r="1.3" fill="#0b3d8c"/>
<circle cx="357.34" cy="311.38" r="1.3" fill="#0b3d8c"/>
<circle cx="343.24" cy="309.86" r="1.3" fill="#0b3d8c"/>
<circle cx="363.54" cy="308.50" r="1.3" fill="#0b3d8c"/>
<circle cx="343.26" cy="302.74" r="1.3" fill="#0b3d8c"/>
<line x1="310.40" y1="287.60" x2="332.00" y2="287.60" stroke="#111" stroke-width="1.3"/>
<line x1="343.00" y1="283.60" x2="364.40" y2="283.60" stroke="#111" stroke-width="1.3"/>
<line x1="431.20" y1="219.40" x2="431.20" y2="345.55" stroke="#111" stroke-width="1.5"/>
<line x1="430.45" y1="344.80" x2="506.60" y2="344.80" stroke="#111" stroke-width="1.5"/>
<line x1="426.70" y1="344.60" x2="431.20" y2="344.60" stroke="#111" stroke-width="1.3"/>
<line x1="426.70" y1="319.55" x2="431.20" y2="319.55" stroke="#111" stroke-width="1.3"/>
<line x1="426.70" y1="294.50" x2="431.20" y2="294.50" stroke="#111" stroke-width="1.3"/>
<line x1="426.70" y1="269.45" x2="431.20" y2="269.45" stroke="#111" stroke-width="1.3"/>
<line x1="426.70" y1="244.40" x2="431.20" y2="244.40" stroke="#111" stroke-width="1.3"/>
<line x1="426.70" y1="219.35" x2="431.20" y2="219.35" stroke="#111" stroke-width="1.3"/>
<line x1="452.40" y1="344.80" x2="452.40" y2="350.00" stroke="#111" stroke-width="1.3"/>
<line x1="485.00" y1="344.80" x2="485.00" y2="350.00" stroke="#111" stroke-width="1.3"/>
<path d="M452.50 230.60V224.60H485.00" stroke="#222" stroke-width="1.2" fill="none"/>
<circle cx="452.40" cy="248.41" r="1.3" fill="#9c9c9c"/>
<circle cx="452.69" cy="279.05" r="1.3" fill="#9c9c9c"/>
<circle cx="453.09" cy="274.09" r="1.3" fill="#9c9c9c"/>
<circle cx="449.53" cy="264.48" r="1.3" fill="#9c9c9c"/>
<circle cx="454.63" cy="287.49" r="1.3" fill="#9c9c9c"/>
<circle cx="450.65" cy="278.24" r="1.3" fill="#9c9c9c"/>
<circle cx="452.20" cy="250.58" r="1.3" fill="#9c9c9c"/>
<circle cx="452.24" cy="256.56" r="1.3" fill="#9c9c9c"/>
<circle cx="454.83" cy="264.13" r="1.3" fill="#9c9c9c"/>
<circle cx="453.99" cy="268.33" r="1.3" fill="#9c9c9c"/>
<circle cx="449.52" cy="262.76" r="1.3" fill="#9c9c9c"/>
<circle cx="453.00" cy="259.50" r="1.3" fill="#9c9c9c"/>
<circle cx="449.30" cy="276.67" r="1.3" fill="#9c9c9c"/>
<circle cx="454.90" cy="260.98" r="1.3" fill="#9c9c9c"/>
<circle cx="454.39" cy="273.15" r="1.3" fill="#9c9c9c"/>
<circle cx="455.27" cy="271.28" r="1.3" fill="#9c9c9c"/>
<circle cx="449.74" cy="254.96" r="1.3" fill="#9c9c9c"/>
<circle cx="450.53" cy="282.88" r="1.3" fill="#9c9c9c"/>
<circle cx="451.09" cy="264.44" r="1.3" fill="#9c9c9c"/>
<circle cx="451.65" cy="268.93" r="1.3" fill="#9c9c9c"/>
<circle cx="455.07" cy="266.03" r="1.3" fill="#9c9c9c"/>
<circle cx="455.23" cy="262.36" r="1.3" fill="#9c9c9c"/>
<circle cx="455.64" cy="255.81" r="1.3" fill="#9c9c9c"/>
<circle cx="447.68" cy="290.96" r="1.3" fill="#9c9c9c"/>
<circle cx="458.90" cy="289.54" r="1.3" fill="#9c9c9c"/>
<circle cx="453.37" cy="289.20" r="1.3" fill="#9c9c9c"/>
<circle cx="446.29" cy="293.86" r="1.3" fill="#9c9c9c"/>
<circle cx="456.61" cy="295.34" r="1.3" fill="#9c9c9c"/>
<circle cx="447.51" cy="292.92" r="1.3" fill="#9c9c9c"/>
<circle cx="456.16" cy="293.79" r="1.3" fill="#9c9c9c"/>
<circle cx="446.02" cy="289.44" r="1.3" fill="#9c9c9c"/>
<circle cx="446.03" cy="291.38" r="1.3" fill="#9c9c9c"/>
<circle cx="450.03" cy="290.60" r="1.3" fill="#9c9c9c"/>
<circle cx="459.38" cy="292.20" r="1.3" fill="#9c9c9c"/>
<circle cx="451.11" cy="294.52" r="1.3" fill="#9c9c9c"/>
<circle cx="445.39" cy="303.61" r="1.3" fill="#9c9c9c"/>
<circle cx="459.90" cy="314.71" r="1.3" fill="#9c9c9c"/>
<circle cx="461.76" cy="309.41" r="1.3" fill="#9c9c9c"/>
<circle cx="449.91" cy="298.02" r="1.3" fill="#9c9c9c"/>
<circle cx="452.81" cy="306.55" r="1.3" fill="#9c9c9c"/>
<circle cx="454.35" cy="302.96" r="1.3" fill="#9c9c9c"/>
<circle cx="454.85" cy="304.61" r="1.3" fill="#9c9c9c"/>
<circle cx="452.54" cy="297.16" r="1.3" fill="#9c9c9c"/>
<circle cx="456.89" cy="307.12" r="1.3" fill="#9c9c9c"/>
<circle cx="448.34" cy="310.90" r="1.3" fill="#9c9c9c"/>
<circle cx="442.43" cy="304.83" r="1.3" fill="#9c9c9c"/>
<circle cx="454.03" cy="307.43" r="1.3" fill="#9c9c9c"/>
<circle cx="454.76" cy="315.15" r="1.3" fill="#9c9c9c"/>
<circle cx="443.43" cy="303.19" r="1.3" fill="#9c9c9c"/>
<circle cx="451.71" cy="303.28" r="1.3" fill="#9c9c9c"/>
<circle cx="449.39" cy="302.27" r="1.3" fill="#9c9c9c"/>
<circle cx="457.26" cy="301.73" r="1.3" fill="#9c9c9c"/>
<circle cx="443.44" cy="315.11" r="1.3" fill="#9c9c9c"/>
<circle cx="461.85" cy="302.33" r="1.3" fill="#9c9c9c"/>
<circle cx="451.51" cy="310.64" r="1.3" fill="#9c9c9c"/>
<circle cx="448.73" cy="303.96" r="1.3" fill="#9c9c9c"/>
<circle cx="448.58" cy="308.43" r="1.3" fill="#9c9c9c"/>
<circle cx="449.89" cy="309.67" r="1.3" fill="#9c9c9c"/>
<circle cx="442.75" cy="300.45" r="1.3" fill="#9c9c9c"/>
<circle cx="457.20" cy="304.42" r="1.3" fill="#9c9c9c"/>
<circle cx="446.74" cy="309.48" r="1.3" fill="#9c9c9c"/>
<circle cx="447.07" cy="299.84" r="1.3" fill="#9c9c9c"/>
<circle cx="451.08" cy="311.88" r="1.3" fill="#9c9c9c"/>
<circle cx="444.28" cy="301.90" r="1.3" fill="#9c9c9c"/>
<circle cx="451.14" cy="299.26" r="1.3" fill="#9c9c9c"/>
<circle cx="445.65" cy="298.83" r="1.3" fill="#9c9c9c"/>
<circle cx="455.46" cy="308.96" r="1.3" fill="#9c9c9c"/>
<circle cx="444.67" cy="311.15" r="1.3" fill="#9c9c9c"/>
<circle cx="446.09" cy="305.19" r="1.3" fill="#9c9c9c"/>
<circle cx="459.30" cy="299.78" r="1.3" fill="#9c9c9c"/>
<circle cx="455.30" cy="299.77" r="1.3" fill="#9c9c9c"/>
<circle cx="449.24" cy="299.79" r="1.3" fill="#9c9c9c"/>
<circle cx="448.16" cy="313.01" r="1.3" fill="#9c9c9c"/>
<circle cx="450.55" cy="307.34" r="1.3" fill="#9c9c9c"/>
<circle cx="445.38" cy="297.55" r="1.3" fill="#9c9c9c"/>
<circle cx="461.44" cy="315.45" r="1.3" fill="#9c9c9c"/>
<circle cx="462.33" cy="298.35" r="1.3" fill="#9c9c9c"/>
<circle cx="461.58" cy="307.06" r="1.3" fill="#9c9c9c"/>
<circle cx="446.73" cy="297.42" r="1.3" fill="#9c9c9c"/>
<circle cx="456.35" cy="297.89" r="1.3" fill="#9c9c9c"/>
<circle cx="460.49" cy="297.49" r="1.3" fill="#9c9c9c"/>
<circle cx="453.97" cy="297.96" r="1.3" fill="#9c9c9c"/>
<circle cx="457.40" cy="315.29" r="1.3" fill="#9c9c9c"/>
<circle cx="452.91" cy="302.59" r="1.3" fill="#9c9c9c"/>
<circle cx="459.78" cy="310.61" r="1.3" fill="#9c9c9c"/>
<circle cx="458.16" cy="306.22" r="1.3" fill="#9c9c9c"/>
<circle cx="458.86" cy="305.10" r="1.3" fill="#9c9c9c"/>
<circle cx="458.35" cy="312.19" r="1.3" fill="#9c9c9c"/>
<circle cx="458.64" cy="297.53" r="1.3" fill="#9c9c9c"/>
<circle cx="459.80" cy="303.26" r="1.3" fill="#9c9c9c"/>
<circle cx="447.74" cy="314.57" r="1.3" fill="#9c9c9c"/>
<circle cx="452.96" cy="310.29" r="1.3" fill="#9c9c9c"/>
<circle cx="444.79" cy="314.47" r="1.3" fill="#9c9c9c"/>
<circle cx="443.60" cy="313.11" r="1.3" fill="#9c9c9c"/>
<circle cx="459.63" cy="296.50" r="1.3" fill="#9c9c9c"/>
<circle cx="452.44" cy="313.86" r="1.3" fill="#9c9c9c"/>
<circle cx="453.53" cy="313.12" r="1.3" fill="#9c9c9c"/>
<circle cx="485.80" cy="246.91" r="0.90" fill="#3f67ab" stroke="#0b3d8c" stroke-width="0.9"/>
<circle cx="479.05" cy="265.19" r="0.90" fill="#3f67ab" stroke="#0b3d8c" stroke-width="0.9"/>
<circle cx="479.82" cy="262.31" r="0.90" fill="#3f67ab" stroke="#0b3d8c" stroke-width="0.9"/>
<circle cx="483.52" cy="268.25" r="0.90" fill="#3f67ab" stroke="#0b3d8c" stroke-width="0.9"/>
<circle cx="489.51" cy="252.89" r="0.90" fill="#3f67ab" stroke="#0b3d8c" stroke-width="0.9"/>
<circle cx="480.83" cy="255.65" r="0.90" fill="#3f67ab" stroke="#0b3d8c" stroke-width="0.9"/>
<circle cx="481.65" cy="259.77" r="0.90" fill="#3f67ab" stroke="#0b3d8c" stroke-width="0.9"/>
<circle cx="491.41" cy="265.58" r="0.90" fill="#3f67ab" stroke="#0b3d8c" stroke-width="0.9"/>
<circle cx="486.90" cy="263.86" r="0.90" fill="#3f67ab" stroke="#0b3d8c" stroke-width="0.9"/>
<circle cx="490.32" cy="256.25" r="0.90" fill="#3f67ab" stroke="#0b3d8c" stroke-width="0.9"/>
<circle cx="478.80" cy="253.58" r="0.90" fill="#3f67ab" stroke="#0b3d8c" stroke-width="0.9"/>
<circle cx="487.58" cy="258.52" r="0.90" fill="#3f67ab" stroke="#0b3d8c" stroke-width="0.9"/>
<circle cx="478.84" cy="260.91" r="0.90" fill="#3f67ab" stroke="#0b3d8c" stroke-width="0.9"/>
<circle cx="486.09" cy="253.06" r="0.90" fill="#3f67ab" stroke="#0b3d8c" stroke-width="0.9"/>
<circle cx="483.71" cy="260.28" r="0.90" fill="#3f67ab" stroke="#0b3d8c" stroke-width="0.9"/>
<circle cx="482.08" cy="266.54" r="0.90" fill="#3f67ab" stroke="#0b3d8c" stroke-width="0.9"/>
<circle cx="486.90" cy="268.61" r="0.90" fill="#3f67ab" stroke="#0b3d8c" stroke-width="0.9"/>
<circle cx="480.43" cy="251.46" r="0.90" fill="#3f67ab" stroke="#0b3d8c" stroke-width="0.9"/>
<circle cx="481.64" cy="258.04" r="0.90" fill="#3f67ab" stroke="#0b3d8c" stroke-width="0.9"/>
<circle cx="490.43" cy="284.86" r="0.90" fill="#3f67ab" stroke="#0b3d8c" stroke-width="0.9"/>
<circle cx="486.29" cy="285.57" r="0.90" fill="#3f67ab" stroke="#0b3d8c" stroke-width="0.9"/>
<circle cx="476.22" cy="273.87" r="0.90" fill="#3f67ab" stroke="#0b3d8c" stroke-width="0.9"/>
<circle cx="479.04" cy="290.76" r="0.90" fill="#3f67ab" stroke="#0b3d8c" stroke-width="0.9"/>
<circle cx="487.54" cy="276.66" r="0.90" fill="#3f67ab" stroke="#0b3d8c" stroke-width="0.9"/>
<circle cx="481.28" cy="287.24" r="0.90" fill="#3f67ab" stroke="#0b3d8c" stroke-width="0.9"/>
<circle cx="484.10" cy="288.44" r="0.90" fill="#3f67ab" stroke="#0b3d8c" stroke-width="0.9"/>
<circle cx="489.34" cy="291.14" r="0.90" fill="#3f67ab" stroke="#0b3d8c" stroke-width="0.9"/>
<circle cx="495.00" cy="274.04" r="0.90" fill="#3f67ab" stroke="#0b3d8c" stroke-width="0.9"/>
<circle cx="495.12" cy="277.27" r="0.90" fill="#3f67ab" stroke="#0b3d8c" stroke-width="0.9"/>
<circle cx="491.06" cy="272.64" r="0.90" fill="#3f67ab" stroke="#0b3d8c" stroke-width="0.9"/>
<circle cx="494.75" cy="283.77" r="0.90" fill="#3f67ab" stroke="#0b3d8c" stroke-width="0.9"/>
<circle cx="491.99" cy="279.56" r="0.90" fill="#3f67ab" stroke="#0b3d8c" stroke-width="0.9"/>
<circle cx="478.21" cy="286.12" r="0.90" fill="#3f67ab" stroke="#0b3d8c" stroke-width="0.9"/>
<circle cx="477.00" cy="283.09" r="0.90" fill="#3f67ab" stroke="#0b3d8c" stroke-width="0.9"/>
<circle cx="474.21" cy="285.36" r="0.90" fill="#3f67ab" stroke="#0b3d8c" stroke-width="0.9"/>
<circle cx="481.98" cy="276.29" r="0.90" fill="#3f67ab" stroke="#0b3d8c" stroke-width="0.9"/>
<circle cx="476.14" cy="286.18" r="0.90" fill="#3f67ab" stroke="#0b3d8c" stroke-width="0.9"/>
<circle cx="483.33" cy="272.32" r="0.90" fill="#3f67ab" stroke="#0b3d8c" stroke-width="0.9"/>
<circle cx="475.31" cy="287.83" r="0.90" fill="#3f67ab" stroke="#0b3d8c" stroke-width="0.9"/>
<circle cx="477.29" cy="278.43" r="0.90" fill="#3f67ab" stroke="#0b3d8c" stroke-width="0.9"/>
<circle cx="484.79" cy="291.18" r="0.90" fill="#3f67ab" stroke="#0b3d8c" stroke-width="0.9"/>
<circle cx="495.95" cy="287.00" r="0.90" fill="#3f67ab" stroke="#0b3d8c" stroke-width="0.9"/>
<circle cx="485.64" cy="289.54" r="0.90" fill="#3f67ab" stroke="#0b3d8c" stroke-width="0.9"/>
<circle cx="493.56" cy="287.01" r="0.90" fill="#3f67ab" stroke="#0b3d8c" stroke-width="0.9"/>
<circle cx="484.97" cy="275.34" r="0.90" fill="#3f67ab" stroke="#0b3d8c" stroke-width="0.9"/>
<circle cx="486.44" cy="273.40" r="0.90" fill="#3f67ab" stroke="#0b3d8c" stroke-width="0.9"/>
<circle cx="488.39" cy="273.94" r="0.90" fill="#3f67ab" stroke="#0b3d8c" stroke-width="0.9"/>
<circle cx="490.38" cy="276.15" r="0.90" fill="#3f67ab" stroke="#0b3d8c" stroke-width="0.9"/>
<circle cx="488.45" cy="285.25" r="0.90" fill="#3f67ab" stroke="#0b3d8c" stroke-width="0.9"/>
<circle cx="489.09" cy="278.87" r="0.90" fill="#3f67ab" stroke="#0b3d8c" stroke-width="0.9"/>
<circle cx="474.98" cy="278.60" r="0.90" fill="#3f67ab" stroke="#0b3d8c" stroke-width="0.9"/>
<circle cx="486.52" cy="279.27" r="0.90" fill="#3f67ab" stroke="#0b3d8c" stroke-width="0.9"/>
<circle cx="474.29" cy="273.51" r="0.90" fill="#3f67ab" stroke="#0b3d8c" stroke-width="0.9"/>
<circle cx="478.44" cy="274.39" r="0.90" fill="#3f67ab" stroke="#0b3d8c" stroke-width="0.9"/>
<circle cx="481.27" cy="278.54" r="0.90" fill="#3f67ab" stroke="#0b3d8c" stroke-width="0.9"/>
<circle cx="485.58" cy="282.55" r="0.90" fill="#3f67ab" stroke="#0b3d8c" stroke-width="0.9"/>
<circle cx="474.75" cy="291.47" r="0.90" fill="#3f67ab" stroke="#0b3d8c" stroke-width="0.9"/>
<circle cx="484.75" cy="280.08" r="0.90" fill="#3f67ab" stroke="#0b3d8c" stroke-width="0.9"/>
<circle cx="481.98" cy="289.21" r="0.90" fill="#3f67ab" stroke="#0b3d8c" stroke-width="0.9"/>
<circle cx="492.43" cy="291.78" r="0.90" fill="#3f67ab" stroke="#0b3d8c" stroke-width="0.9"/>
<circle cx="482.39" cy="281.11" r="0.90" fill="#3f67ab" stroke="#0b3d8c" stroke-width="0.9"/>
<circle cx="487.66" cy="289.70" r="0.90" fill="#3f67ab" stroke="#0b3d8c" stroke-width="0.9"/>
<circle cx="492.87" cy="283.30" r="0.90" fill="#3f67ab" stroke="#0b3d8c" stroke-width="0.9"/>
<circle cx="475.47" cy="276.43" r="0.90" fill="#3f67ab" stroke="#0b3d8c" stroke-width="0.9"/>
<circle cx="477.28" cy="288.46" r="0.90" fill="#3f67ab" stroke="#0b3d8c" stroke-width="0.9"/>
<circle cx="493.89" cy="281.14" r="0.90" fill="#3f67ab" stroke="#0b3d8c" stroke-width="0.9"/>
<circle cx="489.74" cy="282.25" r="0.90" fill="#3f67ab" stroke="#0b3d8c" stroke-width="0.9"/>
<circle cx="487.79" cy="272.24" r="0.90" fill="#3f67ab" stroke="#0b3d8c" stroke-width="0.9"/>
<circle cx="477.17" cy="290.34" r="0.90" fill="#3f67ab" stroke="#0b3d8c" stroke-width="0.9"/>
<circle cx="477.91" cy="295.63" r="0.90" fill="#3f67ab" stroke="#0b3d8c" stroke-width="0.9"/>
<circle cx="482.18" cy="293.86" r="0.90" fill="#3f67ab" stroke="#0b3d8c" stroke-width="0.9"/>
<circle cx="481.71" cy="300.07" r="0.90" fill="#3f67ab" stroke="#0b3d8c" stroke-width="0.9"/>
<circle cx="476.06" cy="299.21" r="0.90" fill="#3f67ab" stroke="#0b3d8c" stroke-width="0.9"/>
<circle cx="494.60" cy="303.37" r="0.90" fill="#3f67ab" stroke="#0b3d8c" stroke-width="0.9"/>
<circle cx="488.39" cy="307.61" r="0.90" fill="#3f67ab" stroke="#0b3d8c" stroke-width="0.9"/>
<circle cx="480.61" cy="304.81" r="0.90" fill="#3f67ab" stroke="#0b3d8c" stroke-width="0.9"/>
<circle cx="474.44" cy="310.59" r="0.90" fill="#3f67ab" stroke="#0b3d8c" stroke-width="0.9"/>
<circle cx="491.76" cy="295.78" r="0.90" fill="#3f67ab" stroke="#0b3d8c" stroke-width="0.9"/>
<circle cx="477.49" cy="292.88" r="0.90" fill="#3f67ab" stroke="#0b3d8c" stroke-width="0.9"/>
<circle cx="484.90" cy="299.91" r="0.90" fill="#3f67ab" stroke="#0b3d8c" stroke-width="0.9"/>
<circle cx="494.63" cy="300.11" r="0.90" fill="#3f67ab" stroke="#0b3d8c" stroke-width="0.9"/>
<circle cx="495.31" cy="296.56" r="0.90" fill="#3f67ab" stroke="#0b3d8c" stroke-width="0.9"/>
<circle cx="490.39" cy="298.17" r="0.90" fill="#3f67ab" stroke="#0b3d8c" stroke-width="0.9"/>
<circle cx="492.29" cy="299.27" r="0.90" fill="#3f67ab" stroke="#0b3d8c" stroke-width="0.9"/>
<circle cx="494.41" cy="305.27" r="0.90" fill="#3f67ab" stroke="#0b3d8c" stroke-width="0.9"/>
<circle cx="487.18" cy="303.30" r="0.90" fill="#3f67ab" stroke="#0b3d8c" stroke-width="0.9"/>
<circle cx="489.48" cy="293.96" r="0.90" fill="#3f67ab" stroke="#0b3d8c" stroke-width="0.9"/>
<circle cx="482.81" cy="303.41" r="0.90" fill="#3f67ab" stroke="#0b3d8c" stroke-width="0.9"/>
<circle cx="480.24" cy="295.47" r="0.90" fill="#3f67ab" stroke="#0b3d8c" stroke-width="0.9"/>
<circle cx="474.29" cy="303.20" r="0.90" fill="#3f67ab" stroke="#0b3d8c" stroke-width="0.9"/>
<circle cx="485.88" cy="307.53" r="0.90" fill="#3f67ab" stroke="#0b3d8c" stroke-width="0.9"/>
<circle cx="487.52" cy="297.83" r="0.90" fill="#3f67ab" stroke="#0b3d8c" stroke-width="0.9"/>
<circle cx="495.42" cy="309.74" r="0.90" fill="#3f67ab" stroke="#0b3d8c" stroke-width="0.9"/>
<circle cx="494.24" cy="292.23" r="0.90" fill="#3f67ab" stroke="#0b3d8c" stroke-width="0.9"/>
<circle cx="479.67" cy="309.29" r="0.90" fill="#3f67ab" stroke="#0b3d8c" stroke-width="0.9"/>
<circle cx="491.39" cy="307.92" r="0.90" fill="#3f67ab" stroke="#0b3d8c" stroke-width="0.9"/>
<circle cx="479.77" cy="292.77" r="0.90" fill="#3f67ab" stroke="#0b3d8c" stroke-width="0.9"/>
<circle cx="477.47" cy="301.05" r="0.90" fill="#3f67ab" stroke="#0b3d8c" stroke-width="0.9"/>
<circle cx="476.68" cy="305.01" r="0.90" fill="#3f67ab" stroke="#0b3d8c" stroke-width="0.9"/>
<circle cx="489.26" cy="300.37" r="0.90" fill="#3f67ab" stroke="#0b3d8c" stroke-width="0.9"/>
<circle cx="484.65" cy="294.96" r="0.90" fill="#3f67ab" stroke="#0b3d8c" stroke-width="0.9"/>
<circle cx="477.70" cy="309.74" r="0.90" fill="#3f67ab" stroke="#0b3d8c" stroke-width="0.9"/>
<circle cx="489.01" cy="303.58" r="0.90" fill="#3f67ab" stroke="#0b3d8c" stroke-width="0.9"/>
<circle cx="493.29" cy="310.50" r="0.90" fill="#3f67ab" stroke="#0b3d8c" stroke-width="0.9"/>
<circle cx="492.65" cy="303.81" r="0.90" fill="#3f67ab" stroke="#0b3d8c" stroke-width="0.9"/>
<circle cx="486.92" cy="295.16" r="0.90" fill="#3f67ab" stroke="#0b3d8c" stroke-width="0.9"/>
<circle cx="479.62" cy="299.00" r="0.90" fill="#3f67ab" stroke="#0b3d8c" stroke-width="0.9"/>
<circle cx="493.62" cy="295.15" r="0.90" fill="#3f67ab" stroke="#0b3d8c" stroke-width="0.9"/>
<circle cx="489.70" cy="309.48" r="0.90" fill="#3f67ab" stroke="#0b3d8c" stroke-width="0.9"/>
<circle cx="486.00" cy="301.55" r="0.90" fill="#3f67ab" stroke="#0b3d8c" stroke-width="0.9"/>
<circle cx="475.57" cy="307.21" r="0.90" fill="#3f67ab" stroke="#0b3d8c" stroke-width="0.9"/>
<line x1="442.00" y1="294.40" x2="463.00" y2="294.40" stroke="#111" stroke-width="1.3"/>
<line x1="474.00" y1="286.00" x2="496.00" y2="286.00" stroke="#111" stroke-width="1.3"/>
<line x1="582.40" y1="203.00" x2="582.40" y2="329.95" stroke="#111" stroke-width="1.5"/>
<line x1="581.65" y1="329.20" x2="772.00" y2="329.20" stroke="#111" stroke-width="1.5"/>
<line x1="577.90" y1="329.40" x2="582.40" y2="329.40" stroke="#111" stroke-width="1.3"/>
<line x1="577.90" y1="304.32" x2="582.40" y2="304.32" stroke="#111" stroke-width="1.3"/>
<line x1="577.90" y1="279.24" x2="582.40" y2="279.24" stroke="#111" stroke-width="1.3"/>
<line x1="577.90" y1="254.16" x2="582.40" y2="254.16" stroke="#111" stroke-width="1.3"/>
<line x1="577.90" y1="229.08" x2="582.40" y2="229.08" stroke="#111" stroke-width="1.3"/>
<line x1="577.90" y1="204.00" x2="582.40" y2="204.00" stroke="#111" stroke-width="1.3"/>
<line x1="597.60" y1="329.20" x2="597.60" y2="334.40" stroke="#111" stroke-width="1.3"/>
<line x1="620.30" y1="329.20" x2="620.30" y2="334.40" stroke="#111" stroke-width="1.3"/>
<line x1="643.00" y1="329.20" x2="643.00" y2="334.40" stroke="#111" stroke-width="1.3"/>
<line x1="665.70" y1="329.20" x2="665.70" y2="334.40" stroke="#111" stroke-width="1.3"/>
<line x1="688.40" y1="329.20" x2="688.40" y2="334.40" stroke="#111" stroke-width="1.3"/>
<line x1="711.10" y1="329.20" x2="711.10" y2="334.40" stroke="#111" stroke-width="1.3"/>
<line x1="733.80" y1="329.20" x2="733.80" y2="334.40" stroke="#111" stroke-width="1.3"/>
<line x1="756.50" y1="329.20" x2="756.50" y2="334.40" stroke="#111" stroke-width="1.3"/>
<line x1="643.00" y1="314.50" x2="643.00" y2="325.50" stroke="#ababab" stroke-width="1.1"/>
<line x1="640.20" y1="314.50" x2="645.80" y2="314.50" stroke="#ababab" stroke-width="1.3"/>
<line x1="640.20" y1="325.50" x2="645.80" y2="325.50" stroke="#ababab" stroke-width="1.3"/>
<line x1="665.70" y1="303.00" x2="665.70" y2="316.00" stroke="#ababab" stroke-width="1.1"/>
<line x1="662.90" y1="303.00" x2="668.50" y2="303.00" stroke="#ababab" stroke-width="1.3"/>
<line x1="662.90" y1="316.00" x2="668.50" y2="316.00" stroke="#ababab" stroke-width="1.3"/>
<line x1="688.40" y1="291.00" x2="688.40" y2="307.40" stroke="#ababab" stroke-width="1.1"/>
<line x1="685.60" y1="291.00" x2="691.20" y2="291.00" stroke="#ababab" stroke-width="1.3"/>
<line x1="685.60" y1="307.40" x2="691.20" y2="307.40" stroke="#ababab" stroke-width="1.3"/>
<line x1="711.10" y1="257.40" x2="711.10" y2="293.00" stroke="#ababab" stroke-width="1.1"/>
<line x1="708.30" y1="257.40" x2="713.90" y2="257.40" stroke="#ababab" stroke-width="1.3"/>
<line x1="708.30" y1="293.00" x2="713.90" y2="293.00" stroke="#ababab" stroke-width="1.3"/>
<line x1="733.80" y1="220.60" x2="733.80" y2="276.60" stroke="#ababab" stroke-width="1.1"/>
<line x1="731.00" y1="220.60" x2="736.60" y2="220.60" stroke="#ababab" stroke-width="1.3"/>
<line x1="731.00" y1="276.60" x2="736.60" y2="276.60" stroke="#ababab" stroke-width="1.3"/>
<line x1="756.50" y1="204.00" x2="756.50" y2="258.00" stroke="#ababab" stroke-width="1.1"/>
<line x1="753.70" y1="204.00" x2="759.30" y2="204.00" stroke="#ababab" stroke-width="1.3"/>
<line x1="753.70" y1="258.00" x2="759.30" y2="258.00" stroke="#ababab" stroke-width="1.3"/>
<line x1="643.00" y1="316.20" x2="643.00" y2="323.10" stroke="#21539c" stroke-width="1.1"/>
<line x1="640.20" y1="316.20" x2="645.80" y2="316.20" stroke="#21539c" stroke-width="1.3"/>
<line x1="640.20" y1="323.10" x2="645.80" y2="323.10" stroke="#21539c" stroke-width="1.3"/>
<line x1="665.70" y1="301.40" x2="665.70" y2="314.80" stroke="#21539c" stroke-width="1.1"/>
<line x1="662.90" y1="301.40" x2="668.50" y2="301.40" stroke="#21539c" stroke-width="1.3"/>
<line x1="662.90" y1="314.80" x2="668.50" y2="314.80" stroke="#21539c" stroke-width="1.3"/>
<line x1="688.40" y1="282.90" x2="688.40" y2="302.80" stroke="#21539c" stroke-width="1.1"/>
<line x1="685.60" y1="282.90" x2="691.20" y2="282.90" stroke="#21539c" stroke-width="1.3"/>
<line x1="685.60" y1="302.80" x2="691.20" y2="302.80" stroke="#21539c" stroke-width="1.3"/>
<line x1="711.10" y1="265.40" x2="711.10" y2="292.60" stroke="#21539c" stroke-width="1.1"/>
<line x1="708.30" y1="265.40" x2="713.90" y2="265.40" stroke="#21539c" stroke-width="1.3"/>
<line x1="708.30" y1="292.60" x2="713.90" y2="292.60" stroke="#21539c" stroke-width="1.3"/>
<line x1="733.80" y1="243.40" x2="733.80" y2="270.40" stroke="#21539c" stroke-width="1.1"/>
<line x1="731.00" y1="243.40" x2="736.60" y2="243.40" stroke="#21539c" stroke-width="1.3"/>
<line x1="731.00" y1="270.40" x2="736.60" y2="270.40" stroke="#21539c" stroke-width="1.3"/>
<line x1="756.50" y1="223.60" x2="756.50" y2="272.00" stroke="#21539c" stroke-width="1.1"/>
<line x1="753.70" y1="223.60" x2="759.30" y2="223.60" stroke="#21539c" stroke-width="1.3"/>
<line x1="753.70" y1="272.00" x2="759.30" y2="272.00" stroke="#21539c" stroke-width="1.3"/>
<polyline points="597.60,329.20 620.30,328.20 643.00,320.00 665.70,309.30 688.40,298.40 711.10,275.60 733.80,248.60 756.50,231.00" fill="none" stroke="#a0a0a0" stroke-width="1.6"/>
<circle cx="597.60" cy="329.20" r="2.65" fill="#a0a0a0"/>
<circle cx="620.30" cy="328.20" r="2.65" fill="#a0a0a0"/>
<circle cx="643.00" cy="320.00" r="2.65" fill="#a0a0a0"/>
<circle cx="665.70" cy="309.30" r="2.65" fill="#a0a0a0"/>
<circle cx="688.40" cy="298.40" r="2.65" fill="#a0a0a0"/>
<circle cx="711.10" cy="275.60" r="2.65" fill="#a0a0a0"/>
<circle cx="733.80" cy="248.60" r="2.65" fill="#a0a0a0"/>
<circle cx="756.50" cy="231.00" r="2.65" fill="#a0a0a0"/>
<polyline points="597.60,329.20 620.30,328.00 643.00,320.00 665.70,307.90 688.40,292.80 711.10,278.60 733.80,257.00 756.50,248.00" fill="none" stroke="#0b3d8c" stroke-width="1.9"/>
<circle cx="597.60" cy="329.20" r="2.65" fill="#0b3d8c"/>
<circle cx="620.30" cy="328.00" r="2.65" fill="#0b3d8c"/>
<circle cx="643.00" cy="320.00" r="2.65" fill="#0b3d8c"/>
<circle cx="665.70" cy="307.90" r="2.65" fill="#0b3d8c"/>
<circle cx="688.40" cy="292.80" r="2.65" fill="#0b3d8c"/>
<circle cx="711.10" cy="278.60" r="2.65" fill="#0b3d8c"/>
<circle cx="733.80" cy="257.00" r="2.65" fill="#0b3d8c"/>
<circle cx="756.50" cy="248.00" r="2.65" fill="#0b3d8c"/>
<line x1="592.00" y1="209.60" x2="606.00" y2="209.60" stroke="#a0a0a0" stroke-width="2"/>
<circle cx="598.8" cy="209.6" r="2.3" fill="#a0a0a0"/>
<line x1="592.00" y1="227.60" x2="606.00" y2="227.60" stroke="#0b3d8c" stroke-width="2"/>
<circle cx="598.8" cy="227.6" r="2.3" fill="#0b3d8c"/>
<path d="M762.2 225.4H766.3V253H762.2" stroke="#222" stroke-width="1.2" fill="none"/>
<g filter="url(#gs)">
<text transform="translate(0.27 16.8) scale(0.93 1)" font-size="18">A</text>
<text transform="translate(261.94 16.8) scale(0.86 1)" font-size="18">B</text>
<text transform="translate(530.8 16.8) scale(0.935 1)" font-size="18">C</text>
<text transform="translate(1.17 204.8) scale(0.93 1)" font-size="18">D</text>
<text transform="translate(262.9 204.9) scale(0.81 1)" font-size="18">E</text>
<text transform="translate(532.24 204.9) scale(0.86 1)" font-size="18">F</text>
<text x="79.00" y="12.20" font-size="6.8" text-anchor="middle" fill="#222" textLength="6.8" lengthAdjust="spacingAndGlyphs">EV</text>
<text x="79.00" y="19.40" font-size="6.8" text-anchor="middle" fill="#222" textLength="22" lengthAdjust="spacingAndGlyphs">clone E1</text>
<text x="111.30" y="23.00" font-size="7.6" text-anchor="middle" fill="#222" textLength="19.4" lengthAdjust="spacingAndGlyphs">0.4 %</text>
<text x="148.00" y="12.20" font-size="6.8" fill="#222" textLength="22" lengthAdjust="spacingAndGlyphs">Sca-1 OE</text>
<text x="148.00" y="19.40" font-size="6.8" fill="#222" textLength="22" lengthAdjust="spacingAndGlyphs">clone A4</text>
<text x="191.50" y="23.40" font-size="7.6" text-anchor="middle" fill="#222" textLength="23.8" lengthAdjust="spacingAndGlyphs">99.7 %</text>
<text x="53.20" y="53.20" font-size="5.4" text-anchor="middle" fill="#333" textLength="9" lengthAdjust="spacingAndGlyphs" transform="rotate(-90 53.20 53.20)">FSC</text>
<text x="66.70" y="72.80" font-size="5.6" text-anchor="middle" fill="#333" textLength="13.4" lengthAdjust="spacingAndGlyphs">Sca-1</text>
<text x="31.50" y="159.24" font-size="9" text-anchor="end">0</text>
<text x="31.50" y="147.74" font-size="9" text-anchor="end">20</text>
<text x="31.50" y="136.24" font-size="9" text-anchor="end">40</text>
<text x="31.50" y="124.74" font-size="9" text-anchor="end">60</text>
<text x="31.50" y="113.24" font-size="9" text-anchor="end">80</text>
<text x="31.50" y="101.74" font-size="9" text-anchor="end">100</text>
<text x="59.30" y="171.00" font-size="9.6" text-anchor="middle">EV</text>
<text x="91.40" y="171.00" font-size="9.6" text-anchor="middle">Sca-1 OE</text>
<text x="74.50" y="88.40" font-size="8.3" text-anchor="middle"><tspan font-style="italic">P &lt; 0.0001</tspan></text>
<text x="12.00" y="124.50" font-size="9.4" text-anchor="middle" transform="rotate(-90 12.00 124.50)">% of Sca-1<tspan font-size="6" dy="-4.8">+</tspan></text>
<text x="157.30" y="159.24" font-size="9" text-anchor="end">0</text>
<text x="157.30" y="140.44" font-size="9" text-anchor="end">5</text>
<text x="157.30" y="121.64" font-size="9" text-anchor="end">10</text>
<text x="157.30" y="102.84" font-size="9" text-anchor="end">15</text>
<text x="185.00" y="171.00" font-size="9.6" text-anchor="middle">EV</text>
<text x="217.20" y="171.00" font-size="9.6" text-anchor="middle">Sca-1 OE</text>
<text x="199.70" y="90.00" font-size="8.3" text-anchor="middle"><tspan font-style="italic">P</tspan> = 0.002</text>
<text x="141.20" y="125.00" font-size="9" text-anchor="middle" transform="rotate(-90 141.20 125.00)">Sca-1 MFI</text>
<text x="294.10" y="159.84" font-size="9" text-anchor="end">0.0</text>
<text x="294.10" y="117.84" font-size="9" text-anchor="end">0.5</text>
<text x="294.10" y="75.84" font-size="9" text-anchor="end">1.0</text>
<text x="294.10" y="33.84" font-size="9" text-anchor="end">1.5</text>
<text x="321.90" y="171.60" font-size="9.6" text-anchor="middle">EV</text>
<text x="354.50" y="171.60" font-size="9.6" text-anchor="middle">Sca-1 OE</text>
<text x="338.50" y="13.00" font-size="10" text-anchor="middle">20% FBS</text>
<text x="337.00" y="30.00" font-size="9.2" text-anchor="middle" font-style="italic" textLength="13.4" lengthAdjust="spacingAndGlyphs">n.s.</text>
<text x="273.00" y="93.50" font-size="10" text-anchor="middle" transform="rotate(-90 273.00 93.50)">JC-1 retention index</text>
<text x="427.30" y="159.84" font-size="9" text-anchor="end">0.0</text>
<text x="427.30" y="117.84" font-size="9" text-anchor="end">0.5</text>
<text x="427.30" y="75.84" font-size="9" text-anchor="end">1.0</text>
<text x="427.30" y="33.84" font-size="9" text-anchor="end">1.5</text>
<text x="454.40" y="171.60" font-size="9.6" text-anchor="middle">EV</text>
<text x="486.80" y="171.60" font-size="9.6" text-anchor="middle">Sca-1 OE</text>
<text x="470.50" y="13.00" font-size="10" text-anchor="middle">2% FBS</text>
<text x="469.00" y="30.00" font-size="9.2" text-anchor="middle" font-style="italic" textLength="13.4" lengthAdjust="spacingAndGlyphs">n.s.</text>
<text x="405.50" y="93.50" font-size="10" text-anchor="middle" transform="rotate(-90 405.50 93.50)">JC-1 retention index</text>
<text x="563.80" y="159.44" font-size="9" text-anchor="end">0.0</text>
<text x="563.80" y="134.32" font-size="9" text-anchor="end">0.2</text>
<text x="563.80" y="109.20" font-size="9" text-anchor="end">0.4</text>
<text x="563.80" y="84.08" font-size="9" text-anchor="end">0.6</text>
<text x="563.80" y="58.96" font-size="9" text-anchor="end">0.8</text>
<text x="563.80" y="33.84" font-size="9" text-anchor="end">1.0</text>
<text x="591.70" y="171.20" font-size="9.6" text-anchor="middle">EV</text>
<text x="624.00" y="171.20" font-size="9.6" text-anchor="middle">Sca-1 OE</text>
<text x="608.00" y="13.00" font-size="10" text-anchor="middle">20% FBS</text>
<text x="606.30" y="30.00" font-size="9.2" text-anchor="middle" font-style="italic" textLength="13.4" lengthAdjust="spacingAndGlyphs">n.s.</text>
<text x="542.50" y="92.50" font-size="10" text-anchor="middle" transform="rotate(-90 542.50 92.50)">MTX retention index</text>
<text x="696.20" y="159.64" font-size="9" text-anchor="end">0.0</text>
<text x="696.20" y="134.52" font-size="9" text-anchor="end">0.2</text>
<text x="696.20" y="109.40" font-size="9" text-anchor="end">0.4</text>
<text x="696.20" y="84.28" font-size="9" text-anchor="end">0.6</text>
<text x="696.20" y="59.16" font-size="9" text-anchor="end">0.8</text>
<text x="696.20" y="34.04" font-size="9" text-anchor="end">1.0</text>
<text x="724.00" y="171.40" font-size="9.6" text-anchor="middle">EV</text>
<text x="756.50" y="171.40" font-size="9.6" text-anchor="middle">Sca-1 OE</text>
<text x="740.30" y="13.00" font-size="10" text-anchor="middle">2% FBS</text>
<text x="738.70" y="30.00" font-size="9.2" text-anchor="middle" font-style="italic" textLength="13.4" lengthAdjust="spacingAndGlyphs">n.s.</text>
<text x="674.50" y="92.50" font-size="10" text-anchor="middle" transform="rotate(-90 674.50 92.50)">MTX retention index</text>
<text x="31.30" y="349.24" font-size="9" text-anchor="end">0</text>
<text x="31.30" y="324.04" font-size="9" text-anchor="end">10</text>
<text x="31.30" y="298.84" font-size="9" text-anchor="end">20</text>
<text x="31.30" y="273.64" font-size="9" text-anchor="end">30</text>
<text x="31.30" y="248.44" font-size="9" text-anchor="end">40</text>
<text x="31.30" y="223.24" font-size="9" text-anchor="end">50</text>
<text x="59.50" y="361.00" font-size="9.6" text-anchor="middle">EV</text>
<text x="92.00" y="361.00" font-size="9.6" text-anchor="middle">Sca-1 OE</text>
<text x="75.90" y="201.60" font-size="10" text-anchor="middle" textLength="39.6" lengthAdjust="spacingAndGlyphs">20% FBS</text>
<text x="74.50" y="219.00" font-size="9.2" text-anchor="middle" font-style="italic" textLength="13.4" lengthAdjust="spacingAndGlyphs">n.s.</text>
<text x="10.60" y="286.00" font-size="8.6" text-anchor="middle" transform="rotate(-90 10.60 286.00)">ALDH activity (%)</text>
<text x="156.90" y="349.24" font-size="9" text-anchor="end">0</text>
<text x="156.90" y="324.04" font-size="9" text-anchor="end">10</text>
<text x="156.90" y="298.84" font-size="9" text-anchor="end">20</text>
<text x="156.90" y="273.64" font-size="9" text-anchor="end">30</text>
<text x="156.90" y="248.44" font-size="9" text-anchor="end">40</text>
<text x="156.90" y="223.24" font-size="9" text-anchor="end">50</text>
<text x="184.90" y="361.00" font-size="9.6" text-anchor="middle">EV</text>
<text x="217.30" y="361.00" font-size="9.6" text-anchor="middle">Sca-1 OE</text>
<text x="201.10" y="202.60" font-size="10" text-anchor="middle">2% FBS</text>
<text x="199.70" y="219.00" font-size="9.2" text-anchor="middle" font-style="italic" textLength="13.4" lengthAdjust="spacingAndGlyphs">n.s.</text>
<text x="138.20" y="281.70" font-size="10.2" text-anchor="middle" transform="rotate(-90 138.20 281.70)">ALDH activity (%)</text>
<text x="293.40" y="348.84" font-size="9" text-anchor="end">0.0</text>
<text x="293.40" y="323.74" font-size="9" text-anchor="end">0.5</text>
<text x="293.40" y="298.64" font-size="9" text-anchor="end">1.0</text>
<text x="293.40" y="273.54" font-size="9" text-anchor="end">1.5</text>
<text x="293.40" y="248.44" font-size="9" text-anchor="end">2.0</text>
<text x="293.40" y="223.34" font-size="9" text-anchor="end">2.5</text>
<text x="321.20" y="360.80" font-size="9.6" text-anchor="middle">EV</text>
<text x="353.70" y="360.80" font-size="9.6" text-anchor="middle">Sca-1 OE</text>
<text x="337.30" y="202.50" font-size="10" text-anchor="middle">20% FBS</text>
<text x="337.00" y="218.60" font-size="9.2" text-anchor="middle" font-style="italic" textLength="13.4" lengthAdjust="spacingAndGlyphs">n.s.</text>
<text x="272.60" y="277.00" font-size="9.2" text-anchor="middle" transform="rotate(-90 272.60 277.00)">spheroid size (x10<tspan font-size="6.2" dy="-3.5">5</tspan><tspan dy="3.5">)</tspan></text>
<text x="425.10" y="347.84" font-size="9" text-anchor="end">0.0</text>
<text x="425.10" y="322.79" font-size="9" text-anchor="end">0.5</text>
<text x="425.10" y="297.74" font-size="9" text-anchor="end">1.0</text>
<text x="425.10" y="272.69" font-size="9" text-anchor="end">1.5</text>
<text x="425.10" y="247.64" font-size="9" text-anchor="end">2.0</text>
<text x="425.10" y="222.59" font-size="9" text-anchor="end">2.5</text>
<text x="452.40" y="359.80" font-size="9.6" text-anchor="middle">EV</text>
<text x="485.00" y="359.80" font-size="9.6" text-anchor="middle">Sca-1 OE</text>
<text x="470.10" y="202.50" font-size="10" text-anchor="middle">2% FBS</text>
<text x="468.20" y="219.40" font-size="8.3" text-anchor="middle"><tspan font-style="italic">P</tspan> &lt; 0.0001</text>
<text x="404.60" y="277.50" font-size="9.2" text-anchor="middle" transform="rotate(-90 404.60 277.50)">spheroid size (x10<tspan font-size="6.2" dy="-3.5">5</tspan><tspan dy="3.5">)</tspan></text>
<text x="576.30" y="332.64" font-size="9" text-anchor="end">0</text>
<text x="576.30" y="307.56" font-size="9" text-anchor="end">200</text>
<text x="576.30" y="282.48" font-size="9" text-anchor="end">400</text>
<text x="576.30" y="257.40" font-size="9" text-anchor="end">600</text>
<text x="576.30" y="232.32" font-size="9" text-anchor="end">800</text>
<text x="576.30" y="207.24" font-size="9" text-anchor="end">1000</text>
<text x="597.60" y="344.20" font-size="9.2" text-anchor="middle">1</text>
<text x="620.30" y="344.20" font-size="9.2" text-anchor="middle">2</text>
<text x="643.00" y="344.20" font-size="9.2" text-anchor="middle">3</text>
<text x="665.70" y="344.20" font-size="9.2" text-anchor="middle">4</text>
<text x="688.40" y="344.20" font-size="9.2" text-anchor="middle">5</text>
<text x="711.10" y="344.20" font-size="9.2" text-anchor="middle">6</text>
<text x="733.80" y="344.20" font-size="9.2" text-anchor="middle">7</text>
<text x="756.50" y="344.20" font-size="9.2" text-anchor="middle">8</text>
<text x="546.90" y="261.00" font-size="8.8" text-anchor="middle" transform="rotate(-90 546.90 261.00)">tumor volume (mm<tspan font-size="6" dy="-3.5">3</tspan><tspan dy="3.5">)</tspan></text>
<text x="677.40" y="360.20" font-size="9.2" text-anchor="middle">time (weeks)</text>
<text x="613.40" y="213.30" font-size="9.4">EV</text>
<text x="613.40" y="231.20" font-size="9.4">Sca-1 OE</text>
<text x="769.20" y="241.30" font-size="7" font-style="italic">n.s.</text>
</g>
</svg>
</body></html>
